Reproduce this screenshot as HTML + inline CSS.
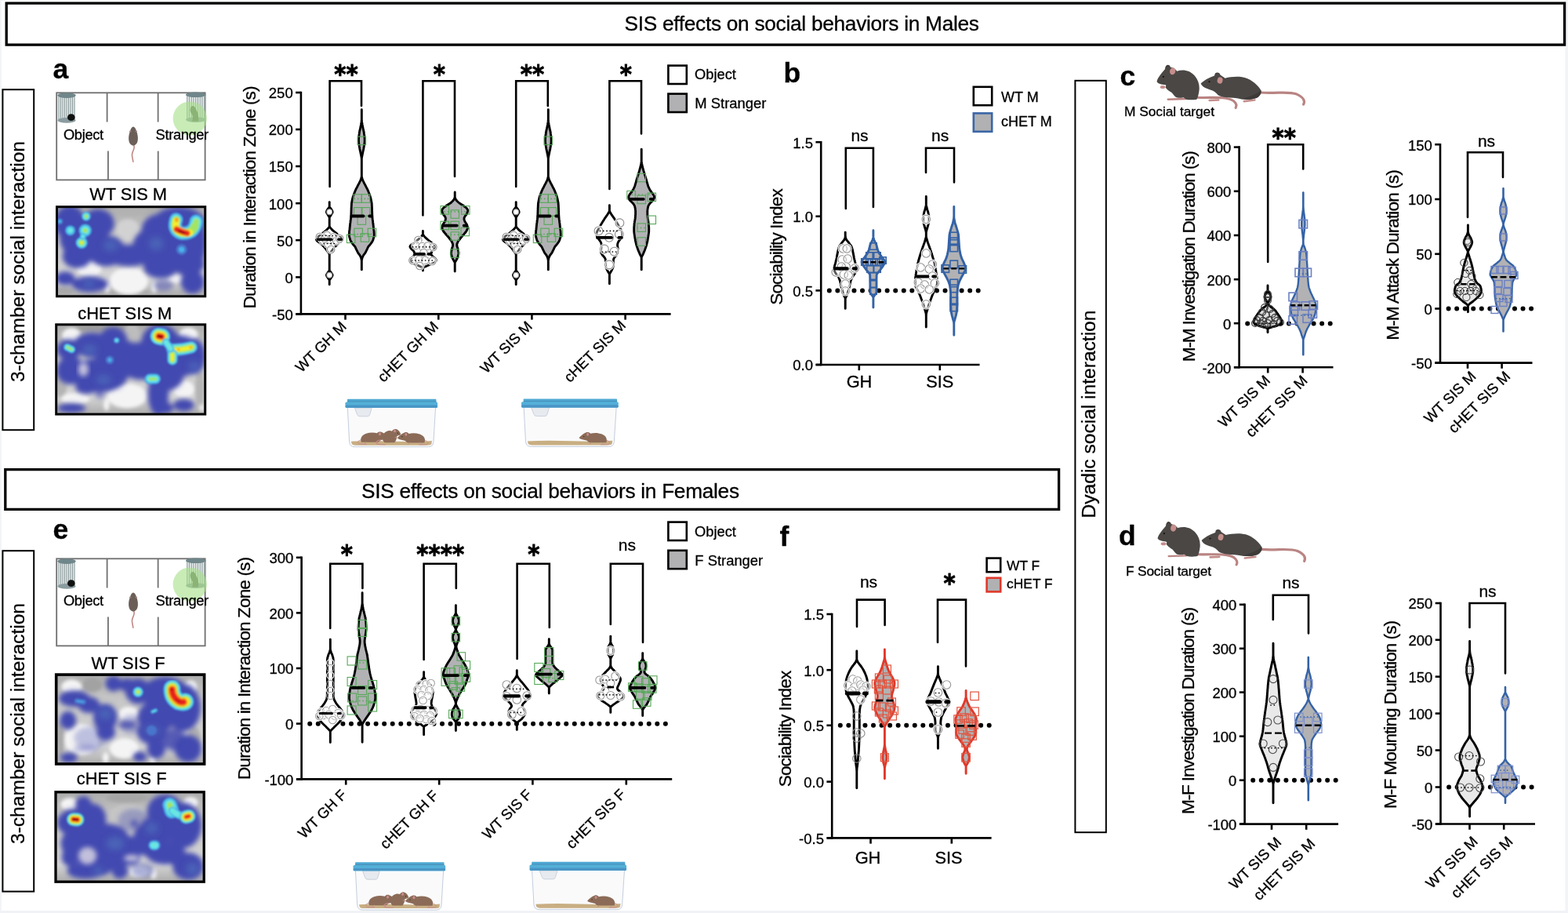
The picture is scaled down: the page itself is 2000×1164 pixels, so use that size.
<!DOCTYPE html>
<html lang="en">
<head>
<meta charset="utf-8">
<title>SIS effects on social behaviors</title>
<style>
html,body{margin:0;padding:0;background:#fff;}
body{width:2000px;height:1164px;overflow:hidden;}
svg{display:block;font-family:"Liberation Sans", sans-serif;}
</style>
</head>
<body>
<svg width="2000" height="1164" viewBox="0 0 2000 1164">
<defs>
<filter id="blur6" x="-20%" y="-20%" width="140%" height="140%"><feGaussianBlur stdDeviation="6"/></filter>
<filter id="blur4" x="-20%" y="-20%" width="140%" height="140%"><feGaussianBlur stdDeviation="4"/></filter>
<filter id="blur3" x="-20%" y="-20%" width="140%" height="140%"><feGaussianBlur stdDeviation="3"/></filter>
<filter id="blur2" x="-20%" y="-20%" width="140%" height="140%"><feGaussianBlur stdDeviation="2.2"/></filter>
<filter id="blur1" x="-20%" y="-20%" width="140%" height="140%"><feGaussianBlur stdDeviation="1"/></filter>
<filter id="soft" x="-5%" y="-5%" width="110%" height="110%"><feGaussianBlur stdDeviation="0.45"/></filter>
</defs>

<rect x="0" y="0" width="2000" height="1164" fill="#fff"/>
<rect x="0" y="0" width="2000" height="1164" fill="#fff"/>
<rect x="0" y="0" width="2" height="1164" fill="#f3f4f7"/>
<rect x="1996.4" y="0" width="3.6" height="1164" fill="#f3f4f7"/>
<rect x="0" y="1161" width="2000" height="3" fill="#f1f2f5"/>
<rect x="0" y="0" width="2000" height="1" fill="#f1f2f5"/>
<rect x="8.20" y="4.10" width="1987.40" height="53.00" fill="#fff" stroke="#000" stroke-width="3.3"/>
<text x="1022.70" y="39.20" font-size="26.24" text-anchor="middle" textLength="452.5" lengthAdjust="spacing" stroke="#000" stroke-width="0.3" stroke-linejoin="round">SIS effects on social behaviors in Males</text>
<rect x="6.80" y="598.60" width="1343.80" height="50.80" fill="#fff" stroke="#000" stroke-width="3.3"/>
<text x="702.00" y="634.60" font-size="26.24" text-anchor="middle" textLength="482.0" lengthAdjust="spacing" stroke="#000" stroke-width="0.3" stroke-linejoin="round">SIS effects on social behaviors in Females</text>
<rect x="3.40" y="114.20" width="39.80" height="434.00" fill="#fff" stroke="#000" stroke-width="2"/>
<text transform="translate(30.60 333.50) rotate(-90)" font-size="24.60" text-anchor="middle" textLength="307.0" lengthAdjust="spacing" stroke="#000" stroke-width="0.3" stroke-linejoin="round">3-chamber social interaction</text>
<rect x="3.40" y="702.20" width="39.80" height="434.40" fill="#fff" stroke="#000" stroke-width="2"/>
<text transform="translate(30.60 922.50) rotate(-90)" font-size="24.60" text-anchor="middle" textLength="307.0" lengthAdjust="spacing" stroke="#000" stroke-width="0.3" stroke-linejoin="round">3-chamber social interaction</text>
<rect x="1371.40" y="102.80" width="39.40" height="958.40" fill="#fff" stroke="#000" stroke-width="2"/>
<text transform="translate(1397.20 528.00) rotate(-90)" font-size="24.60" text-anchor="middle" textLength="265.0" lengthAdjust="spacing" stroke="#000" stroke-width="0.3" stroke-linejoin="round">Dyadic social interaction</text>
<rect x="72.2" y="118.3" width="189.4" height="111.1" fill="#fff" stroke="#6f6f6f" stroke-width="1.8"/>
<line x1="136.60" y1="118.30" x2="136.60" y2="155.50" stroke="#6f6f6f" stroke-width="1.8"/>
<line x1="137.90" y1="192.60" x2="137.90" y2="229.40" stroke="#6f6f6f" stroke-width="1.8"/>
<line x1="201.60" y1="118.30" x2="201.60" y2="155.50" stroke="#6f6f6f" stroke-width="1.8"/>
<line x1="201.70" y1="192.60" x2="201.70" y2="229.40" stroke="#6f6f6f" stroke-width="1.8"/>
<g>
<rect x="74.4" y="121.0" width="21.2" height="31" fill="#e9eeee"/>
<line x1="75.0" y1="122.0" x2="75.0" y2="153.0" stroke="#8b9a9c" stroke-width="1.1"/>
<line x1="77.5" y1="122.0" x2="77.5" y2="153.0" stroke="#8b9a9c" stroke-width="1.1"/>
<line x1="80.0" y1="122.0" x2="80.0" y2="153.0" stroke="#8b9a9c" stroke-width="1.1"/>
<line x1="82.5" y1="122.0" x2="82.5" y2="153.0" stroke="#8b9a9c" stroke-width="1.1"/>
<line x1="85.0" y1="122.0" x2="85.0" y2="153.0" stroke="#8b9a9c" stroke-width="1.1"/>
<line x1="87.5" y1="122.0" x2="87.5" y2="153.0" stroke="#8b9a9c" stroke-width="1.1"/>
<line x1="90.0" y1="122.0" x2="90.0" y2="153.0" stroke="#8b9a9c" stroke-width="1.1"/>
<line x1="92.5" y1="122.0" x2="92.5" y2="153.0" stroke="#8b9a9c" stroke-width="1.1"/>
<line x1="95.0" y1="122.0" x2="95.0" y2="153.0" stroke="#8b9a9c" stroke-width="1.1"/>
<ellipse cx="85.0" cy="153.4" rx="11.6" ry="3.4" fill="#8a9c9f"/>
<ellipse cx="85.0" cy="121.6" rx="11.799999999999999" ry="3.3" fill="#6f868a"/>
</g>
<ellipse cx="90.8" cy="149.7" rx="4.8" ry="4.4" fill="#111"/>
<g>
<rect x="238.1" y="120.2" width="23.2" height="31" fill="#e9eeee"/>
<line x1="238.7" y1="121.2" x2="238.7" y2="152.2" stroke="#8b9a9c" stroke-width="1.1"/>
<line x1="241.4" y1="121.2" x2="241.4" y2="152.2" stroke="#8b9a9c" stroke-width="1.1"/>
<line x1="244.2" y1="121.2" x2="244.2" y2="152.2" stroke="#8b9a9c" stroke-width="1.1"/>
<line x1="246.9" y1="121.2" x2="246.9" y2="152.2" stroke="#8b9a9c" stroke-width="1.1"/>
<line x1="249.7" y1="121.2" x2="249.7" y2="152.2" stroke="#8b9a9c" stroke-width="1.1"/>
<line x1="252.4" y1="121.2" x2="252.4" y2="152.2" stroke="#8b9a9c" stroke-width="1.1"/>
<line x1="255.2" y1="121.2" x2="255.2" y2="152.2" stroke="#8b9a9c" stroke-width="1.1"/>
<line x1="257.9" y1="121.2" x2="257.9" y2="152.2" stroke="#8b9a9c" stroke-width="1.1"/>
<line x1="260.7" y1="121.2" x2="260.7" y2="152.2" stroke="#8b9a9c" stroke-width="1.1"/>
<ellipse cx="249.7" cy="152.6" rx="12.6" ry="3.4" fill="#8a9c9f"/>
<ellipse cx="249.7" cy="120.8" rx="12.799999999999999" ry="3.3" fill="#6f868a"/>
</g>
<path d="M244.0 135.4q4 -2 6 4q4 6 3 15h-8q2 -6 -1 -10q-3 -4 0 -9z" fill="#5d6a52"/>
<circle cx="242.2" cy="151.0" r="21.6" fill="#a8e08a" opacity="0.62"/>
<path d="M170.6 184.8c2.4 5 -2.6 8 -2.2 13c0.3 4 1.4 6.6 1.4 8.4" fill="none" stroke="#c08784" stroke-width="1.6" stroke-linecap="round"/>
<path d="M170 161.4c1.6 0 3 2.2 3.8 5c1.8 4.4 2.6 9 1.8 13c-0.6 3.6 -3 6 -5.6 6c-2.6 0 -5 -2.4 -5.6 -6c-0.8 -4 0 -8.600 1.800 -13c0.8 -2.8 2.2 -5 3.8 -5z" fill="#6b5f58"/>
<ellipse cx="166.2" cy="167.6" rx="1.3" ry="1" fill="#a08580"/><ellipse cx="173.8" cy="167.6" rx="1.3" ry="1" fill="#a08580"/>
<text x="80.90" y="177.50" font-size="18.30" textLength="51.3" lengthAdjust="spacing" stroke="#000" stroke-width="0.3" stroke-linejoin="round">Object</text>
<text x="198.60" y="177.50" font-size="18.30" textLength="67.6" lengthAdjust="spacing" stroke="#000" stroke-width="0.3" stroke-linejoin="round">Stranger</text>
<text x="163.60" y="255.10" font-size="21.80" text-anchor="middle" textLength="98.6" lengthAdjust="spacing" stroke="#000" stroke-width="0.3" stroke-linejoin="round">WT SIS M</text>
<text x="159.20" y="406.80" font-size="21.80" text-anchor="middle" textLength="120.0" lengthAdjust="spacing" stroke="#000" stroke-width="0.3" stroke-linejoin="round">cHET SIS M</text>
<rect x="72.2" y="712.3" width="189.4" height="111.1" fill="#fff" stroke="#6f6f6f" stroke-width="1.8"/>
<line x1="136.60" y1="712.30" x2="136.60" y2="749.50" stroke="#6f6f6f" stroke-width="1.8"/>
<line x1="137.90" y1="786.60" x2="137.90" y2="823.40" stroke="#6f6f6f" stroke-width="1.8"/>
<line x1="201.60" y1="712.30" x2="201.60" y2="749.50" stroke="#6f6f6f" stroke-width="1.8"/>
<line x1="201.70" y1="786.60" x2="201.70" y2="823.40" stroke="#6f6f6f" stroke-width="1.8"/>
<g>
<rect x="74.4" y="715.0" width="21.2" height="31" fill="#e9eeee"/>
<line x1="75.0" y1="716.0" x2="75.0" y2="747.0" stroke="#8b9a9c" stroke-width="1.1"/>
<line x1="77.5" y1="716.0" x2="77.5" y2="747.0" stroke="#8b9a9c" stroke-width="1.1"/>
<line x1="80.0" y1="716.0" x2="80.0" y2="747.0" stroke="#8b9a9c" stroke-width="1.1"/>
<line x1="82.5" y1="716.0" x2="82.5" y2="747.0" stroke="#8b9a9c" stroke-width="1.1"/>
<line x1="85.0" y1="716.0" x2="85.0" y2="747.0" stroke="#8b9a9c" stroke-width="1.1"/>
<line x1="87.5" y1="716.0" x2="87.5" y2="747.0" stroke="#8b9a9c" stroke-width="1.1"/>
<line x1="90.0" y1="716.0" x2="90.0" y2="747.0" stroke="#8b9a9c" stroke-width="1.1"/>
<line x1="92.5" y1="716.0" x2="92.5" y2="747.0" stroke="#8b9a9c" stroke-width="1.1"/>
<line x1="95.0" y1="716.0" x2="95.0" y2="747.0" stroke="#8b9a9c" stroke-width="1.1"/>
<ellipse cx="85.0" cy="747.4" rx="11.6" ry="3.4" fill="#8a9c9f"/>
<ellipse cx="85.0" cy="715.6" rx="11.799999999999999" ry="3.3" fill="#6f868a"/>
</g>
<ellipse cx="90.8" cy="743.7" rx="4.8" ry="4.4" fill="#111"/>
<g>
<rect x="238.1" y="714.2" width="23.2" height="31" fill="#e9eeee"/>
<line x1="238.7" y1="715.2" x2="238.7" y2="746.2" stroke="#8b9a9c" stroke-width="1.1"/>
<line x1="241.4" y1="715.2" x2="241.4" y2="746.2" stroke="#8b9a9c" stroke-width="1.1"/>
<line x1="244.2" y1="715.2" x2="244.2" y2="746.2" stroke="#8b9a9c" stroke-width="1.1"/>
<line x1="246.9" y1="715.2" x2="246.9" y2="746.2" stroke="#8b9a9c" stroke-width="1.1"/>
<line x1="249.7" y1="715.2" x2="249.7" y2="746.2" stroke="#8b9a9c" stroke-width="1.1"/>
<line x1="252.4" y1="715.2" x2="252.4" y2="746.2" stroke="#8b9a9c" stroke-width="1.1"/>
<line x1="255.2" y1="715.2" x2="255.2" y2="746.2" stroke="#8b9a9c" stroke-width="1.1"/>
<line x1="257.9" y1="715.2" x2="257.9" y2="746.2" stroke="#8b9a9c" stroke-width="1.1"/>
<line x1="260.7" y1="715.2" x2="260.7" y2="746.2" stroke="#8b9a9c" stroke-width="1.1"/>
<ellipse cx="249.7" cy="746.6" rx="12.6" ry="3.4" fill="#8a9c9f"/>
<ellipse cx="249.7" cy="714.8" rx="12.799999999999999" ry="3.3" fill="#6f868a"/>
</g>
<path d="M244.0 729.4q4 -2 6 4q4 6 3 15h-8q2 -6 -1 -10q-3 -4 0 -9z" fill="#5d6a52"/>
<circle cx="242.2" cy="745.0" r="21.6" fill="#a8e08a" opacity="0.62"/>
<path d="M170.6 778.8c2.4 5 -2.6 8 -2.2 13c0.3 4 1.4 6.6 1.4 8.4" fill="none" stroke="#c08784" stroke-width="1.6" stroke-linecap="round"/>
<path d="M170 755.4c1.6 0 3 2.2 3.8 5c1.8 4.4 2.6 9 1.8 13c-0.6 3.6 -3 6 -5.6 6c-2.6 0 -5 -2.4 -5.6 -6c-0.8 -4 0 -8.600 1.800 -13c0.8 -2.8 2.2 -5 3.8 -5z" fill="#6b5f58"/>
<ellipse cx="166.2" cy="761.6" rx="1.3" ry="1" fill="#a08580"/><ellipse cx="173.8" cy="761.6" rx="1.3" ry="1" fill="#a08580"/>
<text x="80.90" y="771.50" font-size="18.30" textLength="51.3" lengthAdjust="spacing" stroke="#000" stroke-width="0.3" stroke-linejoin="round">Object</text>
<text x="198.60" y="771.50" font-size="18.30" textLength="67.6" lengthAdjust="spacing" stroke="#000" stroke-width="0.3" stroke-linejoin="round">Stranger</text>
<text x="163.60" y="853.20" font-size="21.80" text-anchor="middle" textLength="94.1" lengthAdjust="spacing" stroke="#000" stroke-width="0.3" stroke-linejoin="round">WT SIS F</text>
<text x="155.20" y="1000.20" font-size="21.80" text-anchor="middle" textLength="114.7" lengthAdjust="spacing" stroke="#000" stroke-width="0.3" stroke-linejoin="round">cHET SIS F</text>
<clipPath id="hc1"><rect x="72.0" y="263.2" width="190.2" height="115.1"/></clipPath>
<linearGradient id="hg1" x1="0" y1="0" x2="0" y2="1"><stop offset="0" stop-color="#a9a9a9"/><stop offset="0.25" stop-color="#c4c4c4"/><stop offset="0.8" stop-color="#d6d6d6"/><stop offset="1" stop-color="#a8a8a8"/></linearGradient>
<g clip-path="url(#hc1)">
<rect x="71.0" y="262.2" width="192.2" height="117.1" fill="url(#hg1)"/>
<g filter="url(#blur2)">
<ellipse cx="164.4" cy="268.9" rx="26.7" ry="4.6" fill="#b2b2b2"/>
<ellipse cx="163.2" cy="293.3" rx="15.1" ry="13.9" fill="#d2d2d2"/>
<ellipse cx="80.9" cy="371.0" rx="13.9" ry="4.6" fill="#a8a8a8"/>
<ellipse cx="245.6" cy="373.3" rx="17.4" ry="3.5" fill="#b0b0b0"/>
<ellipse cx="164.4" cy="372.1" rx="26.7" ry="2.9" fill="#a6a6a6"/>
<ellipse cx="113.9" cy="342.0" rx="15.7" ry="11.0" fill="#f4f4f4"/>
<ellipse cx="164.4" cy="358.2" rx="24.4" ry="17.4" fill="#f4f4f4"/>
<ellipse cx="224.7" cy="354.7" rx="10.4" ry="5.8" fill="#f4f4f4"/>
<ellipse cx="196.8" cy="366.3" rx="3.5" ry="7.0" fill="#f4f4f4"/>
<ellipse cx="136.5" cy="366.3" rx="3.5" ry="7.0" fill="#f4f4f4"/>
</g>
<g filter="url(#blur3)" fill="#4248b0">
<ellipse cx="89.0" cy="284.0" rx="19.7" ry="22.0"/>
<ellipse cx="106.4" cy="303.7" rx="30.2" ry="27.8"/>
<ellipse cx="124.9" cy="285.2" rx="20.9" ry="18.6"/>
<ellipse cx="98.3" cy="326.9" rx="18.6" ry="15.1"/>
<ellipse cx="135.4" cy="319.9" rx="24.4" ry="19.7"/>
<ellipse cx="164.4" cy="325.7" rx="30.2" ry="13.9"/>
<ellipse cx="193.4" cy="315.3" rx="24.4" ry="24.4"/>
<ellipse cx="205.0" cy="293.3" rx="24.4" ry="20.9"/>
<ellipse cx="228.2" cy="284.0" rx="33.6" ry="20.3"/>
<ellipse cx="247.9" cy="307.2" rx="15.1" ry="36.0"/>
<ellipse cx="222.4" cy="324.6" rx="36.0" ry="22.0"/>
<ellipse cx="205.0" cy="340.8" rx="22.0" ry="13.9"/>
<ellipse cx="239.8" cy="336.2" rx="20.9" ry="15.1"/>
<ellipse cx="83.2" cy="354.7" rx="12.2" ry="8.7"/>
<ellipse cx="114.5" cy="362.3" rx="23.2" ry="9.9"/>
<ellipse cx="245.6" cy="359.4" rx="15.1" ry="15.1"/>
<ellipse cx="208.4" cy="364.0" rx="12.8" ry="7.0" opacity="0.5"/>
</g>
<g filter="url(#blur3)">
</g>
<g filter="url(#blur4)">
<ellipse cx="141.2" cy="313.0" rx="9.3" ry="7.0" fill="#4c6cba" opacity="0.8"/>
<ellipse cx="199.2" cy="310.7" rx="9.3" ry="8.1" fill="#4c6cba" opacity="0.8"/>
<ellipse cx="113.3" cy="361.7" rx="8.1" ry="4.6" fill="#4c6cba" opacity="0.8"/>
</g>
<g filter="url(#blur1)" fill="none" stroke-linecap="round" stroke-linejoin="round">
<path d="M224.7 279.9Q220.0 293.3 231.6 297.3Q247.9 298.5 250.2 282.3" stroke="#48b4ea" stroke-width="17.4"/>
<path d="M224.7 279.9Q220.0 293.3 231.6 297.3Q247.9 298.5 250.2 282.3" stroke="#6ae6e2" stroke-width="12.2"/>
<path d="M224.7 280.5Q220.6 293.3 231.6 297.0Q244.4 298.5 248.4 288.6" stroke="#a4e464" stroke-width="10.2"/>
<path d="M250.2 284.0L250.2 282.3" stroke="#a4e464" stroke-width="7.0"/>
<path d="M224.7 281.7Q221.8 293.3 231.6 296.7Q237.4 298.1 242.1 296.7" stroke="#f2ee2e" stroke-width="8.3"/>
<path d="M225.3 279.7L225.3 281.1" stroke="#f7a21e" stroke-width="4.4"/>
<path d="M225.3 292.3Q231.6 295.6 238.6 297.4" stroke="#f7a21e" stroke-width="9.0"/>
<path d="M225.3 292.3Q231.6 295.6 238.6 297.4" stroke="#e8221e" stroke-width="6.0"/>
<path d="M228.2 294.8L235.1 297.0" stroke="#8e0a0a" stroke-width="2.3"/>
<path d="M109.9 275.9h0.01" stroke="#48b4ea" stroke-width="11.6"/>
<path d="M109.9 275.9h0.01" stroke="#6ae6e2" stroke-width="8.1"/>
<path d="M109.9 275.9h0.01" stroke="#a4e464" stroke-width="4.6"/>
<path d="M89.6 293.8h0.01" stroke="#48b4ea" stroke-width="12.8"/>
<path d="M89.6 293.8h0.01" stroke="#6ae6e2" stroke-width="7.0"/>
<path d="M108.7 293.8h0.01" stroke="#48b4ea" stroke-width="16.2"/>
<path d="M108.7 293.8h0.01" stroke="#6ae6e2" stroke-width="11.0"/>
<path d="M108.7 293.8h0.01" stroke="#a4e464" stroke-width="5.8"/>
<path d="M104.1 309.5h0.01" stroke="#48b4ea" stroke-width="15.1"/>
<path d="M104.1 309.5h0.01" stroke="#6ae6e2" stroke-width="11.2"/>
<path d="M104.1 309.5h0.01" stroke="#a4e464" stroke-width="7.3"/>
<path d="M104.1 309.5h0.01" stroke="#f2ee2e" stroke-width="3.5"/>
<path d="M105.8 301.4h0.01" stroke="#48b4ea" stroke-width="8.1"/>
<path d="M105.8 301.4h0.01" stroke="#6ae6e2" stroke-width="4.6"/>
<path d="M231.6 318.2h0.01" stroke="#4a74cc" stroke-width="13.9"/>
<path d="M231.6 318.2h0.01" stroke="#48b4ea" stroke-width="7.0"/>
<path d="M76.2 282.3h0.01" stroke="#4a74cc" stroke-width="8.1"/>
<path d="M76.2 282.3h0.01" stroke="#48b4ea" stroke-width="4.6"/>
</g>
</g>
<rect x="72.5" y="263.7" width="189.2" height="114.1" fill="none" stroke="#000" stroke-width="3.0"/>
<clipPath id="hc2"><rect x="71.2" y="413.3" width="191.0" height="115.3"/></clipPath>
<linearGradient id="hg2" x1="0" y1="0" x2="0" y2="1"><stop offset="0" stop-color="#a9a9a9"/><stop offset="0.25" stop-color="#c4c4c4"/><stop offset="0.8" stop-color="#d6d6d6"/><stop offset="1" stop-color="#a8a8a8"/></linearGradient>
<g clip-path="url(#hc2)">
<rect x="70.2" y="412.3" width="193.0" height="117.3" fill="url(#hg2)"/>
<g filter="url(#blur2)">
<ellipse cx="132.2" cy="418.0" rx="48.1" ry="4.8" fill="#9e9e9e"/>
<ellipse cx="168.2" cy="427.7" rx="10.8" ry="15.6" fill="#bdbdbd"/>
<ellipse cx="78.0" cy="490.2" rx="7.2" ry="18.0" fill="#b4b4b4"/>
<ellipse cx="254.8" cy="496.2" rx="6.0" ry="24.1" fill="#b4b4b4"/>
<ellipse cx="105.7" cy="470.9" rx="8.4" ry="10.2" fill="#f4f4f4"/>
<ellipse cx="162.2" cy="504.6" rx="25.3" ry="15.6" fill="#f4f4f4"/>
<ellipse cx="96.1" cy="508.2" rx="18.0" ry="7.2" fill="#f4f4f4"/>
<ellipse cx="234.4" cy="496.2" rx="13.2" ry="10.8" fill="#f4f4f4"/>
<ellipse cx="91.3" cy="427.7" rx="12.0" ry="9.6" fill="#f4f4f4"/>
<ellipse cx="240.4" cy="426.5" rx="12.0" ry="9.0" fill="#f4f4f4"/>
<ellipse cx="135.8" cy="515.4" rx="3.6" ry="8.4" fill="#f4f4f4"/>
<ellipse cx="257.2" cy="520.3" rx="2.4" ry="4.8" fill="#f4f4f4"/>
</g>
<g filter="url(#blur3)" fill="#4248b0">
<ellipse cx="87.7" cy="445.7" rx="15.6" ry="13.2"/>
<ellipse cx="90.1" cy="472.2" rx="18.0" ry="18.0"/>
<ellipse cx="117.7" cy="439.7" rx="24.1" ry="15.6"/>
<ellipse cx="144.2" cy="433.7" rx="18.0" ry="16.8"/>
<ellipse cx="127.3" cy="478.2" rx="36.1" ry="21.6"/>
<ellipse cx="151.4" cy="454.1" rx="30.1" ry="21.6"/>
<ellipse cx="180.3" cy="460.1" rx="31.3" ry="24.1"/>
<ellipse cx="204.3" cy="436.1" rx="24.1" ry="22.8"/>
<ellipse cx="228.4" cy="454.1" rx="30.1" ry="26.5"/>
<ellipse cx="246.4" cy="454.1" rx="15.6" ry="22.8"/>
<ellipse cx="201.9" cy="502.2" rx="13.2" ry="27.7"/>
<ellipse cx="210.3" cy="478.2" rx="24.1" ry="20.4"/>
<ellipse cx="110.5" cy="493.8" rx="14.4" ry="8.4"/>
<ellipse cx="127.3" cy="503.4" rx="6.0" ry="4.8" opacity="0.6"/>
<ellipse cx="91.3" cy="520.3" rx="18.0" ry="6.0"/>
<ellipse cx="234.4" cy="516.6" rx="13.2" ry="7.8"/>
<ellipse cx="210.3" cy="520.3" rx="10.8" ry="7.2"/>
</g>
<g filter="url(#blur3)">
<ellipse cx="106.3" cy="470.9" rx="6.6" ry="9.0" fill="#cfcce0" opacity="0.9"/>
</g>
<g filter="url(#blur4)">
<ellipse cx="114.1" cy="445.7" rx="9.6" ry="6.0" fill="#4c6cba" opacity="0.8"/>
<ellipse cx="132.2" cy="484.2" rx="9.6" ry="6.0" fill="#4c6cba" opacity="0.8"/>
<ellipse cx="247.6" cy="467.3" rx="7.2" ry="6.0" fill="#4c6cba" opacity="0.8"/>
</g>
<g filter="url(#blur1)" fill="none" stroke-linecap="round" stroke-linejoin="round">
<path d="M202.5 428.6L206.1 429.3" stroke="#48b4ea" stroke-width="22.2"/>
<path d="M202.5 428.6L206.1 429.3" stroke="#6ae6e2" stroke-width="19.1"/>
<path d="M202.5 428.6L206.1 429.3" stroke="#a4e464" stroke-width="16.0"/>
<path d="M202.5 428.6L206.1 429.3" stroke="#f2ee2e" stroke-width="12.8"/>
<path d="M202.5 428.6L206.1 429.3" stroke="#f7a21e" stroke-width="9.7"/>
<path d="M202.5 428.6L206.1 429.3" stroke="#e8221e" stroke-width="6.5"/>
<path d="M202.5 428.6L206.1 429.3" stroke="#8e0a0a" stroke-width="3.4"/>
<path d="M219.9 445.7Q230.8 446.3 244.0 442.7" stroke="#48b4ea" stroke-width="15.6"/>
<path d="M219.9 445.7Q230.8 446.3 244.0 442.7" stroke="#6ae6e2" stroke-width="12.0"/>
<path d="M219.9 445.7Q230.8 446.3 244.0 442.7" stroke="#a4e464" stroke-width="8.4"/>
<path d="M219.9 445.7Q230.8 446.3 244.0 442.7" stroke="#f2ee2e" stroke-width="4.8"/>
<path d="M227.1 445.5L228.4 445.5" stroke="#f7a21e" stroke-width="2.6"/>
<path d="M242.8 443.0L244.0 442.8" stroke="#f7a21e" stroke-width="2.4"/>
<path d="M219.9 451.7L219.9 458.9" stroke="#48b4ea" stroke-width="13.2"/>
<path d="M219.9 451.7L219.9 458.9" stroke="#6ae6e2" stroke-width="10.0"/>
<path d="M219.9 451.7L219.9 458.9" stroke="#a4e464" stroke-width="6.8"/>
<path d="M219.9 451.7L219.9 458.9" stroke="#f2ee2e" stroke-width="3.6"/>
<path d="M211.5 436.1L217.5 444.5" stroke="#48b4ea" stroke-width="9.6"/>
<path d="M211.5 436.1L217.5 444.5" stroke="#6ae6e2" stroke-width="6.0"/>
<path d="M191.1 483.2L198.3 483.0" stroke="#48b4ea" stroke-width="13.2"/>
<path d="M191.1 483.2L198.3 483.0" stroke="#6ae6e2" stroke-width="8.4"/>
<path d="M191.1 483.2L198.3 483.0" stroke="#a4e464" stroke-width="3.6"/>
<path d="M85.9 442.7L91.3 445.5" stroke="#48b4ea" stroke-width="9.6"/>
<path d="M85.9 442.7L91.3 445.5" stroke="#6ae6e2" stroke-width="6.3"/>
<path d="M85.9 442.7L91.3 445.5" stroke="#a4e464" stroke-width="3.0"/>
<path d="M148.7 433.9h0.01" stroke="#4a74cc" stroke-width="8.4"/>
<path d="M148.7 433.9h0.01" stroke="#48b4ea" stroke-width="6.0"/>
<path d="M148.7 433.9h0.01" stroke="#6ae6e2" stroke-width="3.6"/>
<path d="M140.0 458.9h0.01" stroke="#4a74cc" stroke-width="10.8"/>
<path d="M140.0 458.9h0.01" stroke="#48b4ea" stroke-width="4.8"/>
</g>
</g>
<rect x="71.7" y="413.8" width="190.0" height="114.3" fill="none" stroke="#000" stroke-width="3.0"/>
<clipPath id="hc3"><rect x="70.9" y="859.3" width="190.5" height="115.5"/></clipPath>
<linearGradient id="hg3" x1="0" y1="0" x2="0" y2="1"><stop offset="0" stop-color="#a9a9a9"/><stop offset="0.25" stop-color="#c4c4c4"/><stop offset="0.8" stop-color="#d6d6d6"/><stop offset="1" stop-color="#a8a8a8"/></linearGradient>
<g clip-path="url(#hc3)">
<rect x="69.9" y="858.3" width="192.5" height="117.5" fill="url(#hg3)"/>
<g filter="url(#blur2)">
<ellipse cx="118.0" cy="873.2" rx="12.8" ry="9.3" fill="#a2a2a2"/>
<ellipse cx="162.1" cy="898.7" rx="13.9" ry="9.3" fill="#c8c8c8"/>
<ellipse cx="247.9" cy="940.5" rx="8.1" ry="13.9" fill="#b0b0b0"/>
<ellipse cx="77.4" cy="942.8" rx="4.6" ry="23.2" fill="#a8a8a8"/>
<ellipse cx="104.1" cy="942.8" rx="22.0" ry="19.7" fill="#f4f4f4"/>
<ellipse cx="158.6" cy="954.4" rx="18.6" ry="12.8" fill="#f4f4f4"/>
<ellipse cx="91.3" cy="875.5" rx="12.8" ry="9.3" fill="#f4f4f4"/>
<ellipse cx="243.2" cy="875.5" rx="8.1" ry="8.1" fill="#f4f4f4"/>
<ellipse cx="134.8" cy="966.0" rx="4.1" ry="7.0" fill="#f4f4f4"/>
<ellipse cx="194.5" cy="968.3" rx="4.1" ry="4.6" fill="#f4f4f4"/>
<ellipse cx="164.4" cy="910.3" rx="12.8" ry="9.3" fill="#f4f4f4"/>
</g>
<g filter="url(#blur3)" fill="#4248b0">
<ellipse cx="94.8" cy="890.6" rx="19.7" ry="10.4"/>
<ellipse cx="113.3" cy="898.7" rx="13.9" ry="10.4"/>
<ellipse cx="86.7" cy="918.4" rx="10.4" ry="11.6"/>
<ellipse cx="134.2" cy="914.9" rx="15.1" ry="17.4"/>
<ellipse cx="135.4" cy="933.5" rx="11.6" ry="10.4"/>
<ellipse cx="144.7" cy="871.5" rx="10.4" ry="9.9"/>
<ellipse cx="176.0" cy="881.3" rx="16.2" ry="16.2"/>
<ellipse cx="162.1" cy="873.2" rx="11.6" ry="8.1"/>
<ellipse cx="210.8" cy="884.8" rx="30.2" ry="22.0"/>
<ellipse cx="234.0" cy="902.2" rx="22.0" ry="30.2"/>
<ellipse cx="199.2" cy="913.8" rx="23.2" ry="20.9"/>
<ellipse cx="193.4" cy="933.5" rx="18.6" ry="15.1"/>
<ellipse cx="199.2" cy="954.4" rx="11.6" ry="12.8"/>
<ellipse cx="239.8" cy="954.4" rx="17.4" ry="17.4"/>
<ellipse cx="222.4" cy="942.8" rx="15.1" ry="12.8" opacity="0.75"/>
<ellipse cx="87.8" cy="966.0" rx="11.0" ry="6.4"/>
<ellipse cx="178.3" cy="964.8" rx="8.7" ry="6.4"/>
<ellipse cx="162.1" cy="924.2" rx="11.6" ry="4.6" opacity="0.8"/>
<ellipse cx="108.7" cy="954.4" rx="15.1" ry="4.6" opacity="0.35"/>
<ellipse cx="116.2" cy="940.6" rx="22.0" ry="14.7" opacity="0.3"/>
<ellipse cx="167.7" cy="923.4" rx="14.7" ry="12.2" opacity="0.35"/>
<ellipse cx="219.1" cy="940.6" rx="12.2" ry="17.2" opacity="0.45"/>
</g>
<g filter="url(#blur3)">
</g>
<g filter="url(#blur4)">
<ellipse cx="134.2" cy="910.3" rx="9.3" ry="7.0" fill="#4c6cba" opacity="0.8"/>
<ellipse cx="193.4" cy="931.2" rx="10.4" ry="5.8" fill="#4c6cba" opacity="0.8"/>
</g>
<g filter="url(#blur1)" fill="none" stroke-linecap="round" stroke-linejoin="round">
<path d="M219.5 877.8Q218.9 889.4 228.2 894.6Q234.0 896.4 236.3 894.6" stroke="#48b4ea" stroke-width="22.0"/>
<path d="M219.5 877.8Q218.9 889.4 228.2 894.6Q234.0 896.4 236.3 894.6" stroke="#6ae6e2" stroke-width="18.6"/>
<path d="M219.5 877.8Q218.9 889.4 228.2 894.6Q234.0 896.4 236.3 894.6" stroke="#a4e464" stroke-width="15.1"/>
<path d="M219.5 877.8Q218.9 889.4 228.2 894.6Q234.0 896.4 236.3 894.6" stroke="#f2ee2e" stroke-width="11.6"/>
<path d="M219.5 879.0Q219.5 888.3 228.2 894.1Q231.6 895.8 234.0 895.0" stroke="#f7a21e" stroke-width="11.0"/>
<path d="M219.5 879.0Q219.5 888.3 228.2 894.1Q231.6 895.8 234.0 895.0" stroke="#e8221e" stroke-width="7.0"/>
<path d="M218.6 878.4L218.6 880.4" stroke="#8e0a0a" stroke-width="1.2"/>
<path d="M224.1 892.0L230.5 894.6" stroke="#8e0a0a" stroke-width="0.9"/>
<path d="M176.0 882.2h0.01" stroke="#48b4ea" stroke-width="13.3"/>
<path d="M176.0 882.2h0.01" stroke="#6ae6e2" stroke-width="9.7"/>
<path d="M176.0 882.2h0.01" stroke="#a4e464" stroke-width="6.0"/>
<path d="M176.0 882.2h0.01" stroke="#f2ee2e" stroke-width="2.3"/>
<path d="M98.3 893.8L106.4 895.0" stroke="#4a74cc" stroke-width="7.0"/>
<path d="M98.3 893.8L106.4 895.0" stroke="#48b4ea" stroke-width="1.4"/>
<path d="M194.5 907.4L198.6 905.7" stroke="#4a74cc" stroke-width="5.8"/>
<path d="M194.5 907.4L198.6 905.7" stroke="#48b4ea" stroke-width="3.6"/>
<path d="M194.5 907.4L198.6 905.7" stroke="#6ae6e2" stroke-width="1.4"/>
<path d="M193.4 931.2h0.01" stroke="#4a74cc" stroke-width="12.8"/>
</g>
</g>
<rect x="71.7" y="860.1" width="188.9" height="113.9" fill="none" stroke="#000" stroke-width="3.6"/>
<clipPath id="hc4"><rect x="70.3" y="1009.1" width="190.5" height="115.7"/></clipPath>
<linearGradient id="hg4" x1="0" y1="0" x2="0" y2="1"><stop offset="0" stop-color="#a9a9a9"/><stop offset="0.25" stop-color="#c4c4c4"/><stop offset="0.8" stop-color="#d6d6d6"/><stop offset="1" stop-color="#a8a8a8"/></linearGradient>
<g clip-path="url(#hc4)">
<rect x="69.3" y="1008.1" width="192.5" height="117.7" fill="url(#hg4)"/>
<g filter="url(#blur2)">
<ellipse cx="162.1" cy="1017.4" rx="26.7" ry="5.8" fill="#a6a6a6"/>
<ellipse cx="164.4" cy="1038.3" rx="23.2" ry="12.8" fill="#c6c6c6"/>
<ellipse cx="222.4" cy="1096.3" rx="3.5" ry="4.6" fill="#8f86c0"/>
<ellipse cx="89.0" cy="1025.5" rx="11.6" ry="8.1" fill="#f4f4f4"/>
<ellipse cx="243.2" cy="1023.2" rx="9.3" ry="7.0" fill="#f4f4f4"/>
<ellipse cx="195.7" cy="1113.6" rx="4.1" ry="7.0" fill="#f4f4f4"/>
<ellipse cx="177.1" cy="1111.3" rx="12.8" ry="7.0" fill="#f4f4f4"/>
</g>
<g filter="url(#blur3)" fill="#4248b0">
<ellipse cx="106.4" cy="1025.5" rx="10.4" ry="10.4"/>
<ellipse cx="94.8" cy="1048.7" rx="22.0" ry="17.4"/>
<ellipse cx="118.0" cy="1044.1" rx="17.4" ry="19.7"/>
<ellipse cx="100.6" cy="1075.4" rx="23.2" ry="19.7"/>
<ellipse cx="135.4" cy="1069.6" rx="29.0" ry="19.7"/>
<ellipse cx="164.4" cy="1078.9" rx="29.0" ry="12.8"/>
<ellipse cx="193.4" cy="1069.6" rx="23.2" ry="23.2"/>
<ellipse cx="210.8" cy="1034.8" rx="23.2" ry="22.0"/>
<ellipse cx="234.0" cy="1052.2" rx="23.2" ry="29.0"/>
<ellipse cx="193.4" cy="1052.2" rx="12.8" ry="9.3"/>
<ellipse cx="210.8" cy="1087.0" rx="25.5" ry="15.1"/>
<ellipse cx="239.8" cy="1104.4" rx="19.7" ry="17.4"/>
<ellipse cx="108.7" cy="1110.2" rx="23.2" ry="10.4"/>
<ellipse cx="129.6" cy="1107.9" rx="11.6" ry="8.1"/>
<ellipse cx="152.8" cy="1110.2" rx="10.4" ry="10.4"/>
<ellipse cx="171.3" cy="1049.9" rx="4.6" ry="4.6" opacity="0.8"/>
<ellipse cx="89.0" cy="1092.8" rx="10.4" ry="11.6"/>
<ellipse cx="170.2" cy="1045.9" rx="19.6" ry="14.7" opacity="0.35"/>
<ellipse cx="182.3" cy="1109.5" rx="14.7" ry="9.7" opacity="0.4"/>
<ellipse cx="112.2" cy="1090.5" rx="17.4" ry="15.1"/>
<ellipse cx="141.2" cy="1095.1" rx="18.6" ry="15.1"/>
<ellipse cx="124.9" cy="1081.2" rx="23.2" ry="17.4"/>
<ellipse cx="164.4" cy="1092.8" rx="13.9" ry="10.4"/>
</g>
<g filter="url(#blur3)">
<ellipse cx="111.6" cy="1091.0" rx="11.6" ry="11.0" fill="#cfcce0" opacity="0.9"/>
<ellipse cx="167.9" cy="1094.2" rx="9.9" ry="4.4" fill="#cfcce0" opacity="0.9"/>
</g>
<g filter="url(#blur4)">
<ellipse cx="147.0" cy="1075.4" rx="11.6" ry="8.1" fill="#4c6cba" opacity="0.8"/>
<ellipse cx="193.4" cy="1055.7" rx="8.1" ry="7.0" fill="#4c6cba" opacity="0.8"/>
<ellipse cx="245.6" cy="1107.9" rx="8.1" ry="8.1" fill="#4c6cba" opacity="0.8"/>
<ellipse cx="124.9" cy="1110.2" rx="7.0" ry="4.6" fill="#4c6cba" opacity="0.8"/>
</g>
<g filter="url(#blur1)" fill="none" stroke-linecap="round" stroke-linejoin="round">
<path d="M93.6 1044.6L98.8 1045.0" stroke="#48b4ea" stroke-width="17.4"/>
<path d="M93.6 1044.6L98.8 1045.0" stroke="#6ae6e2" stroke-width="14.9"/>
<path d="M93.6 1044.6L98.8 1045.0" stroke="#a4e464" stroke-width="12.4"/>
<path d="M93.6 1044.6L98.8 1045.0" stroke="#f2ee2e" stroke-width="10.0"/>
<path d="M93.6 1044.6L98.8 1045.0" stroke="#f7a21e" stroke-width="7.5"/>
<path d="M93.6 1044.6L98.8 1045.0" stroke="#e8221e" stroke-width="5.0"/>
<path d="M93.6 1044.6L98.8 1045.0" stroke="#8e0a0a" stroke-width="2.6"/>
<path d="M216.6 1026.1L219.1 1034.2" stroke="#48b4ea" stroke-width="18.6"/>
<path d="M216.6 1026.1L219.1 1034.2" stroke="#6ae6e2" stroke-width="12.8"/>
<path d="M216.6 1026.1L219.1 1034.2" stroke="#a4e464" stroke-width="7.0"/>
<path d="M220.0 1033.6Q227.0 1040.6 238.6 1041.2" stroke="#48b4ea" stroke-width="10.4"/>
<path d="M220.0 1033.6Q227.0 1040.6 238.6 1041.2" stroke="#6ae6e2" stroke-width="7.0"/>
<path d="M237.4 1041.5L240.9 1040.6" stroke="#48b4ea" stroke-width="17.4"/>
<path d="M237.4 1041.5L240.9 1040.6" stroke="#6ae6e2" stroke-width="14.7"/>
<path d="M237.4 1041.5L240.9 1040.6" stroke="#a4e464" stroke-width="12.1"/>
<path d="M237.4 1041.5L240.9 1040.6" stroke="#f2ee2e" stroke-width="9.4"/>
<path d="M237.4 1041.5L240.9 1040.6" stroke="#f7a21e" stroke-width="6.7"/>
<path d="M237.4 1041.5L240.9 1040.6" stroke="#e8221e" stroke-width="4.1"/>
<path d="M195.7 1077.7L198.0 1077.7" stroke="#4a74cc" stroke-width="13.9"/>
<path d="M195.7 1077.7L198.0 1077.7" stroke="#48b4ea" stroke-width="11.0"/>
<path d="M195.7 1077.7L198.0 1077.7" stroke="#6ae6e2" stroke-width="8.1"/>
</g>
</g>
<rect x="71.0" y="1009.8" width="189.2" height="114.4" fill="none" stroke="#000" stroke-width="3.3"/>
<text x="67.50" y="99.60" font-size="35.50" font-weight="bold" stroke="#000" stroke-width="0.3" stroke-linejoin="round">a</text>
<line x1="383.90" y1="116.70" x2="383.90" y2="401.70" stroke="#000" stroke-width="2.6"/>
<line x1="377.10" y1="118.00" x2="383.90" y2="118.00" stroke="#000" stroke-width="2.6"/>
<text x="373.70" y="125.30" font-size="18.50" text-anchor="end" textLength="30.9" lengthAdjust="spacing" stroke="#000" stroke-width="0.3" stroke-linejoin="round">250</text>
<line x1="377.10" y1="165.00" x2="383.90" y2="165.00" stroke="#000" stroke-width="2.6"/>
<text x="373.70" y="172.30" font-size="18.50" text-anchor="end" textLength="30.9" lengthAdjust="spacing" stroke="#000" stroke-width="0.3" stroke-linejoin="round">200</text>
<line x1="377.10" y1="212.00" x2="383.90" y2="212.00" stroke="#000" stroke-width="2.6"/>
<text x="373.70" y="219.30" font-size="18.50" text-anchor="end" textLength="30.9" lengthAdjust="spacing" stroke="#000" stroke-width="0.3" stroke-linejoin="round">150</text>
<line x1="377.10" y1="259.20" x2="383.90" y2="259.20" stroke="#000" stroke-width="2.6"/>
<text x="373.70" y="266.50" font-size="18.50" text-anchor="end" textLength="30.9" lengthAdjust="spacing" stroke="#000" stroke-width="0.3" stroke-linejoin="round">100</text>
<line x1="377.10" y1="306.20" x2="383.90" y2="306.20" stroke="#000" stroke-width="2.6"/>
<text x="373.70" y="313.50" font-size="18.50" text-anchor="end" textLength="20.6" lengthAdjust="spacing" stroke="#000" stroke-width="0.3" stroke-linejoin="round">50</text>
<line x1="377.10" y1="353.40" x2="383.90" y2="353.40" stroke="#000" stroke-width="2.6"/>
<text x="373.70" y="360.70" font-size="18.50" text-anchor="end" stroke="#000" stroke-width="0.3" stroke-linejoin="round">0</text>
<line x1="377.10" y1="400.40" x2="383.90" y2="400.40" stroke="#000" stroke-width="2.6"/>
<text x="373.70" y="407.70" font-size="18.50" text-anchor="end" textLength="26.7" lengthAdjust="spacing" stroke="#000" stroke-width="0.3" stroke-linejoin="round">-50</text>
<line x1="377.40" y1="400.40" x2="855.60" y2="400.40" stroke="#000" stroke-width="2.6"/>
<line x1="440.50" y1="400.40" x2="440.50" y2="407.60" stroke="#000" stroke-width="2.6"/>
<line x1="559.30" y1="400.40" x2="559.30" y2="407.60" stroke="#000" stroke-width="2.6"/>
<line x1="678.40" y1="400.40" x2="678.40" y2="407.60" stroke="#000" stroke-width="2.6"/>
<line x1="797.60" y1="400.40" x2="797.60" y2="407.60" stroke="#000" stroke-width="2.6"/>
<text transform="translate(325.60 251.50) rotate(-90)" font-size="22.66" text-anchor="middle" textLength="284.0" lengthAdjust="spacing" stroke="#000" stroke-width="0.3" stroke-linejoin="round">Duration in Interaction Zone (s)</text>
<text transform="translate(442.90 417.50) rotate(-45)" font-size="18.65" text-anchor="end" textLength="82.5" lengthAdjust="spacing" stroke="#000" stroke-width="0.3" stroke-linejoin="round">WT GH M</text>
<text transform="translate(560.20 417.50) rotate(-45)" font-size="18.65" text-anchor="end" textLength="100.2" lengthAdjust="spacing" stroke="#000" stroke-width="0.3" stroke-linejoin="round">cHET GH M</text>
<text transform="translate(680.00 417.20) rotate(-45)" font-size="18.65" text-anchor="end" textLength="84.6" lengthAdjust="spacing" stroke="#000" stroke-width="0.3" stroke-linejoin="round">WT SIS M</text>
<text transform="translate(799.30 416.10) rotate(-45)" font-size="18.65" text-anchor="end" textLength="102.3" lengthAdjust="spacing" stroke="#000" stroke-width="0.3" stroke-linejoin="round">cHET SIS M</text>
<rect x="852.40" y="83.60" width="23.40" height="23.40" fill="#fff" stroke="#000" stroke-width="2.6"/>
<rect x="852.40" y="119.60" width="23.40" height="23.40" fill="#b1b1b3" stroke="#000" stroke-width="2.6"/>
<text x="886.00" y="101.20" font-size="18.30" textLength="52.9" lengthAdjust="spacing" stroke="#000" stroke-width="0.3" stroke-linejoin="round">Object</text>
<text x="886.30" y="138.20" font-size="18.40" textLength="91.0" lengthAdjust="spacing" stroke="#000" stroke-width="0.3" stroke-linejoin="round">M Stranger</text>
<path d="M420.60 238.00V103.20H461.00V135.00" fill="none" stroke="#000" stroke-width="2.6" stroke-linecap="round" stroke-linejoin="miter"/>
<text transform="translate(441.40 88.70) scale(1 1.1)" x="0" y="14.94" font-family="DejaVu Sans, sans-serif" font-weight="bold" font-size="29" text-anchor="middle" letter-spacing="0.1" stroke="#000" stroke-width="0.8">**</text>
<path d="M539.40 274.50V103.20H580.00V225.00" fill="none" stroke="#000" stroke-width="2.6" stroke-linecap="round" stroke-linejoin="miter"/>
<text transform="translate(560.30 88.70) scale(1 1.1)" x="0" y="14.94" font-family="DejaVu Sans, sans-serif" font-weight="bold" font-size="29" text-anchor="middle" letter-spacing="0.1" stroke="#000" stroke-width="0.8">*</text>
<path d="M658.20 238.00V103.20H698.80V135.00" fill="none" stroke="#000" stroke-width="2.6" stroke-linecap="round" stroke-linejoin="miter"/>
<text transform="translate(679.10 88.70) scale(1 1.1)" x="0" y="14.94" font-family="DejaVu Sans, sans-serif" font-weight="bold" font-size="29" text-anchor="middle" letter-spacing="0.1" stroke="#000" stroke-width="0.8">**</text>
<path d="M777.40 241.00V103.20H818.00V170.50" fill="none" stroke="#000" stroke-width="2.6" stroke-linecap="round" stroke-linejoin="miter"/>
<text transform="translate(798.30 88.70) scale(1 1.1)" x="0" y="14.94" font-family="DejaVu Sans, sans-serif" font-weight="bold" font-size="29" text-anchor="middle" letter-spacing="0.1" stroke="#000" stroke-width="0.8">*</text>
<path d="M420.2 257.6L420.2 258.6L420.2 259.6L420.2 260.6L420.2 261.6L420.2 262.6L420.1 263.6L419.6 264.6L418.8 265.6L418.1 266.6L417.5 267.6L416.9 268.6L416.5 269.6L416.4 270.6L416.8 271.6L417.4 272.6L418.0 273.6L418.6 274.6L419.3 275.6L420.0 276.6L420.2 277.6L420.2 278.6L420.2 279.6L420.2 280.6L420.2 281.6L420.2 282.6L420.2 283.6L420.2 284.6L420.2 285.6L420.2 286.6L420.2 287.6L420.2 288.6L419.7 289.6L418.9 290.6L418.0 291.6L417.2 292.6L416.1 293.6L414.9 294.6L413.7 295.6L412.4 296.6L411.2 297.6L410.0 298.6L408.7 299.6L407.3 300.6L405.9 301.6L404.7 302.6L403.8 303.6L403.3 304.6L403.4 305.6L404.0 306.6L405.0 307.6L406.3 308.6L407.7 309.6L409.1 310.6L410.3 311.6L411.3 312.6L412.2 313.6L413.1 314.6L414.0 315.6L414.9 316.6L415.7 317.6L416.4 318.6L417.1 319.6L417.9 320.6L418.7 321.6L419.4 322.6L419.9 323.6L420.2 324.6L420.2 325.6L420.2 326.6L420.2 327.6L420.2 328.6L420.2 329.6L420.2 330.6L420.2 331.6L420.2 332.6L420.2 333.6L420.2 334.6L420.2 335.6L420.2 336.6L420.2 337.6L420.2 338.6L420.2 339.6L420.2 340.6L420.2 341.6L420.2 342.6L420.2 343.6L420.1 344.6L419.6 345.6L418.8 346.6L418.1 347.6L417.5 348.6L416.8 349.6L416.4 350.6L416.6 351.6L417.1 352.6L417.8 353.6L418.4 354.6L419.2 355.6L420.0 356.6L420.2 357.6L420.2 358.6L420.2 359.6L420.2 360.6L420.2 361.6L420.2 362.6L420.2 362.8L420.2 362.8L420.2 362.6L420.2 361.6L420.2 360.6L420.2 359.6L420.2 358.6L420.2 357.6L420.5 356.6L421.3 355.6L422.1 354.6L422.7 353.6L423.4 352.6L423.9 351.6L424.1 350.6L423.7 349.6L423.0 348.6L422.4 347.6L421.7 346.6L420.9 345.6L420.4 344.6L420.2 343.6L420.2 342.6L420.2 341.6L420.2 340.6L420.2 339.6L420.2 338.6L420.2 337.6L420.2 336.6L420.2 335.6L420.2 334.6L420.2 333.6L420.2 332.6L420.2 331.6L420.2 330.6L420.2 329.6L420.2 328.6L420.2 327.6L420.2 326.6L420.2 325.6L420.3 324.6L420.6 323.6L421.1 322.6L421.8 321.6L422.6 320.6L423.4 319.6L424.1 318.6L424.8 317.6L425.6 316.6L426.5 315.6L427.4 314.6L428.3 313.6L429.2 312.6L430.2 311.6L431.4 310.6L432.8 309.6L434.2 308.6L435.5 307.6L436.5 306.6L437.1 305.6L437.2 304.6L436.7 303.6L435.8 302.6L434.6 301.6L433.2 300.6L431.8 299.6L430.5 298.6L429.3 297.6L428.1 296.6L426.8 295.6L425.6 294.6L424.4 293.6L423.3 292.6L422.5 291.6L421.6 290.6L420.8 289.6L420.3 288.6L420.2 287.6L420.2 286.6L420.2 285.6L420.2 284.6L420.2 283.6L420.2 282.6L420.2 281.6L420.2 280.6L420.2 279.6L420.2 278.6L420.2 277.6L420.5 276.6L421.2 275.6L421.9 274.6L422.5 273.6L423.1 272.6L423.7 271.6L424.1 270.6L424.0 269.6L423.6 268.6L423.0 267.6L422.4 266.6L421.7 265.6L420.9 264.6L420.4 263.6L420.2 262.6L420.2 261.6L420.2 260.6L420.2 259.6L420.2 258.6L420.2 257.6Z" fill="#fff" stroke="#000" stroke-width="2.9" stroke-linejoin="round"/>
<circle cx="420.2" cy="270.2" r="3.4" fill="#fff" stroke="#9a9a9a" stroke-width="1.1"/>
<circle cx="420.2" cy="350.8" r="3.4" fill="#fff" stroke="#9a9a9a" stroke-width="1.1"/>
<circle cx="407.8" cy="302.0" r="4.7" fill="rgba(255,255,255,0.35)" stroke="#fff" stroke-width="2.8"/>
<circle cx="407.8" cy="302.0" r="4.7" fill="none" stroke="#8d8d8d" stroke-width="1.1"/>
<circle cx="412.2" cy="307.0" r="4.7" fill="rgba(255,255,255,0.35)" stroke="#fff" stroke-width="2.8"/>
<circle cx="412.2" cy="307.0" r="4.7" fill="none" stroke="#8d8d8d" stroke-width="1.1"/>
<circle cx="417.2" cy="300.0" r="4.7" fill="rgba(255,255,255,0.35)" stroke="#fff" stroke-width="2.8"/>
<circle cx="417.2" cy="300.0" r="4.7" fill="none" stroke="#8d8d8d" stroke-width="1.1"/>
<circle cx="421.2" cy="306.0" r="4.7" fill="rgba(255,255,255,0.35)" stroke="#fff" stroke-width="2.8"/>
<circle cx="421.2" cy="306.0" r="4.7" fill="none" stroke="#8d8d8d" stroke-width="1.1"/>
<circle cx="425.2" cy="302.5" r="4.7" fill="rgba(255,255,255,0.35)" stroke="#fff" stroke-width="2.8"/>
<circle cx="425.2" cy="302.5" r="4.7" fill="none" stroke="#8d8d8d" stroke-width="1.1"/>
<circle cx="429.2" cy="307.0" r="4.7" fill="rgba(255,255,255,0.35)" stroke="#fff" stroke-width="2.8"/>
<circle cx="429.2" cy="307.0" r="4.7" fill="none" stroke="#8d8d8d" stroke-width="1.1"/>
<circle cx="433.2" cy="304.0" r="4.7" fill="rgba(255,255,255,0.35)" stroke="#fff" stroke-width="2.8"/>
<circle cx="433.2" cy="304.0" r="4.7" fill="none" stroke="#8d8d8d" stroke-width="1.1"/>
<circle cx="418.2" cy="311.0" r="4.7" fill="rgba(255,255,255,0.35)" stroke="#fff" stroke-width="2.8"/>
<circle cx="418.2" cy="311.0" r="4.7" fill="none" stroke="#8d8d8d" stroke-width="1.1"/>
<circle cx="422.2" cy="318.0" r="4.7" fill="rgba(255,255,255,0.35)" stroke="#fff" stroke-width="2.8"/>
<circle cx="422.2" cy="318.0" r="4.7" fill="none" stroke="#8d8d8d" stroke-width="1.1"/>
<circle cx="414.2" cy="304.0" r="4.7" fill="rgba(255,255,255,0.35)" stroke="#fff" stroke-width="2.8"/>
<circle cx="414.2" cy="304.0" r="4.7" fill="none" stroke="#8d8d8d" stroke-width="1.1"/>
<path d="M405.2 305.2H422.8M431.8 305.2H435.2" stroke="#000" stroke-width="3.6" stroke-linecap="round" fill="none"/>
<line x1="411.2" y1="300.5" x2="429.2" y2="300.5" stroke="#000" stroke-width="1.7" stroke-dasharray="0.1 4.2" stroke-linecap="round"/>
<line x1="413.2" y1="310.5" x2="427.2" y2="310.5" stroke="#000" stroke-width="1.7" stroke-dasharray="0.1 4.2" stroke-linecap="round"/>
<path d="M461.3 139.7L461.3 140.7L461.3 141.7L461.3 142.7L461.3 143.7L461.3 144.7L461.3 145.7L461.3 146.7L461.3 147.7L461.3 148.7L461.3 149.7L461.3 150.7L461.3 151.7L461.3 152.7L461.2 153.7L461.1 154.7L461.0 155.7L460.8 156.7L460.6 157.7L460.5 158.7L460.3 159.7L460.1 160.7L459.9 161.7L459.7 162.7L459.5 163.7L459.3 164.7L459.1 165.7L458.8 166.7L458.6 167.7L458.4 168.7L458.3 169.7L458.2 170.7L458.0 171.7L457.9 172.7L457.8 173.7L457.7 174.7L457.6 175.7L457.5 176.7L457.5 177.7L457.4 178.7L457.5 179.7L457.5 180.7L457.6 181.7L457.7 182.7L457.9 183.7L458.0 184.7L458.2 185.7L458.3 186.7L458.5 187.7L458.7 188.7L458.8 189.7L459.0 190.7L459.2 191.7L459.5 192.7L459.7 193.7L459.9 194.7L460.1 195.7L460.3 196.7L460.5 197.7L460.7 198.7L460.9 199.7L461.1 200.7L461.2 201.7L461.3 202.7L461.3 203.7L461.3 204.7L461.3 205.7L461.3 206.7L461.3 207.7L461.3 208.7L461.3 209.7L461.3 210.7L461.3 211.7L461.3 212.7L461.3 213.7L461.3 214.7L461.3 215.7L461.3 216.7L461.3 217.7L461.3 218.7L461.3 219.7L461.3 220.7L461.3 221.7L461.3 222.7L461.3 223.7L461.3 224.7L461.1 225.7L460.9 226.7L460.6 227.7L460.2 228.7L459.9 229.7L459.5 230.7L459.0 231.7L458.5 232.7L458.0 233.7L457.4 234.7L456.9 235.7L456.4 236.7L455.9 237.7L455.4 238.7L454.8 239.7L454.3 240.7L453.8 241.7L453.4 242.7L452.9 243.7L452.5 244.7L452.1 245.7L451.7 246.7L451.3 247.7L451.0 248.7L450.6 249.7L450.3 250.7L450.1 251.7L449.8 252.7L449.5 253.7L449.3 254.7L449.1 255.7L448.9 256.7L448.7 257.7L448.5 258.7L448.4 259.7L448.4 260.7L448.3 261.7L448.3 262.7L448.2 263.7L448.2 264.7L448.1 265.7L448.1 266.7L448.1 267.7L448.0 268.7L448.0 269.7L448.0 270.7L447.9 271.7L447.9 272.7L447.9 273.7L447.8 274.7L447.7 275.7L447.7 276.7L447.6 277.7L447.5 278.7L447.4 279.7L447.2 280.7L447.1 281.7L447.0 282.7L446.9 283.7L446.7 284.7L446.6 285.7L446.5 286.7L446.4 287.7L446.3 288.7L446.2 289.7L446.1 290.7L446.0 291.7L445.9 292.7L445.7 293.7L445.6 294.7L445.5 295.7L445.5 296.7L445.4 297.7L445.4 298.7L445.4 299.7L445.4 300.7L445.6 301.7L445.8 302.7L446.1 303.7L446.4 304.7L446.7 305.7L447.1 306.7L447.6 307.7L448.2 308.7L448.9 309.7L449.6 310.7L450.4 311.7L451.3 312.7L452.2 313.7L452.9 314.7L453.4 315.7L453.9 316.7L454.3 317.7L454.8 318.7L455.3 319.7L455.8 320.7L456.3 321.7L456.9 322.7L457.6 323.7L458.4 324.7L459.1 325.7L459.6 326.7L460.1 327.7L460.5 328.7L460.8 329.7L461.0 330.7L461.2 331.7L461.3 332.7L461.3 333.7L461.3 334.7L461.3 335.7L461.3 336.7L461.3 337.7L461.3 338.7L461.3 339.7L461.3 340.7L461.3 341.7L461.3 342.7L461.3 343.7L461.3 343.9L461.3 343.9L461.3 343.7L461.3 342.7L461.3 341.7L461.3 340.7L461.3 339.7L461.3 338.7L461.3 337.7L461.3 336.7L461.3 335.7L461.3 334.7L461.3 333.7L461.3 332.7L461.4 331.7L461.6 330.7L461.8 329.7L462.1 328.7L462.5 327.7L463.0 326.7L463.5 325.7L464.2 324.7L465.0 323.7L465.7 322.7L466.3 321.7L466.8 320.7L467.3 319.7L467.8 318.7L468.3 317.7L468.7 316.7L469.2 315.7L469.7 314.7L470.4 313.7L471.3 312.7L472.2 311.7L473.0 310.7L473.7 309.7L474.4 308.7L475.0 307.7L475.5 306.7L475.9 305.7L476.2 304.7L476.5 303.7L476.8 302.7L477.0 301.7L477.2 300.7L477.2 299.7L477.2 298.7L477.2 297.7L477.1 296.7L477.1 295.7L477.0 294.7L476.9 293.7L476.7 292.7L476.6 291.7L476.5 290.7L476.4 289.7L476.3 288.7L476.2 287.7L476.1 286.7L476.0 285.7L475.9 284.7L475.7 283.7L475.6 282.7L475.5 281.7L475.4 280.7L475.2 279.7L475.1 278.7L475.0 277.7L474.9 276.7L474.9 275.7L474.8 274.7L474.7 273.7L474.7 272.7L474.7 271.7L474.6 270.7L474.6 269.7L474.6 268.7L474.5 267.7L474.5 266.7L474.5 265.7L474.4 264.7L474.4 263.7L474.3 262.7L474.3 261.7L474.2 260.7L474.2 259.7L474.1 258.7L473.9 257.7L473.7 256.7L473.5 255.7L473.3 254.7L473.1 253.7L472.8 252.7L472.5 251.7L472.3 250.7L472.0 249.7L471.6 248.7L471.3 247.7L470.9 246.7L470.5 245.7L470.1 244.7L469.7 243.7L469.2 242.7L468.8 241.7L468.3 240.7L467.8 239.7L467.2 238.7L466.7 237.7L466.2 236.7L465.7 235.7L465.2 234.7L464.6 233.7L464.1 232.7L463.6 231.7L463.1 230.7L462.7 229.7L462.4 228.7L462.0 227.7L461.7 226.7L461.5 225.7L461.3 224.7L461.3 223.7L461.3 222.7L461.3 221.7L461.3 220.7L461.3 219.7L461.3 218.7L461.3 217.7L461.3 216.7L461.3 215.7L461.3 214.7L461.3 213.7L461.3 212.7L461.3 211.7L461.3 210.7L461.3 209.7L461.3 208.7L461.3 207.7L461.3 206.7L461.3 205.7L461.3 204.7L461.3 203.7L461.3 202.7L461.4 201.7L461.5 200.7L461.7 199.7L461.9 198.7L462.1 197.7L462.3 196.7L462.5 195.7L462.7 194.7L462.9 193.7L463.1 192.7L463.4 191.7L463.6 190.7L463.8 189.7L463.9 188.7L464.1 187.7L464.3 186.7L464.4 185.7L464.6 184.7L464.7 183.7L464.9 182.7L465.0 181.7L465.1 180.7L465.1 179.7L465.2 178.7L465.1 177.7L465.1 176.7L465.0 175.7L464.9 174.7L464.8 173.7L464.7 172.7L464.6 171.7L464.4 170.7L464.3 169.7L464.2 168.7L464.0 167.7L463.8 166.7L463.5 165.7L463.3 164.7L463.1 163.7L462.9 162.7L462.7 161.7L462.5 160.7L462.3 159.7L462.1 158.7L462.0 157.7L461.8 156.7L461.6 155.7L461.5 154.7L461.4 153.7L461.3 152.7L461.3 151.7L461.3 150.7L461.3 149.7L461.3 148.7L461.3 147.7L461.3 146.7L461.3 145.7L461.3 144.7L461.3 143.7L461.3 142.7L461.3 141.7L461.3 140.7L461.3 139.7Z" fill="#b2b2b4" stroke="#000" stroke-width="2.9" stroke-linejoin="round"/>
<rect x="456.1" y="174.1" width="10.5" height="10.5" fill="none" stroke="#55a857" stroke-width="1.1"/>
<rect x="450.9" y="247.8" width="10.5" height="10.5" fill="none" stroke="#55a857" stroke-width="1.1"/>
<rect x="461.2" y="247.8" width="10.5" height="10.5" fill="none" stroke="#55a857" stroke-width="1.1"/>
<rect x="451.4" y="264.6" width="10.5" height="10.5" fill="none" stroke="#55a857" stroke-width="1.1"/>
<rect x="461.2" y="264.6" width="10.5" height="10.5" fill="none" stroke="#55a857" stroke-width="1.1"/>
<rect x="456.1" y="275.8" width="10.5" height="10.5" fill="none" stroke="#55a857" stroke-width="1.1"/>
<rect x="451.9" y="291.2" width="10.5" height="10.5" fill="none" stroke="#55a857" stroke-width="1.1"/>
<rect x="469.2" y="291.2" width="10.5" height="10.5" fill="none" stroke="#55a857" stroke-width="1.1"/>
<rect x="442.4" y="299.1" width="10.5" height="10.5" fill="none" stroke="#55a857" stroke-width="1.1"/>
<rect x="460.2" y="297.8" width="10.5" height="10.5" fill="none" stroke="#55a857" stroke-width="1.1"/>
<line x1="452.3" y1="253.4" x2="470.3" y2="253.4" stroke="#55a857" stroke-width="1.7" stroke-dasharray="0.1 4.2" stroke-linecap="round"/>
<line x1="447.3" y1="298.6" x2="475.3" y2="298.6" stroke="#55a857" stroke-width="1.7" stroke-dasharray="0.1 4.2" stroke-linecap="round"/>
<path d="M448.5 275.5H463.5M471.2 275.5H474.1" stroke="#000" stroke-width="3.8" stroke-linecap="round" fill="none"/>
<path d="M658.2 257.6L658.2 258.6L658.2 259.6L658.2 260.6L658.2 261.6L658.2 262.6L658.1 263.6L657.6 264.6L656.8 265.6L656.1 266.6L655.5 267.6L654.9 268.6L654.5 269.6L654.4 270.6L654.8 271.6L655.4 272.6L656.0 273.6L656.6 274.6L657.3 275.6L658.0 276.6L658.2 277.6L658.2 278.6L658.2 279.6L658.2 280.6L658.2 281.6L658.2 282.6L658.2 283.6L658.2 284.6L658.2 285.6L658.2 286.6L658.2 287.6L658.2 288.6L657.7 289.6L656.9 290.6L656.0 291.6L655.2 292.6L654.1 293.6L652.9 294.6L651.7 295.6L650.4 296.6L649.2 297.6L648.0 298.6L646.7 299.6L645.3 300.6L643.9 301.6L642.7 302.6L641.8 303.6L641.3 304.6L641.4 305.6L642.0 306.6L643.0 307.6L644.3 308.6L645.7 309.6L647.1 310.6L648.3 311.6L649.3 312.6L650.2 313.6L651.1 314.6L652.0 315.6L652.9 316.6L653.7 317.6L654.4 318.6L655.1 319.6L655.9 320.6L656.7 321.6L657.4 322.6L657.9 323.6L658.2 324.6L658.2 325.6L658.2 326.6L658.2 327.6L658.2 328.6L658.2 329.6L658.2 330.6L658.2 331.6L658.2 332.6L658.2 333.6L658.2 334.6L658.2 335.6L658.2 336.6L658.2 337.6L658.2 338.6L658.2 339.6L658.2 340.6L658.2 341.6L658.2 342.6L658.2 343.6L658.1 344.6L657.6 345.6L656.8 346.6L656.1 347.6L655.5 348.6L654.8 349.6L654.4 350.6L654.6 351.6L655.1 352.6L655.8 353.6L656.4 354.6L657.2 355.6L658.0 356.6L658.2 357.6L658.2 358.6L658.2 359.6L658.2 360.6L658.2 361.6L658.2 362.6L658.2 362.8L658.2 362.8L658.2 362.6L658.2 361.6L658.2 360.6L658.2 359.6L658.2 358.6L658.2 357.6L658.5 356.6L659.3 355.6L660.1 354.6L660.7 353.6L661.4 352.6L661.9 351.6L662.1 350.6L661.7 349.6L661.0 348.6L660.4 347.6L659.7 346.6L658.9 345.6L658.4 344.6L658.2 343.6L658.2 342.6L658.2 341.6L658.2 340.6L658.2 339.6L658.2 338.6L658.2 337.6L658.2 336.6L658.2 335.6L658.2 334.6L658.2 333.6L658.2 332.6L658.2 331.6L658.2 330.6L658.2 329.6L658.2 328.6L658.2 327.6L658.2 326.6L658.2 325.6L658.3 324.6L658.6 323.6L659.1 322.6L659.8 321.6L660.6 320.6L661.4 319.6L662.1 318.6L662.8 317.6L663.6 316.6L664.5 315.6L665.4 314.6L666.3 313.6L667.2 312.6L668.2 311.6L669.4 310.6L670.8 309.6L672.2 308.6L673.5 307.6L674.5 306.6L675.1 305.6L675.2 304.6L674.7 303.6L673.8 302.6L672.6 301.6L671.2 300.6L669.8 299.6L668.5 298.6L667.3 297.6L666.1 296.6L664.8 295.6L663.6 294.6L662.4 293.6L661.3 292.6L660.5 291.6L659.6 290.6L658.8 289.6L658.3 288.6L658.2 287.6L658.2 286.6L658.2 285.6L658.2 284.6L658.2 283.6L658.2 282.6L658.2 281.6L658.2 280.6L658.2 279.6L658.2 278.6L658.2 277.6L658.5 276.6L659.2 275.6L659.9 274.6L660.5 273.6L661.1 272.6L661.7 271.6L662.1 270.6L662.0 269.6L661.6 268.6L661.0 267.6L660.4 266.6L659.7 265.6L658.9 264.6L658.4 263.6L658.2 262.6L658.2 261.6L658.2 260.6L658.2 259.6L658.2 258.6L658.2 257.6Z" fill="#fff" stroke="#000" stroke-width="2.9" stroke-linejoin="round"/>
<circle cx="658.2" cy="270.2" r="3.4" fill="#fff" stroke="#9a9a9a" stroke-width="1.1"/>
<circle cx="658.2" cy="350.8" r="3.4" fill="#fff" stroke="#9a9a9a" stroke-width="1.1"/>
<circle cx="645.8" cy="302.0" r="4.7" fill="rgba(255,255,255,0.35)" stroke="#fff" stroke-width="2.8"/>
<circle cx="645.8" cy="302.0" r="4.7" fill="none" stroke="#8d8d8d" stroke-width="1.1"/>
<circle cx="650.2" cy="307.0" r="4.7" fill="rgba(255,255,255,0.35)" stroke="#fff" stroke-width="2.8"/>
<circle cx="650.2" cy="307.0" r="4.7" fill="none" stroke="#8d8d8d" stroke-width="1.1"/>
<circle cx="655.2" cy="300.0" r="4.7" fill="rgba(255,255,255,0.35)" stroke="#fff" stroke-width="2.8"/>
<circle cx="655.2" cy="300.0" r="4.7" fill="none" stroke="#8d8d8d" stroke-width="1.1"/>
<circle cx="659.2" cy="306.0" r="4.7" fill="rgba(255,255,255,0.35)" stroke="#fff" stroke-width="2.8"/>
<circle cx="659.2" cy="306.0" r="4.7" fill="none" stroke="#8d8d8d" stroke-width="1.1"/>
<circle cx="663.2" cy="302.5" r="4.7" fill="rgba(255,255,255,0.35)" stroke="#fff" stroke-width="2.8"/>
<circle cx="663.2" cy="302.5" r="4.7" fill="none" stroke="#8d8d8d" stroke-width="1.1"/>
<circle cx="667.2" cy="307.0" r="4.7" fill="rgba(255,255,255,0.35)" stroke="#fff" stroke-width="2.8"/>
<circle cx="667.2" cy="307.0" r="4.7" fill="none" stroke="#8d8d8d" stroke-width="1.1"/>
<circle cx="671.2" cy="304.0" r="4.7" fill="rgba(255,255,255,0.35)" stroke="#fff" stroke-width="2.8"/>
<circle cx="671.2" cy="304.0" r="4.7" fill="none" stroke="#8d8d8d" stroke-width="1.1"/>
<circle cx="656.2" cy="311.0" r="4.7" fill="rgba(255,255,255,0.35)" stroke="#fff" stroke-width="2.8"/>
<circle cx="656.2" cy="311.0" r="4.7" fill="none" stroke="#8d8d8d" stroke-width="1.1"/>
<circle cx="660.2" cy="318.0" r="4.7" fill="rgba(255,255,255,0.35)" stroke="#fff" stroke-width="2.8"/>
<circle cx="660.2" cy="318.0" r="4.7" fill="none" stroke="#8d8d8d" stroke-width="1.1"/>
<circle cx="652.2" cy="304.0" r="4.7" fill="rgba(255,255,255,0.35)" stroke="#fff" stroke-width="2.8"/>
<circle cx="652.2" cy="304.0" r="4.7" fill="none" stroke="#8d8d8d" stroke-width="1.1"/>
<path d="M643.2 305.2H660.8M669.8 305.2H673.2" stroke="#000" stroke-width="3.6" stroke-linecap="round" fill="none"/>
<line x1="649.2" y1="300.5" x2="667.2" y2="300.5" stroke="#000" stroke-width="1.7" stroke-dasharray="0.1 4.2" stroke-linecap="round"/>
<line x1="651.2" y1="310.5" x2="665.2" y2="310.5" stroke="#000" stroke-width="1.7" stroke-dasharray="0.1 4.2" stroke-linecap="round"/>
<path d="M699.3 139.7L699.3 140.7L699.3 141.7L699.3 142.7L699.3 143.7L699.3 144.7L699.3 145.7L699.3 146.7L699.3 147.7L699.3 148.7L699.3 149.7L699.3 150.7L699.3 151.7L699.3 152.7L699.2 153.7L699.1 154.7L699.0 155.7L698.8 156.7L698.6 157.7L698.5 158.7L698.3 159.7L698.1 160.7L697.9 161.7L697.7 162.7L697.5 163.7L697.3 164.7L697.1 165.7L696.8 166.7L696.6 167.7L696.4 168.7L696.3 169.7L696.2 170.7L696.0 171.7L695.9 172.7L695.8 173.7L695.7 174.7L695.6 175.7L695.5 176.7L695.5 177.7L695.4 178.7L695.5 179.7L695.5 180.7L695.6 181.7L695.7 182.7L695.9 183.7L696.0 184.7L696.2 185.7L696.3 186.7L696.5 187.7L696.7 188.7L696.8 189.7L697.0 190.7L697.2 191.7L697.5 192.7L697.7 193.7L697.9 194.7L698.1 195.7L698.3 196.7L698.5 197.7L698.7 198.7L698.9 199.7L699.1 200.7L699.2 201.7L699.3 202.7L699.3 203.7L699.3 204.7L699.3 205.7L699.3 206.7L699.3 207.7L699.3 208.7L699.3 209.7L699.3 210.7L699.3 211.7L699.3 212.7L699.3 213.7L699.3 214.7L699.3 215.7L699.3 216.7L699.3 217.7L699.3 218.7L699.3 219.7L699.3 220.7L699.3 221.7L699.3 222.7L699.3 223.7L699.3 224.7L699.1 225.7L698.9 226.7L698.6 227.7L698.2 228.7L697.9 229.7L697.5 230.7L697.0 231.7L696.5 232.7L696.0 233.7L695.4 234.7L694.9 235.7L694.4 236.7L693.9 237.7L693.4 238.7L692.8 239.7L692.3 240.7L691.8 241.7L691.4 242.7L690.9 243.7L690.5 244.7L690.1 245.7L689.7 246.7L689.3 247.7L689.0 248.7L688.6 249.7L688.3 250.7L688.1 251.7L687.8 252.7L687.5 253.7L687.3 254.7L687.1 255.7L686.9 256.7L686.7 257.7L686.5 258.7L686.4 259.7L686.4 260.7L686.3 261.7L686.3 262.7L686.2 263.7L686.2 264.7L686.1 265.7L686.1 266.7L686.1 267.7L686.0 268.7L686.0 269.7L686.0 270.7L685.9 271.7L685.9 272.7L685.9 273.7L685.8 274.7L685.7 275.7L685.7 276.7L685.6 277.7L685.5 278.7L685.4 279.7L685.2 280.7L685.1 281.7L685.0 282.7L684.9 283.7L684.7 284.7L684.6 285.7L684.5 286.7L684.4 287.7L684.3 288.7L684.2 289.7L684.1 290.7L684.0 291.7L683.9 292.7L683.7 293.7L683.6 294.7L683.5 295.7L683.5 296.7L683.4 297.7L683.4 298.7L683.3 299.7L683.4 300.7L683.6 301.7L683.8 302.7L684.1 303.7L684.4 304.7L684.7 305.7L685.1 306.7L685.6 307.7L686.2 308.7L686.9 309.7L687.6 310.7L688.4 311.7L689.3 312.7L690.2 313.7L690.9 314.7L691.4 315.7L691.9 316.7L692.3 317.7L692.8 318.7L693.3 319.7L693.8 320.7L694.3 321.7L694.9 322.7L695.6 323.7L696.4 324.7L697.1 325.7L697.6 326.7L698.1 327.7L698.5 328.7L698.8 329.7L699.0 330.7L699.2 331.7L699.3 332.7L699.3 333.7L699.3 334.7L699.3 335.7L699.3 336.7L699.3 337.7L699.3 338.7L699.3 339.7L699.3 340.7L699.3 341.7L699.3 342.7L699.3 343.7L699.3 343.9L699.3 343.9L699.3 343.7L699.3 342.7L699.3 341.7L699.3 340.7L699.3 339.7L699.3 338.7L699.3 337.7L699.3 336.7L699.3 335.7L699.3 334.7L699.3 333.7L699.3 332.7L699.4 331.7L699.6 330.7L699.8 329.7L700.1 328.7L700.5 327.7L701.0 326.7L701.5 325.7L702.2 324.7L703.0 323.7L703.7 322.7L704.3 321.7L704.8 320.7L705.3 319.7L705.8 318.7L706.3 317.7L706.7 316.7L707.2 315.7L707.7 314.7L708.4 313.7L709.3 312.7L710.2 311.7L711.0 310.7L711.7 309.7L712.4 308.7L713.0 307.7L713.5 306.7L713.9 305.7L714.2 304.7L714.5 303.7L714.8 302.7L715.0 301.7L715.2 300.7L715.2 299.7L715.2 298.7L715.2 297.7L715.1 296.7L715.1 295.7L715.0 294.7L714.9 293.7L714.7 292.7L714.6 291.7L714.5 290.7L714.4 289.7L714.3 288.7L714.2 287.7L714.1 286.7L714.0 285.7L713.9 284.7L713.7 283.7L713.6 282.7L713.5 281.7L713.4 280.7L713.2 279.7L713.1 278.7L713.0 277.7L712.9 276.7L712.9 275.7L712.8 274.7L712.7 273.7L712.7 272.7L712.7 271.7L712.6 270.7L712.6 269.7L712.6 268.7L712.5 267.7L712.5 266.7L712.5 265.7L712.4 264.7L712.4 263.7L712.3 262.7L712.3 261.7L712.2 260.7L712.1 259.7L712.1 258.7L711.9 257.7L711.7 256.7L711.5 255.7L711.3 254.7L711.1 253.7L710.8 252.7L710.5 251.7L710.3 250.7L710.0 249.7L709.6 248.7L709.3 247.7L708.9 246.7L708.5 245.7L708.1 244.7L707.7 243.7L707.2 242.7L706.8 241.7L706.3 240.7L705.8 239.7L705.2 238.7L704.7 237.7L704.2 236.7L703.7 235.7L703.2 234.7L702.6 233.7L702.1 232.7L701.6 231.7L701.1 230.7L700.7 229.7L700.4 228.7L700.0 227.7L699.7 226.7L699.5 225.7L699.3 224.7L699.3 223.7L699.3 222.7L699.3 221.7L699.3 220.7L699.3 219.7L699.3 218.7L699.3 217.7L699.3 216.7L699.3 215.7L699.3 214.7L699.3 213.7L699.3 212.7L699.3 211.7L699.3 210.7L699.3 209.7L699.3 208.7L699.3 207.7L699.3 206.7L699.3 205.7L699.3 204.7L699.3 203.7L699.3 202.7L699.4 201.7L699.5 200.7L699.7 199.7L699.9 198.7L700.1 197.7L700.3 196.7L700.5 195.7L700.7 194.7L700.9 193.7L701.1 192.7L701.4 191.7L701.6 190.7L701.8 189.7L701.9 188.7L702.1 187.7L702.3 186.7L702.4 185.7L702.6 184.7L702.7 183.7L702.9 182.7L703.0 181.7L703.1 180.7L703.1 179.7L703.1 178.7L703.1 177.7L703.1 176.7L703.0 175.7L702.9 174.7L702.8 173.7L702.7 172.7L702.6 171.7L702.4 170.7L702.3 169.7L702.2 168.7L702.0 167.7L701.8 166.7L701.5 165.7L701.3 164.7L701.1 163.7L700.9 162.7L700.7 161.7L700.5 160.7L700.3 159.7L700.1 158.7L700.0 157.7L699.8 156.7L699.6 155.7L699.5 154.7L699.4 153.7L699.3 152.7L699.3 151.7L699.3 150.7L699.3 149.7L699.3 148.7L699.3 147.7L699.3 146.7L699.3 145.7L699.3 144.7L699.3 143.7L699.3 142.7L699.3 141.7L699.3 140.7L699.3 139.7Z" fill="#b2b2b4" stroke="#000" stroke-width="2.9" stroke-linejoin="round"/>
<rect x="694.0" y="174.1" width="10.5" height="10.5" fill="none" stroke="#55a857" stroke-width="1.1"/>
<rect x="688.8" y="247.8" width="10.5" height="10.5" fill="none" stroke="#55a857" stroke-width="1.1"/>
<rect x="699.2" y="247.8" width="10.5" height="10.5" fill="none" stroke="#55a857" stroke-width="1.1"/>
<rect x="689.4" y="264.6" width="10.5" height="10.5" fill="none" stroke="#55a857" stroke-width="1.1"/>
<rect x="699.2" y="264.6" width="10.5" height="10.5" fill="none" stroke="#55a857" stroke-width="1.1"/>
<rect x="694.0" y="275.8" width="10.5" height="10.5" fill="none" stroke="#55a857" stroke-width="1.1"/>
<rect x="689.8" y="291.2" width="10.5" height="10.5" fill="none" stroke="#55a857" stroke-width="1.1"/>
<rect x="707.2" y="291.2" width="10.5" height="10.5" fill="none" stroke="#55a857" stroke-width="1.1"/>
<rect x="680.3" y="299.1" width="10.5" height="10.5" fill="none" stroke="#55a857" stroke-width="1.1"/>
<rect x="698.2" y="297.8" width="10.5" height="10.5" fill="none" stroke="#55a857" stroke-width="1.1"/>
<line x1="690.3" y1="253.4" x2="708.3" y2="253.4" stroke="#55a857" stroke-width="1.7" stroke-dasharray="0.1 4.2" stroke-linecap="round"/>
<line x1="685.3" y1="298.6" x2="713.3" y2="298.6" stroke="#55a857" stroke-width="1.7" stroke-dasharray="0.1 4.2" stroke-linecap="round"/>
<path d="M686.5 275.5H701.5M709.2 275.5H712.1" stroke="#000" stroke-width="3.8" stroke-linecap="round" fill="none"/>
<path d="M539.4 294.4L539.4 295.4L539.4 296.4L539.4 297.4L539.4 298.4L538.9 299.4L538.3 300.4L537.6 301.4L536.7 302.4L535.6 303.4L534.5 304.4L533.4 305.4L532.2 306.4L530.9 307.4L529.6 308.4L528.3 309.4L526.9 310.4L525.5 311.4L524.4 312.4L523.4 313.4L522.9 314.4L523.2 315.4L523.9 316.4L524.7 317.4L525.8 318.4L527.0 319.4L527.8 320.4L528.2 321.4L528.6 322.4L528.8 323.4L528.8 324.4L528.2 325.4L527.4 326.4L526.5 327.4L525.1 328.4L523.9 329.4L523.1 330.4L522.6 331.4L522.5 332.4L523.0 333.4L524.1 334.4L525.5 335.4L527.9 336.4L530.6 337.4L533.0 338.4L535.2 339.4L537.6 340.4L539.4 341.4L539.4 342.4L539.4 343.4L539.4 344.4L539.4 345.0L539.4 345.0L539.4 344.4L539.4 343.4L539.4 342.4L539.4 341.4L541.2 340.4L543.6 339.4L545.8 338.4L548.2 337.4L550.9 336.4L553.3 335.4L554.7 334.4L555.8 333.4L556.3 332.4L556.2 331.4L555.7 330.4L554.9 329.4L553.7 328.4L552.3 327.4L551.4 326.4L550.6 325.4L550.0 324.4L550.0 323.4L550.2 322.4L550.6 321.4L551.0 320.4L551.8 319.4L553.0 318.4L554.1 317.4L554.9 316.4L555.6 315.4L555.9 314.4L555.4 313.4L554.4 312.4L553.3 311.4L551.9 310.4L550.5 309.4L549.2 308.4L547.9 307.4L546.6 306.4L545.4 305.4L544.3 304.4L543.2 303.4L542.1 302.4L541.2 301.4L540.5 300.4L539.9 299.4L539.4 298.4L539.4 297.4L539.4 296.4L539.4 295.4L539.4 294.4Z" fill="#fff" stroke="#000" stroke-width="2.9" stroke-linejoin="round"/>
<circle cx="533.4" cy="306.0" r="4.7" fill="rgba(255,255,255,0.35)" stroke="#fff" stroke-width="2.8"/>
<circle cx="533.4" cy="306.0" r="4.7" fill="none" stroke="#8d8d8d" stroke-width="1.1"/>
<circle cx="530.4" cy="313.0" r="4.7" fill="rgba(255,255,255,0.35)" stroke="#fff" stroke-width="2.8"/>
<circle cx="530.4" cy="313.0" r="4.7" fill="none" stroke="#8d8d8d" stroke-width="1.1"/>
<circle cx="538.4" cy="314.0" r="4.7" fill="rgba(255,255,255,0.35)" stroke="#fff" stroke-width="2.8"/>
<circle cx="538.4" cy="314.0" r="4.7" fill="none" stroke="#8d8d8d" stroke-width="1.1"/>
<circle cx="545.4" cy="313.5" r="4.7" fill="rgba(255,255,255,0.35)" stroke="#fff" stroke-width="2.8"/>
<circle cx="545.4" cy="313.5" r="4.7" fill="none" stroke="#8d8d8d" stroke-width="1.1"/>
<circle cx="552.4" cy="315.0" r="4.7" fill="rgba(255,255,255,0.35)" stroke="#fff" stroke-width="2.8"/>
<circle cx="552.4" cy="315.0" r="4.7" fill="none" stroke="#8d8d8d" stroke-width="1.1"/>
<circle cx="526.4" cy="332.0" r="4.7" fill="rgba(255,255,255,0.35)" stroke="#fff" stroke-width="2.8"/>
<circle cx="526.4" cy="332.0" r="4.7" fill="none" stroke="#8d8d8d" stroke-width="1.1"/>
<circle cx="534.4" cy="331.0" r="4.7" fill="rgba(255,255,255,0.35)" stroke="#fff" stroke-width="2.8"/>
<circle cx="534.4" cy="331.0" r="4.7" fill="none" stroke="#8d8d8d" stroke-width="1.1"/>
<circle cx="542.4" cy="332.0" r="4.7" fill="rgba(255,255,255,0.35)" stroke="#fff" stroke-width="2.8"/>
<circle cx="542.4" cy="332.0" r="4.7" fill="none" stroke="#8d8d8d" stroke-width="1.1"/>
<circle cx="551.4" cy="333.0" r="4.7" fill="rgba(255,255,255,0.35)" stroke="#fff" stroke-width="2.8"/>
<circle cx="551.4" cy="333.0" r="4.7" fill="none" stroke="#8d8d8d" stroke-width="1.1"/>
<circle cx="540.4" cy="322.0" r="4.7" fill="rgba(255,255,255,0.35)" stroke="#fff" stroke-width="2.8"/>
<circle cx="540.4" cy="322.0" r="4.7" fill="none" stroke="#8d8d8d" stroke-width="1.1"/>
<circle cx="535.4" cy="339.0" r="4.7" fill="rgba(255,255,255,0.35)" stroke="#fff" stroke-width="2.8"/>
<circle cx="535.4" cy="339.0" r="4.7" fill="none" stroke="#8d8d8d" stroke-width="1.1"/>
<path d="M530.4 323.9H541.0M546.6 323.9H548.4" stroke="#000" stroke-width="3.8" stroke-linecap="round" fill="none"/>
<line x1="526.4" y1="314.8" x2="552.4" y2="314.8" stroke="#000" stroke-width="1.7" stroke-dasharray="0.1 4.2" stroke-linecap="round"/>
<line x1="525.4" y1="332.0" x2="553.4" y2="332.0" stroke="#000" stroke-width="1.7" stroke-dasharray="0.1 4.2" stroke-linecap="round"/>
<path d="M580.2 245.0L580.2 246.0L580.2 247.0L580.2 248.0L580.2 249.0L580.2 250.0L580.2 251.0L580.0 252.0L579.6 253.0L579.2 254.0L578.5 255.0L577.7 256.0L576.7 257.0L575.7 258.0L574.4 259.0L572.8 260.0L571.2 261.0L569.7 262.0L568.2 263.0L566.8 264.0L565.7 265.0L564.8 266.0L564.1 267.0L563.8 268.0L563.8 269.0L564.0 270.0L564.3 271.0L564.7 272.0L565.2 273.0L566.0 274.0L566.8 275.0L567.4 276.0L568.0 277.0L568.4 278.0L568.4 279.0L568.3 280.0L568.0 281.0L567.7 282.0L567.1 283.0L566.4 284.0L565.7 285.0L565.2 286.0L564.7 287.0L564.4 288.0L564.1 289.0L564.0 290.0L564.0 291.0L564.3 292.0L564.7 293.0L565.2 294.0L565.7 295.0L566.5 296.0L567.3 297.0L568.2 298.0L569.0 299.0L569.9 300.0L570.8 301.0L571.7 302.0L572.5 303.0L573.3 304.0L574.1 305.0L574.9 306.0L575.6 307.0L576.2 308.0L576.6 309.0L577.1 310.0L577.5 311.0L577.6 312.0L577.6 313.0L577.4 314.0L577.1 315.0L576.7 316.0L576.5 317.0L576.2 318.0L576.0 319.0L575.7 320.0L575.5 321.0L575.4 322.0L575.4 323.0L575.5 324.0L575.7 325.0L576.0 326.0L576.3 327.0L576.7 328.0L577.1 329.0L577.6 330.0L578.1 331.0L578.7 332.0L579.2 333.0L579.8 334.0L580.2 335.0L580.2 336.0L580.2 337.0L580.2 338.0L580.2 339.0L580.2 340.0L580.2 341.0L580.2 342.0L580.2 343.0L580.2 344.0L580.2 345.0L580.2 346.0L580.2 346.0L580.2 345.0L580.2 344.0L580.2 343.0L580.2 342.0L580.2 341.0L580.2 340.0L580.2 339.0L580.2 338.0L580.2 337.0L580.2 336.0L580.2 335.0L580.6 334.0L581.2 333.0L581.8 332.0L582.3 331.0L582.8 330.0L583.3 329.0L583.8 328.0L584.1 327.0L584.4 326.0L584.7 325.0L584.9 324.0L585.0 323.0L585.0 322.0L584.9 321.0L584.7 320.0L584.4 319.0L584.2 318.0L584.0 317.0L583.7 316.0L583.3 315.0L583.0 314.0L582.8 313.0L582.8 312.0L582.9 311.0L583.3 310.0L583.8 309.0L584.2 308.0L584.8 307.0L585.5 306.0L586.3 305.0L587.1 304.0L587.9 303.0L588.7 302.0L589.6 301.0L590.5 300.0L591.4 299.0L592.2 298.0L593.1 297.0L593.9 296.0L594.7 295.0L595.2 294.0L595.7 293.0L596.1 292.0L596.4 291.0L596.4 290.0L596.3 289.0L596.0 288.0L595.7 287.0L595.2 286.0L594.7 285.0L594.0 284.0L593.3 283.0L592.8 282.0L592.4 281.0L592.1 280.0L592.0 279.0L592.0 278.0L592.4 277.0L593.0 276.0L593.6 275.0L594.4 274.0L595.2 273.0L595.8 272.0L596.1 271.0L596.4 270.0L596.6 269.0L596.7 268.0L596.3 267.0L595.6 266.0L594.8 265.0L593.6 264.0L592.2 263.0L590.8 262.0L589.2 261.0L587.6 260.0L586.0 259.0L584.8 258.0L583.7 257.0L582.7 256.0L581.9 255.0L581.2 254.0L580.8 253.0L580.4 252.0L580.2 251.0L580.2 250.0L580.2 249.0L580.2 248.0L580.2 247.0L580.2 246.0L580.2 245.0Z" fill="#b2b2b4" stroke="#000" stroke-width="2.9" stroke-linejoin="round"/>
<rect x="562.0" y="262.6" width="10.5" height="10.5" fill="none" stroke="#55a857" stroke-width="1.1"/>
<rect x="588.5" y="262.6" width="10.5" height="10.5" fill="none" stroke="#55a857" stroke-width="1.1"/>
<rect x="575.0" y="267.8" width="10.5" height="10.5" fill="none" stroke="#55a857" stroke-width="1.1"/>
<rect x="562.0" y="282.2" width="10.5" height="10.5" fill="none" stroke="#55a857" stroke-width="1.1"/>
<rect x="575.0" y="282.2" width="10.5" height="10.5" fill="none" stroke="#55a857" stroke-width="1.1"/>
<rect x="588.0" y="290.2" width="10.5" height="10.5" fill="none" stroke="#55a857" stroke-width="1.1"/>
<rect x="575.0" y="295.8" width="10.5" height="10.5" fill="none" stroke="#55a857" stroke-width="1.1"/>
<rect x="575.0" y="317.8" width="10.5" height="10.5" fill="none" stroke="#55a857" stroke-width="1.1"/>
<line x1="567.2" y1="269.8" x2="593.2" y2="269.8" stroke="#55a857" stroke-width="1.7" stroke-dasharray="0.1 4.2" stroke-linecap="round"/>
<line x1="571.2" y1="299.2" x2="589.2" y2="299.2" stroke="#55a857" stroke-width="1.7" stroke-dasharray="0.1 4.2" stroke-linecap="round"/>
<path d="M565.2 287.6H582.8M591.7 287.6H595.2" stroke="#000" stroke-width="3.8" stroke-linecap="round" fill="none"/>
<path d="M777.4 261.8L777.4 262.8L777.4 263.8L777.4 264.8L777.4 265.8L777.4 266.8L777.4 267.8L777.3 268.8L776.9 269.8L776.4 270.8L775.9 271.8L775.3 272.8L774.6 273.8L773.9 274.8L773.2 275.8L772.5 276.8L771.8 277.8L771.2 278.8L770.6 279.8L769.9 280.8L769.3 281.8L768.7 282.8L768.1 283.8L767.5 284.8L766.9 285.8L766.3 286.8L765.7 287.8L765.1 288.8L764.5 289.8L764.0 290.8L763.4 291.8L762.9 292.8L762.4 293.8L761.8 294.8L761.3 295.8L761.0 296.8L761.0 297.8L761.0 298.8L761.1 299.8L761.3 300.8L761.6 301.8L762.2 302.8L763.0 303.8L763.7 304.8L764.4 305.8L765.1 306.8L765.7 307.8L766.3 308.8L766.7 309.8L767.0 310.8L767.2 311.8L767.2 312.8L767.1 313.8L767.0 314.8L766.8 315.8L766.7 316.8L766.5 317.8L766.4 318.8L766.3 319.8L766.3 320.8L766.5 321.8L767.0 322.8L767.6 323.8L768.2 324.8L768.9 325.8L769.8 326.8L770.7 327.8L771.5 328.8L772.0 329.8L772.2 330.8L772.4 331.8L772.5 332.8L772.5 333.8L772.5 334.8L772.4 335.8L772.3 336.8L772.3 337.8L772.4 338.8L772.6 339.8L772.9 340.8L773.3 341.8L773.7 342.8L774.2 343.8L774.7 344.8L775.2 345.8L775.8 346.8L776.5 347.8L777.1 348.8L777.4 349.8L777.4 350.8L777.4 351.8L777.4 352.8L777.4 353.8L777.4 354.8L777.4 355.8L777.4 356.8L777.4 357.8L777.4 358.8L777.4 359.8L777.4 360.8L777.4 361.7L777.4 361.7L777.4 360.8L777.4 359.8L777.4 358.8L777.4 357.8L777.4 356.8L777.4 355.8L777.4 354.8L777.4 353.8L777.4 352.8L777.4 351.8L777.4 350.8L777.4 349.8L777.7 348.8L778.3 347.8L779.0 346.8L779.6 345.8L780.1 344.8L780.6 343.8L781.1 342.8L781.5 341.8L781.9 340.8L782.2 339.8L782.4 338.8L782.5 337.8L782.5 336.8L782.4 335.8L782.3 334.8L782.3 333.8L782.3 332.8L782.4 331.8L782.6 330.8L782.8 329.8L783.3 328.8L784.1 327.8L785.0 326.8L785.9 325.8L786.6 324.8L787.2 323.8L787.8 322.8L788.3 321.8L788.5 320.8L788.5 319.8L788.4 318.8L788.3 317.8L788.1 316.8L788.0 315.8L787.8 314.8L787.7 313.8L787.6 312.8L787.6 311.8L787.8 310.8L788.1 309.8L788.5 308.8L789.1 307.8L789.7 306.8L790.4 305.8L791.1 304.8L791.8 303.8L792.6 302.8L793.2 301.8L793.5 300.8L793.7 299.8L793.8 298.8L793.8 297.8L793.8 296.8L793.5 295.8L793.0 294.8L792.4 293.8L791.9 292.8L791.4 291.8L790.8 290.8L790.3 289.8L789.7 288.8L789.1 287.8L788.5 286.8L787.9 285.8L787.3 284.8L786.7 283.8L786.1 282.8L785.5 281.8L784.9 280.8L784.2 279.8L783.6 278.8L783.0 277.8L782.3 276.8L781.6 275.8L780.9 274.8L780.2 273.8L779.5 272.8L778.9 271.8L778.4 270.8L777.9 269.8L777.5 268.8L777.4 267.8L777.4 266.8L777.4 265.8L777.4 264.8L777.4 263.8L777.4 262.8L777.4 261.8Z" fill="#fff" stroke="#000" stroke-width="2.9" stroke-linejoin="round"/>
<circle cx="790.4" cy="284.3" r="5.4" fill="rgba(255,255,255,0.35)" stroke="#fff" stroke-width="2.8"/>
<circle cx="790.4" cy="284.3" r="5.4" fill="none" stroke="#8d8d8d" stroke-width="1.1"/>
<circle cx="763.5" cy="294.4" r="5.4" fill="rgba(255,255,255,0.35)" stroke="#fff" stroke-width="2.8"/>
<circle cx="763.5" cy="294.4" r="5.4" fill="none" stroke="#8d8d8d" stroke-width="1.1"/>
<circle cx="789.8" cy="298.6" r="5.4" fill="rgba(255,255,255,0.35)" stroke="#fff" stroke-width="2.8"/>
<circle cx="789.8" cy="298.6" r="5.4" fill="none" stroke="#8d8d8d" stroke-width="1.1"/>
<circle cx="777.0" cy="302.8" r="5.4" fill="rgba(255,255,255,0.35)" stroke="#fff" stroke-width="2.8"/>
<circle cx="777.0" cy="302.8" r="5.4" fill="none" stroke="#8d8d8d" stroke-width="1.1"/>
<circle cx="770.8" cy="317.5" r="5.4" fill="rgba(255,255,255,0.35)" stroke="#fff" stroke-width="2.8"/>
<circle cx="770.8" cy="317.5" r="5.4" fill="none" stroke="#8d8d8d" stroke-width="1.1"/>
<circle cx="783.5" cy="320.7" r="5.4" fill="rgba(255,255,255,0.35)" stroke="#fff" stroke-width="2.8"/>
<circle cx="783.5" cy="320.7" r="5.4" fill="none" stroke="#8d8d8d" stroke-width="1.1"/>
<circle cx="777.0" cy="337.5" r="5.4" fill="rgba(255,255,255,0.35)" stroke="#fff" stroke-width="2.8"/>
<circle cx="777.0" cy="337.5" r="5.4" fill="none" stroke="#8d8d8d" stroke-width="1.1"/>
<line x1="765.4" y1="294.4" x2="789.4" y2="294.4" stroke="#000" stroke-width="1.7" stroke-dasharray="0.1 4.2" stroke-linecap="round"/>
<line x1="768.4" y1="321.0" x2="786.4" y2="321.0" stroke="#000" stroke-width="1.7" stroke-dasharray="0.1 4.2" stroke-linecap="round"/>
<path d="M761.9 302.9H780.0M789.3 302.9H792.9" stroke="#000" stroke-width="3.8" stroke-linecap="round" fill="none"/>
<path d="M818.2 190.2L818.2 191.2L818.2 192.2L818.2 193.2L818.2 194.2L818.2 195.2L818.2 196.2L818.2 197.2L818.2 198.2L818.2 199.2L818.2 200.2L818.2 201.2L818.2 202.2L818.2 203.2L818.2 204.2L818.2 205.2L818.1 206.2L817.9 207.2L817.8 208.2L817.6 209.2L817.4 210.2L817.2 211.2L817.0 212.2L816.8 213.2L816.5 214.2L816.2 215.2L816.0 216.2L815.7 217.2L815.4 218.2L815.1 219.2L814.8 220.2L814.5 221.2L814.2 222.2L813.8 223.2L813.5 224.2L813.2 225.2L812.9 226.2L812.6 227.2L812.3 228.2L812.0 229.2L811.8 230.2L811.5 231.2L811.2 232.2L810.9 233.2L810.6 234.2L810.3 235.2L810.0 236.2L809.7 237.2L809.3 238.2L808.9 239.2L808.4 240.2L807.9 241.2L807.3 242.2L806.7 243.2L806.0 244.2L805.3 245.2L804.4 246.2L803.7 247.2L803.0 248.2L802.5 249.2L802.0 250.2L801.8 251.2L801.9 252.2L802.2 253.2L802.7 254.2L803.3 255.2L804.2 256.2L805.3 257.2L806.4 258.2L807.3 259.2L808.0 260.2L808.7 261.2L809.2 262.2L809.7 263.2L809.9 264.2L810.1 265.2L810.3 266.2L810.4 267.2L810.6 268.2L810.6 269.2L810.6 270.2L810.6 271.2L810.6 272.2L810.6 273.2L810.5 274.2L810.4 275.2L810.4 276.2L810.3 277.2L810.2 278.2L810.0 279.2L809.9 280.2L809.7 281.2L809.5 282.2L809.4 283.2L809.2 284.2L809.1 285.2L809.0 286.2L809.0 287.2L808.9 288.2L808.8 289.2L808.7 290.2L808.7 291.2L808.7 292.2L808.7 293.2L808.7 294.2L808.7 295.2L808.8 296.2L808.9 297.2L809.1 298.2L809.2 299.2L809.4 300.2L809.5 301.2L809.7 302.2L809.8 303.2L810.0 304.2L810.2 305.2L810.3 306.2L810.5 307.2L810.7 308.2L811.0 309.2L811.2 310.2L811.5 311.2L811.7 312.2L812.0 313.2L812.3 314.2L812.7 315.2L813.0 316.2L813.4 317.2L813.7 318.2L814.1 319.2L814.5 320.2L814.9 321.2L815.4 322.2L815.8 323.2L816.2 324.2L816.7 325.2L817.3 326.2L817.8 327.2L818.1 328.2L818.2 329.2L818.2 330.2L818.2 331.2L818.2 332.2L818.2 333.2L818.2 334.2L818.2 335.2L818.2 336.2L818.2 337.2L818.2 338.2L818.2 339.2L818.2 340.2L818.2 341.2L818.2 342.2L818.2 343.2L818.2 343.9L818.2 343.9L818.2 343.2L818.2 342.2L818.2 341.2L818.2 340.2L818.2 339.2L818.2 338.2L818.2 337.2L818.2 336.2L818.2 335.2L818.2 334.2L818.2 333.2L818.2 332.2L818.2 331.2L818.2 330.2L818.2 329.2L818.3 328.2L818.6 327.2L819.1 326.2L819.7 325.2L820.2 324.2L820.6 323.2L821.0 322.2L821.5 321.2L821.9 320.2L822.3 319.2L822.7 318.2L823.0 317.2L823.4 316.2L823.7 315.2L824.1 314.2L824.4 313.2L824.7 312.2L824.9 311.2L825.2 310.2L825.4 309.2L825.7 308.2L825.9 307.2L826.1 306.2L826.2 305.2L826.4 304.2L826.6 303.2L826.7 302.2L826.9 301.2L827.0 300.2L827.2 299.2L827.3 298.2L827.5 297.2L827.6 296.2L827.7 295.2L827.7 294.2L827.7 293.2L827.7 292.2L827.7 291.2L827.7 290.2L827.6 289.2L827.5 288.2L827.4 287.2L827.4 286.2L827.3 285.2L827.2 284.2L827.0 283.2L826.9 282.2L826.7 281.2L826.5 280.2L826.4 279.2L826.2 278.2L826.1 277.2L826.0 276.2L826.0 275.2L825.9 274.2L825.8 273.2L825.8 272.2L825.8 271.2L825.8 270.2L825.8 269.2L825.8 268.2L826.0 267.2L826.1 266.2L826.3 265.2L826.5 264.2L826.7 263.2L827.2 262.2L827.7 261.2L828.4 260.2L829.1 259.2L830.0 258.2L831.1 257.2L832.2 256.2L833.1 255.2L833.7 254.2L834.2 253.2L834.5 252.2L834.6 251.2L834.4 250.2L833.9 249.2L833.4 248.2L832.7 247.2L832.0 246.2L831.1 245.2L830.4 244.2L829.7 243.2L829.1 242.2L828.5 241.2L828.0 240.2L827.5 239.2L827.1 238.2L826.7 237.2L826.4 236.2L826.1 235.2L825.8 234.2L825.5 233.2L825.2 232.2L824.9 231.2L824.6 230.2L824.4 229.2L824.1 228.2L823.8 227.2L823.5 226.2L823.2 225.2L822.9 224.2L822.6 223.2L822.2 222.2L821.9 221.2L821.6 220.2L821.3 219.2L821.0 218.2L820.7 217.2L820.4 216.2L820.2 215.2L819.9 214.2L819.6 213.2L819.4 212.2L819.2 211.2L819.0 210.2L818.8 209.2L818.6 208.2L818.5 207.2L818.3 206.2L818.2 205.2L818.2 204.2L818.2 203.2L818.2 202.2L818.2 201.2L818.2 200.2L818.2 199.2L818.2 198.2L818.2 197.2L818.2 196.2L818.2 195.2L818.2 194.2L818.2 193.2L818.2 192.2L818.2 191.2L818.2 190.2Z" fill="#b2b2b4" stroke="#000" stroke-width="2.9" stroke-linejoin="round"/>
<rect x="813.0" y="221.3" width="10.5" height="10.5" fill="none" stroke="#55a857" stroke-width="1.1"/>
<rect x="799.8" y="243.4" width="10.5" height="10.5" fill="none" stroke="#55a857" stroke-width="1.1"/>
<rect x="826.0" y="246.1" width="10.5" height="10.5" fill="none" stroke="#55a857" stroke-width="1.1"/>
<rect x="813.0" y="249.2" width="10.5" height="10.5" fill="none" stroke="#55a857" stroke-width="1.1"/>
<rect x="826.0" y="275.1" width="10.5" height="10.5" fill="none" stroke="#55a857" stroke-width="1.1"/>
<rect x="813.0" y="284.9" width="10.5" height="10.5" fill="none" stroke="#55a857" stroke-width="1.1"/>
<rect x="813.0" y="302.8" width="10.5" height="10.5" fill="none" stroke="#55a857" stroke-width="1.1"/>
<line x1="806.2" y1="248.0" x2="830.2" y2="248.0" stroke="#55a857" stroke-width="1.7" stroke-dasharray="0.1 4.2" stroke-linecap="round"/>
<line x1="813.2" y1="290.5" x2="823.2" y2="290.5" stroke="#55a857" stroke-width="1.7" stroke-dasharray="0.1 4.2" stroke-linecap="round"/>
<path d="M803.2 253.9H820.8M829.7 253.9H833.2" stroke="#000" stroke-width="3.8" stroke-linecap="round" fill="none"/>
<text x="999.40" y="105.00" font-size="35.50" font-weight="bold" stroke="#000" stroke-width="0.3" stroke-linejoin="round">b</text>
<line x1="1047.20" y1="179.90" x2="1047.20" y2="466.30" stroke="#000" stroke-width="2.6"/>
<line x1="1040.40" y1="181.20" x2="1047.20" y2="181.20" stroke="#000" stroke-width="2.6"/>
<text x="1037.00" y="188.50" font-size="18.50" text-anchor="end" textLength="25.7" lengthAdjust="spacing" stroke="#000" stroke-width="0.3" stroke-linejoin="round">1.5</text>
<line x1="1040.40" y1="275.80" x2="1047.20" y2="275.80" stroke="#000" stroke-width="2.6"/>
<text x="1037.00" y="283.10" font-size="18.50" text-anchor="end" textLength="25.7" lengthAdjust="spacing" stroke="#000" stroke-width="0.3" stroke-linejoin="round">1.0</text>
<line x1="1040.40" y1="370.40" x2="1047.20" y2="370.40" stroke="#000" stroke-width="2.6"/>
<text x="1037.00" y="377.70" font-size="18.50" text-anchor="end" textLength="25.7" lengthAdjust="spacing" stroke="#000" stroke-width="0.3" stroke-linejoin="round">0.5</text>
<line x1="1040.40" y1="465.00" x2="1047.20" y2="465.00" stroke="#000" stroke-width="2.6"/>
<text x="1037.00" y="472.30" font-size="18.50" text-anchor="end" textLength="25.7" lengthAdjust="spacing" stroke="#000" stroke-width="0.3" stroke-linejoin="round">0.0</text>
<line x1="1040.70" y1="465.00" x2="1249.50" y2="465.00" stroke="#000" stroke-width="2.6"/>
<line x1="1095.80" y1="465.00" x2="1095.80" y2="472.20" stroke="#000" stroke-width="2.6"/>
<line x1="1198.80" y1="465.00" x2="1198.80" y2="472.20" stroke="#000" stroke-width="2.6"/>
<text transform="translate(997.70 314.50) rotate(-90)" font-size="22.66" text-anchor="middle" textLength="148.5" lengthAdjust="spacing" stroke="#000" stroke-width="0.3" stroke-linejoin="round">Sociability Index</text>
<text x="1096.00" y="493.80" font-size="21.80" text-anchor="middle" textLength="32.7" lengthAdjust="spacing" stroke="#000" stroke-width="0.3" stroke-linejoin="round">GH</text>
<text x="1198.80" y="493.80" font-size="21.80" text-anchor="middle" textLength="35.1" lengthAdjust="spacing" stroke="#000" stroke-width="0.3" stroke-linejoin="round">SIS</text>
<line x1="1057.80" y1="370.60" x2="1249.50" y2="370.60" stroke="#000" stroke-width="6.0" stroke-linecap="round" stroke-dasharray="0 10.55"/>
<rect x="1241.80" y="110.80" width="23.40" height="23.40" fill="#fff" stroke="#000" stroke-width="2.6"/>
<rect x="1241.80" y="144.40" width="23.40" height="23.40" fill="#b1b1b3" stroke="#3a66a8" stroke-width="2.6"/>
<text x="1277.00" y="130.20" font-size="18.00" textLength="47.7" lengthAdjust="spacing" stroke="#000" stroke-width="0.3" stroke-linejoin="round">WT M</text>
<text x="1277.00" y="160.80" font-size="18.00" textLength="64.7" lengthAdjust="spacing" stroke="#000" stroke-width="0.3" stroke-linejoin="round">cHET M</text>
<path d="M1078.80 266.00V188.80H1113.90V264.00" fill="none" stroke="#000" stroke-width="2.6" stroke-linecap="round" stroke-linejoin="miter"/>
<path d="M1181.00 220.00V188.80H1217.00V232.50" fill="none" stroke="#000" stroke-width="2.6" stroke-linecap="round" stroke-linejoin="miter"/>
<text x="1096.50" y="180.20" font-size="21.00" text-anchor="middle" textLength="22.2" lengthAdjust="spacing" stroke="#000" stroke-width="0.3" stroke-linejoin="round">ns</text>
<text x="1199.20" y="180.20" font-size="21.00" text-anchor="middle" textLength="22.2" lengthAdjust="spacing" stroke="#000" stroke-width="0.3" stroke-linejoin="round">ns</text>
<path d="M1078.2 296.1L1078.2 297.1L1078.2 298.1L1078.2 299.1L1078.2 300.1L1078.2 301.1L1078.2 302.1L1078.0 303.1L1077.6 304.1L1077.2 305.1L1076.5 306.1L1075.7 307.1L1074.9 308.1L1074.1 309.1L1073.4 310.1L1072.7 311.1L1071.9 312.1L1071.2 313.1L1070.6 314.1L1070.2 315.1L1069.8 316.1L1069.5 317.1L1069.2 318.1L1069.0 319.1L1068.8 320.1L1068.6 321.1L1068.4 322.1L1068.2 323.1L1068.0 324.1L1067.8 325.1L1067.6 326.1L1067.5 327.1L1067.3 328.1L1067.1 329.1L1066.8 330.1L1066.6 331.1L1066.3 332.1L1066.1 333.1L1065.9 334.1L1065.6 335.1L1065.4 336.1L1065.1 337.1L1064.8 338.1L1064.5 339.1L1064.3 340.1L1064.0 341.1L1063.9 342.1L1063.8 343.1L1063.9 344.1L1064.2 345.1L1064.7 346.1L1065.2 347.1L1065.8 348.1L1066.3 349.1L1067.1 350.1L1067.8 351.1L1068.6 352.1L1069.3 353.1L1069.9 354.1L1070.3 355.1L1070.7 356.1L1071.1 357.1L1071.4 358.1L1071.7 359.1L1071.9 360.1L1072.2 361.1L1072.4 362.1L1072.6 363.1L1072.8 364.1L1073.0 365.1L1073.3 366.1L1073.6 367.1L1073.8 368.1L1074.1 369.1L1074.4 370.1L1074.7 371.1L1075.0 372.1L1075.3 373.1L1075.5 374.1L1075.8 375.1L1076.1 376.1L1076.5 377.1L1077.1 378.1L1077.6 379.1L1078.1 380.1L1078.2 381.1L1078.2 382.1L1078.2 383.1L1078.2 384.1L1078.2 385.1L1078.2 386.1L1078.2 387.1L1078.2 388.1L1078.2 389.1L1078.2 390.1L1078.2 391.1L1078.2 392.1L1078.2 393.1L1078.2 393.4L1078.2 393.4L1078.2 393.1L1078.2 392.1L1078.2 391.1L1078.2 390.1L1078.2 389.1L1078.2 388.1L1078.2 387.1L1078.2 386.1L1078.2 385.1L1078.2 384.1L1078.2 383.1L1078.2 382.1L1078.2 381.1L1078.4 380.1L1078.9 379.1L1079.4 378.1L1080.0 377.1L1080.4 376.1L1080.7 375.1L1081.0 374.1L1081.2 373.1L1081.5 372.1L1081.8 371.1L1082.1 370.1L1082.4 369.1L1082.7 368.1L1082.9 367.1L1083.2 366.1L1083.5 365.1L1083.7 364.1L1083.9 363.1L1084.1 362.1L1084.3 361.1L1084.6 360.1L1084.8 359.1L1085.1 358.1L1085.4 357.1L1085.8 356.1L1086.2 355.1L1086.6 354.1L1087.2 353.1L1087.9 352.1L1088.7 351.1L1089.4 350.1L1090.2 349.1L1090.7 348.1L1091.3 347.1L1091.8 346.1L1092.3 345.1L1092.6 344.1L1092.7 343.1L1092.6 342.1L1092.5 341.1L1092.2 340.1L1092.0 339.1L1091.7 338.1L1091.4 337.1L1091.1 336.1L1090.9 335.1L1090.6 334.1L1090.4 333.1L1090.2 332.1L1089.9 331.1L1089.7 330.1L1089.4 329.1L1089.2 328.1L1089.0 327.1L1088.9 326.1L1088.7 325.1L1088.5 324.1L1088.3 323.1L1088.1 322.1L1087.9 321.1L1087.7 320.1L1087.5 319.1L1087.3 318.1L1087.0 317.1L1086.7 316.1L1086.3 315.1L1085.9 314.1L1085.3 313.1L1084.6 312.1L1083.8 311.1L1083.1 310.1L1082.4 309.1L1081.6 308.1L1080.8 307.1L1080.0 306.1L1079.3 305.1L1078.9 304.1L1078.5 303.1L1078.3 302.1L1078.2 301.1L1078.2 300.1L1078.2 299.1L1078.2 298.1L1078.2 297.1L1078.2 296.1Z" fill="#fff" stroke="#000" stroke-width="2.9" stroke-linejoin="round"/>
<circle cx="1075.2" cy="317.0" r="5.2" fill="rgba(255,255,255,0.35)" stroke="#fff" stroke-width="2.8"/>
<circle cx="1075.2" cy="317.0" r="5.2" fill="none" stroke="#8d8d8d" stroke-width="1.1"/>
<circle cx="1080.2" cy="317.0" r="5.2" fill="rgba(255,255,255,0.35)" stroke="#fff" stroke-width="2.8"/>
<circle cx="1080.2" cy="317.0" r="5.2" fill="none" stroke="#8d8d8d" stroke-width="1.1"/>
<circle cx="1074.2" cy="331.0" r="5.2" fill="rgba(255,255,255,0.35)" stroke="#fff" stroke-width="2.8"/>
<circle cx="1074.2" cy="331.0" r="5.2" fill="none" stroke="#8d8d8d" stroke-width="1.1"/>
<circle cx="1081.2" cy="330.0" r="5.2" fill="rgba(255,255,255,0.35)" stroke="#fff" stroke-width="2.8"/>
<circle cx="1081.2" cy="330.0" r="5.2" fill="none" stroke="#8d8d8d" stroke-width="1.1"/>
<circle cx="1090.2" cy="342.0" r="5.2" fill="rgba(255,255,255,0.35)" stroke="#fff" stroke-width="2.8"/>
<circle cx="1090.2" cy="342.0" r="5.2" fill="none" stroke="#8d8d8d" stroke-width="1.1"/>
<circle cx="1066.2" cy="347.0" r="5.2" fill="rgba(255,255,255,0.35)" stroke="#fff" stroke-width="2.8"/>
<circle cx="1066.2" cy="347.0" r="5.2" fill="none" stroke="#8d8d8d" stroke-width="1.1"/>
<circle cx="1076.2" cy="350.0" r="5.2" fill="rgba(255,255,255,0.35)" stroke="#fff" stroke-width="2.8"/>
<circle cx="1076.2" cy="350.0" r="5.2" fill="none" stroke="#8d8d8d" stroke-width="1.1"/>
<circle cx="1082.2" cy="351.0" r="5.2" fill="rgba(255,255,255,0.35)" stroke="#fff" stroke-width="2.8"/>
<circle cx="1082.2" cy="351.0" r="5.2" fill="none" stroke="#8d8d8d" stroke-width="1.1"/>
<circle cx="1078.2" cy="362.0" r="5.2" fill="rgba(255,255,255,0.35)" stroke="#fff" stroke-width="2.8"/>
<circle cx="1078.2" cy="362.0" r="5.2" fill="none" stroke="#8d8d8d" stroke-width="1.1"/>
<circle cx="1078.2" cy="371.0" r="5.2" fill="rgba(255,255,255,0.35)" stroke="#fff" stroke-width="2.8"/>
<circle cx="1078.2" cy="371.0" r="5.2" fill="none" stroke="#8d8d8d" stroke-width="1.1"/>
<circle cx="1079.2" cy="340.0" r="5.2" fill="rgba(255,255,255,0.35)" stroke="#fff" stroke-width="2.8"/>
<circle cx="1079.2" cy="340.0" r="5.2" fill="none" stroke="#8d8d8d" stroke-width="1.1"/>
<circle cx="1073.2" cy="340.0" r="5.2" fill="rgba(255,255,255,0.35)" stroke="#fff" stroke-width="2.8"/>
<circle cx="1073.2" cy="340.0" r="5.2" fill="none" stroke="#8d8d8d" stroke-width="1.1"/>
<path d="M1064.8 342.3H1080.6M1088.7 342.3H1091.8" stroke="#000" stroke-width="4.2" stroke-linecap="round" fill="none"/>
<path d="M1113.9 293.7L1113.9 294.7L1113.9 295.7L1113.9 296.7L1113.9 297.7L1113.9 298.7L1113.9 299.7L1113.9 300.7L1113.9 301.7L1113.8 302.7L1113.6 303.7L1113.3 304.7L1113.0 305.7L1112.6 306.7L1112.1 307.7L1111.6 308.7L1111.0 309.7L1110.5 310.7L1110.1 311.7L1109.8 312.7L1109.5 313.7L1109.3 314.7L1109.1 315.7L1108.8 316.7L1108.5 317.7L1108.2 318.7L1107.8 319.7L1107.4 320.7L1106.9 321.7L1106.5 322.7L1105.9 323.7L1105.2 324.7L1104.5 325.7L1103.8 326.7L1103.1 327.7L1102.3 328.7L1101.5 329.7L1100.7 330.7L1099.9 331.7L1099.4 332.7L1099.1 333.7L1099.1 334.7L1099.5 335.7L1100.1 336.7L1100.7 337.7L1101.2 338.7L1101.9 339.7L1102.5 340.7L1103.3 341.7L1104.0 342.7L1104.7 343.7L1105.5 344.7L1106.4 345.7L1107.1 346.7L1107.9 347.7L1108.7 348.7L1109.4 349.7L1109.7 350.7L1109.7 351.7L1109.7 352.7L1109.8 353.7L1109.8 354.7L1109.8 355.7L1109.8 356.7L1109.8 357.7L1109.8 358.7L1109.8 359.7L1109.9 360.7L1109.9 361.7L1109.9 362.7L1109.9 363.7L1109.9 364.7L1109.9 365.7L1109.9 366.7L1109.9 367.7L1109.9 368.7L1109.9 369.7L1109.9 370.7L1109.9 371.7L1109.9 372.7L1110.2 373.7L1110.9 374.7L1111.7 375.7L1112.3 376.7L1113.1 377.7L1113.7 378.7L1113.9 379.7L1113.9 380.7L1113.9 381.7L1113.9 382.7L1113.9 383.7L1113.9 384.7L1113.9 385.7L1113.9 386.7L1113.9 387.7L1113.9 388.7L1113.9 389.7L1113.9 390.7L1113.9 391.7L1113.9 392.1L1113.9 392.1L1113.9 391.7L1113.9 390.7L1113.9 389.7L1113.9 388.7L1113.9 387.7L1113.9 386.7L1113.9 385.7L1113.9 384.7L1113.9 383.7L1113.9 382.7L1113.9 381.7L1113.9 380.7L1113.9 379.7L1114.1 378.7L1114.7 377.7L1115.5 376.7L1116.1 375.7L1116.9 374.7L1117.6 373.7L1118.0 372.7L1118.0 371.7L1118.0 370.7L1118.0 369.7L1118.0 368.7L1118.0 367.7L1118.0 366.7L1118.0 365.7L1118.0 364.7L1118.0 363.7L1118.0 362.7L1118.0 361.7L1118.0 360.7L1118.0 359.7L1118.0 358.7L1118.0 357.7L1118.0 356.7L1118.0 355.7L1118.0 354.7L1118.0 353.7L1118.1 352.7L1118.1 351.7L1118.1 350.7L1118.4 349.7L1119.1 348.7L1119.9 347.7L1120.7 346.7L1121.4 345.7L1122.3 344.7L1123.1 343.7L1123.8 342.7L1124.5 341.7L1125.3 340.7L1125.9 339.7L1126.6 338.7L1127.1 337.7L1127.7 336.7L1128.3 335.7L1128.7 334.7L1128.7 333.7L1128.4 332.7L1127.9 331.7L1127.1 330.7L1126.3 329.7L1125.5 328.7L1124.7 327.7L1124.0 326.7L1123.3 325.7L1122.6 324.7L1121.9 323.7L1121.3 322.7L1120.9 321.7L1120.4 320.7L1120.0 319.7L1119.6 318.7L1119.3 317.7L1119.0 316.7L1118.7 315.7L1118.5 314.7L1118.3 313.7L1118.0 312.7L1117.7 311.7L1117.3 310.7L1116.8 309.7L1116.2 308.7L1115.7 307.7L1115.2 306.7L1114.8 305.7L1114.5 304.7L1114.2 303.7L1114.0 302.7L1113.9 301.7L1113.9 300.7L1113.9 299.7L1113.9 298.7L1113.9 297.7L1113.9 296.7L1113.9 295.7L1113.9 294.7L1113.9 293.7Z" fill="#b2b2b4" stroke="#3462a6" stroke-width="2.9" stroke-linejoin="round"/>
<rect x="1109.7" y="309.8" width="8.5" height="8.5" fill="none" stroke="#3462a6" stroke-width="1.6"/>
<rect x="1104.7" y="321.8" width="8.5" height="8.5" fill="none" stroke="#3462a6" stroke-width="1.6"/>
<rect x="1114.7" y="321.8" width="8.5" height="8.5" fill="none" stroke="#3462a6" stroke-width="1.6"/>
<rect x="1098.7" y="329.8" width="8.5" height="8.5" fill="none" stroke="#3462a6" stroke-width="1.6"/>
<rect x="1104.7" y="329.8" width="8.5" height="8.5" fill="none" stroke="#3462a6" stroke-width="1.6"/>
<rect x="1110.7" y="329.8" width="8.5" height="8.5" fill="none" stroke="#3462a6" stroke-width="1.6"/>
<rect x="1116.7" y="329.8" width="8.5" height="8.5" fill="none" stroke="#3462a6" stroke-width="1.6"/>
<rect x="1121.7" y="327.8" width="8.5" height="8.5" fill="none" stroke="#3462a6" stroke-width="1.6"/>
<rect x="1105.7" y="338.8" width="8.5" height="8.5" fill="none" stroke="#3462a6" stroke-width="1.6"/>
<rect x="1114.7" y="338.8" width="8.5" height="8.5" fill="none" stroke="#3462a6" stroke-width="1.6"/>
<rect x="1109.7" y="347.8" width="8.5" height="8.5" fill="none" stroke="#3462a6" stroke-width="1.6"/>
<rect x="1109.7" y="357.8" width="8.5" height="8.5" fill="none" stroke="#3462a6" stroke-width="1.6"/>
<rect x="1109.7" y="366.8" width="8.5" height="8.5" fill="none" stroke="#3462a6" stroke-width="1.6"/>
<path d="M1100.4 334.2h6.9M1110.4 334.2h6.9M1120.5 334.2h6.9" stroke="#000" stroke-width="2.4" fill="none"/>
<path d="M1181.3 250.5L1181.3 251.5L1181.3 252.5L1181.3 253.5L1181.3 254.5L1181.3 255.5L1181.3 256.5L1181.3 257.5L1181.3 258.5L1181.3 259.5L1181.3 260.5L1181.2 261.5L1181.0 262.5L1180.8 263.5L1180.6 264.5L1180.3 265.5L1180.1 266.5L1179.8 267.5L1179.4 268.5L1179.1 269.5L1178.8 270.5L1178.6 271.5L1178.4 272.5L1178.2 273.5L1178.0 274.5L1177.8 275.5L1177.7 276.5L1177.6 277.5L1177.5 278.5L1177.5 279.5L1177.5 280.5L1177.6 281.5L1177.8 282.5L1178.0 283.5L1178.2 284.5L1178.4 285.5L1178.7 286.5L1178.9 287.5L1179.2 288.5L1179.5 289.5L1179.8 290.5L1180.1 291.5L1180.4 292.5L1180.7 293.5L1180.9 294.5L1181.1 295.5L1181.3 296.5L1181.3 297.5L1181.3 298.5L1181.3 299.5L1181.3 300.5L1181.3 301.5L1181.1 302.5L1180.9 303.5L1180.6 304.5L1180.3 305.5L1180.0 306.5L1179.7 307.5L1179.4 308.5L1179.1 309.5L1178.7 310.5L1178.3 311.5L1178.0 312.5L1177.6 313.5L1177.2 314.5L1176.9 315.5L1176.5 316.5L1176.2 317.5L1175.9 318.5L1175.5 319.5L1175.2 320.5L1174.9 321.5L1174.5 322.5L1174.2 323.5L1173.9 324.5L1173.6 325.5L1173.3 326.5L1173.0 327.5L1172.7 328.5L1172.4 329.5L1172.1 330.5L1171.8 331.5L1171.6 332.5L1171.3 333.5L1171.1 334.5L1170.8 335.5L1170.6 336.5L1170.4 337.5L1170.2 338.5L1169.9 339.5L1169.7 340.5L1169.5 341.5L1169.3 342.5L1169.2 343.5L1169.0 344.5L1168.8 345.5L1168.7 346.5L1168.5 347.5L1168.4 348.5L1168.2 349.5L1168.1 350.5L1168.0 351.5L1167.8 352.5L1167.7 353.5L1167.6 354.5L1167.5 355.5L1167.4 356.5L1167.3 357.5L1167.2 358.5L1167.2 359.5L1167.2 360.5L1167.2 361.5L1167.3 362.5L1167.6 363.5L1167.9 364.5L1168.2 365.5L1168.6 366.5L1168.9 367.5L1169.4 368.5L1170.0 369.5L1170.5 370.5L1171.1 371.5L1171.7 372.5L1172.1 373.5L1172.6 374.5L1173.0 375.5L1173.4 376.5L1173.8 377.5L1174.2 378.5L1174.6 379.5L1174.9 380.5L1175.3 381.5L1175.7 382.5L1176.1 383.5L1176.4 384.5L1176.8 385.5L1177.1 386.5L1177.5 387.5L1177.8 388.5L1178.1 389.5L1178.4 390.5L1178.7 391.5L1179.0 392.5L1179.3 393.5L1179.6 394.5L1179.9 395.5L1180.2 396.5L1180.5 397.5L1180.8 398.5L1181.0 399.5L1181.2 400.5L1181.2 401.5L1181.3 402.5L1181.3 403.5L1181.3 404.5L1181.3 405.5L1181.3 406.5L1181.3 407.5L1181.3 408.5L1181.3 409.5L1181.3 410.5L1181.3 411.5L1181.3 412.5L1181.3 413.5L1181.3 414.5L1181.3 415.5L1181.3 416.5L1181.3 417.0L1181.3 417.0L1181.3 416.5L1181.3 415.5L1181.3 414.5L1181.3 413.5L1181.3 412.5L1181.3 411.5L1181.3 410.5L1181.3 409.5L1181.3 408.5L1181.3 407.5L1181.3 406.5L1181.3 405.5L1181.3 404.5L1181.3 403.5L1181.3 402.5L1181.4 401.5L1181.4 400.5L1181.6 399.5L1181.8 398.5L1182.1 397.5L1182.4 396.5L1182.7 395.5L1183.0 394.5L1183.3 393.5L1183.6 392.5L1183.9 391.5L1184.2 390.5L1184.5 389.5L1184.8 388.5L1185.1 387.5L1185.5 386.5L1185.8 385.5L1186.2 384.5L1186.5 383.5L1186.9 382.5L1187.3 381.5L1187.7 380.5L1188.0 379.5L1188.4 378.5L1188.8 377.5L1189.2 376.5L1189.6 375.5L1190.0 374.5L1190.5 373.5L1190.9 372.5L1191.5 371.5L1192.1 370.5L1192.6 369.5L1193.2 368.5L1193.7 367.5L1194.0 366.5L1194.4 365.5L1194.7 364.5L1195.0 363.5L1195.3 362.5L1195.4 361.5L1195.4 360.5L1195.4 359.5L1195.4 358.5L1195.3 357.5L1195.2 356.5L1195.1 355.5L1195.0 354.5L1194.9 353.5L1194.8 352.5L1194.6 351.5L1194.5 350.5L1194.4 349.5L1194.2 348.5L1194.1 347.5L1193.9 346.5L1193.8 345.5L1193.6 344.5L1193.4 343.5L1193.3 342.5L1193.1 341.5L1192.9 340.5L1192.7 339.5L1192.4 338.5L1192.2 337.5L1192.0 336.5L1191.8 335.5L1191.5 334.5L1191.3 333.5L1191.0 332.5L1190.8 331.5L1190.5 330.5L1190.2 329.5L1189.9 328.5L1189.6 327.5L1189.3 326.5L1189.0 325.5L1188.7 324.5L1188.4 323.5L1188.1 322.5L1187.7 321.5L1187.4 320.5L1187.1 319.5L1186.7 318.5L1186.4 317.5L1186.1 316.5L1185.7 315.5L1185.4 314.5L1185.0 313.5L1184.6 312.5L1184.3 311.5L1183.9 310.5L1183.5 309.5L1183.2 308.5L1182.9 307.5L1182.6 306.5L1182.3 305.5L1182.0 304.5L1181.7 303.5L1181.5 302.5L1181.3 301.5L1181.3 300.5L1181.3 299.5L1181.3 298.5L1181.3 297.5L1181.3 296.5L1181.5 295.5L1181.7 294.5L1181.9 293.5L1182.2 292.5L1182.5 291.5L1182.8 290.5L1183.1 289.5L1183.4 288.5L1183.7 287.5L1183.9 286.5L1184.2 285.5L1184.4 284.5L1184.6 283.5L1184.8 282.5L1185.0 281.5L1185.1 280.5L1185.1 279.5L1185.1 278.5L1185.0 277.5L1184.9 276.5L1184.8 275.5L1184.6 274.5L1184.4 273.5L1184.2 272.5L1184.0 271.5L1183.8 270.5L1183.5 269.5L1183.2 268.5L1182.8 267.5L1182.5 266.5L1182.3 265.5L1182.0 264.5L1181.8 263.5L1181.6 262.5L1181.4 261.5L1181.3 260.5L1181.3 259.5L1181.3 258.5L1181.3 257.5L1181.3 256.5L1181.3 255.5L1181.3 254.5L1181.3 253.5L1181.3 252.5L1181.3 251.5L1181.3 250.5Z" fill="#fff" stroke="#000" stroke-width="2.9" stroke-linejoin="round"/>
<circle cx="1181.3" cy="279.5" r="5.2" fill="rgba(255,255,255,0.35)" stroke="#fff" stroke-width="2.8"/>
<circle cx="1181.3" cy="279.5" r="5.2" fill="none" stroke="#8d8d8d" stroke-width="1.1"/>
<circle cx="1181.3" cy="323.0" r="5.2" fill="rgba(255,255,255,0.35)" stroke="#fff" stroke-width="2.8"/>
<circle cx="1181.3" cy="323.0" r="5.2" fill="none" stroke="#8d8d8d" stroke-width="1.1"/>
<circle cx="1189.3" cy="337.0" r="5.2" fill="rgba(255,255,255,0.35)" stroke="#fff" stroke-width="2.8"/>
<circle cx="1189.3" cy="337.0" r="5.2" fill="none" stroke="#8d8d8d" stroke-width="1.1"/>
<circle cx="1174.3" cy="341.0" r="5.2" fill="rgba(255,255,255,0.35)" stroke="#fff" stroke-width="2.8"/>
<circle cx="1174.3" cy="341.0" r="5.2" fill="none" stroke="#8d8d8d" stroke-width="1.1"/>
<circle cx="1185.3" cy="343.0" r="5.2" fill="rgba(255,255,255,0.35)" stroke="#fff" stroke-width="2.8"/>
<circle cx="1185.3" cy="343.0" r="5.2" fill="none" stroke="#8d8d8d" stroke-width="1.1"/>
<circle cx="1189.3" cy="352.0" r="5.2" fill="rgba(255,255,255,0.35)" stroke="#fff" stroke-width="2.8"/>
<circle cx="1189.3" cy="352.0" r="5.2" fill="none" stroke="#8d8d8d" stroke-width="1.1"/>
<circle cx="1171.3" cy="360.0" r="5.2" fill="rgba(255,255,255,0.35)" stroke="#fff" stroke-width="2.8"/>
<circle cx="1171.3" cy="360.0" r="5.2" fill="none" stroke="#8d8d8d" stroke-width="1.1"/>
<circle cx="1192.3" cy="361.0" r="5.2" fill="rgba(255,255,255,0.35)" stroke="#fff" stroke-width="2.8"/>
<circle cx="1192.3" cy="361.0" r="5.2" fill="none" stroke="#8d8d8d" stroke-width="1.1"/>
<circle cx="1179.3" cy="363.0" r="5.2" fill="rgba(255,255,255,0.35)" stroke="#fff" stroke-width="2.8"/>
<circle cx="1179.3" cy="363.0" r="5.2" fill="none" stroke="#8d8d8d" stroke-width="1.1"/>
<circle cx="1174.3" cy="368.0" r="5.2" fill="rgba(255,255,255,0.35)" stroke="#fff" stroke-width="2.8"/>
<circle cx="1174.3" cy="368.0" r="5.2" fill="none" stroke="#8d8d8d" stroke-width="1.1"/>
<circle cx="1185.3" cy="369.0" r="5.2" fill="rgba(255,255,255,0.35)" stroke="#fff" stroke-width="2.8"/>
<circle cx="1185.3" cy="369.0" r="5.2" fill="none" stroke="#8d8d8d" stroke-width="1.1"/>
<circle cx="1181.3" cy="388.0" r="5.2" fill="rgba(255,255,255,0.35)" stroke="#fff" stroke-width="2.8"/>
<circle cx="1181.3" cy="388.0" r="5.2" fill="none" stroke="#8d8d8d" stroke-width="1.1"/>
<path d="M1169.8 352.5H1183.3M1190.3 352.5H1192.8" stroke="#000" stroke-width="4.2" stroke-linecap="round" fill="none"/>
<path d="M1216.8 263.4L1216.8 264.4L1216.8 265.4L1216.8 266.4L1216.8 267.4L1216.8 268.4L1216.8 269.4L1216.8 270.4L1216.8 271.4L1216.8 272.4L1216.8 273.4L1216.8 274.4L1216.8 275.4L1216.7 276.4L1216.7 277.4L1216.6 278.4L1216.4 279.4L1216.2 280.4L1216.0 281.4L1215.8 282.4L1215.6 283.4L1215.4 284.4L1215.1 285.4L1214.7 286.4L1214.4 287.4L1214.0 288.4L1213.7 289.4L1213.4 290.4L1213.1 291.4L1212.8 292.4L1212.5 293.4L1212.2 294.4L1211.9 295.4L1211.6 296.4L1211.4 297.4L1211.2 298.4L1211.0 299.4L1210.9 300.4L1210.8 301.4L1210.8 302.4L1210.7 303.4L1210.6 304.4L1210.6 305.4L1210.5 306.4L1210.4 307.4L1210.4 308.4L1210.3 309.4L1210.2 310.4L1210.2 311.4L1210.1 312.4L1210.0 313.4L1210.0 314.4L1209.9 315.4L1209.8 316.4L1209.7 317.4L1209.6 318.4L1209.4 319.4L1209.2 320.4L1209.0 321.4L1208.8 322.4L1208.6 323.4L1208.4 324.4L1208.1 325.4L1207.8 326.4L1207.5 327.4L1207.2 328.4L1206.8 329.4L1206.4 330.4L1205.9 331.4L1205.4 332.4L1204.9 333.4L1204.4 334.4L1204.0 335.4L1203.6 336.4L1203.2 337.4L1202.8 338.4L1202.4 339.4L1202.1 340.4L1201.9 341.4L1201.8 342.4L1202.0 343.4L1202.3 344.4L1202.8 345.4L1203.3 346.4L1203.9 347.4L1204.4 348.4L1204.9 349.4L1205.5 350.4L1206.0 351.4L1206.6 352.4L1207.1 353.4L1207.6 354.4L1208.1 355.4L1208.6 356.4L1209.1 357.4L1209.6 358.4L1210.0 359.4L1210.3 360.4L1210.7 361.4L1211.0 362.4L1211.3 363.4L1211.5 364.4L1211.7 365.4L1211.8 366.4L1212.0 367.4L1212.1 368.4L1212.2 369.4L1212.3 370.4L1212.4 371.4L1212.5 372.4L1212.5 373.4L1212.6 374.4L1212.6 375.4L1212.6 376.4L1212.6 377.4L1212.6 378.4L1212.6 379.4L1212.7 380.4L1212.7 381.4L1212.7 382.4L1212.7 383.4L1212.7 384.4L1212.7 385.4L1212.7 386.4L1212.7 387.4L1212.8 388.4L1212.8 389.4L1212.8 390.4L1212.8 391.4L1212.9 392.4L1212.9 393.4L1213.0 394.4L1213.0 395.4L1213.1 396.4L1213.2 397.4L1213.4 398.4L1213.6 399.4L1213.8 400.4L1214.0 401.4L1214.2 402.4L1214.5 403.4L1214.8 404.4L1215.1 405.4L1215.3 406.4L1215.6 407.4L1215.9 408.4L1216.2 409.4L1216.5 410.4L1216.7 411.4L1216.7 412.4L1216.8 413.4L1216.8 414.4L1216.8 415.4L1216.8 416.4L1216.8 417.4L1216.8 418.4L1216.8 419.4L1216.8 420.4L1216.8 421.4L1216.8 422.4L1216.8 423.4L1216.8 424.4L1216.8 425.4L1216.8 426.4L1216.8 427.2L1216.8 427.2L1216.8 426.4L1216.8 425.4L1216.8 424.4L1216.8 423.4L1216.8 422.4L1216.8 421.4L1216.8 420.4L1216.8 419.4L1216.8 418.4L1216.8 417.4L1216.8 416.4L1216.8 415.4L1216.8 414.4L1216.8 413.4L1216.8 412.4L1216.8 411.4L1217.0 410.4L1217.3 409.4L1217.6 408.4L1217.9 407.4L1218.2 406.4L1218.4 405.4L1218.7 404.4L1219.0 403.4L1219.3 402.4L1219.5 401.4L1219.7 400.4L1219.9 399.4L1220.1 398.4L1220.3 397.4L1220.4 396.4L1220.5 395.4L1220.5 394.4L1220.6 393.4L1220.6 392.4L1220.7 391.4L1220.7 390.4L1220.7 389.4L1220.7 388.4L1220.8 387.4L1220.8 386.4L1220.8 385.4L1220.8 384.4L1220.8 383.4L1220.8 382.4L1220.8 381.4L1220.8 380.4L1220.9 379.4L1220.9 378.4L1220.9 377.4L1220.9 376.4L1220.9 375.4L1220.9 374.4L1221.0 373.4L1221.0 372.4L1221.1 371.4L1221.2 370.4L1221.3 369.4L1221.4 368.4L1221.5 367.4L1221.7 366.4L1221.8 365.4L1222.0 364.4L1222.2 363.4L1222.5 362.4L1222.8 361.4L1223.2 360.4L1223.5 359.4L1223.9 358.4L1224.4 357.4L1224.9 356.4L1225.4 355.4L1225.9 354.4L1226.4 353.4L1226.9 352.4L1227.5 351.4L1228.0 350.4L1228.6 349.4L1229.1 348.4L1229.6 347.4L1230.2 346.4L1230.7 345.4L1231.2 344.4L1231.5 343.4L1231.7 342.4L1231.6 341.4L1231.4 340.4L1231.1 339.4L1230.7 338.4L1230.3 337.4L1229.9 336.4L1229.5 335.4L1229.1 334.4L1228.6 333.4L1228.1 332.4L1227.6 331.4L1227.1 330.4L1226.7 329.4L1226.3 328.4L1226.0 327.4L1225.7 326.4L1225.4 325.4L1225.1 324.4L1224.9 323.4L1224.7 322.4L1224.5 321.4L1224.3 320.4L1224.1 319.4L1223.9 318.4L1223.8 317.4L1223.7 316.4L1223.6 315.4L1223.5 314.4L1223.5 313.4L1223.4 312.4L1223.3 311.4L1223.3 310.4L1223.2 309.4L1223.1 308.4L1223.1 307.4L1223.0 306.4L1222.9 305.4L1222.9 304.4L1222.8 303.4L1222.7 302.4L1222.7 301.4L1222.6 300.4L1222.5 299.4L1222.3 298.4L1222.1 297.4L1221.9 296.4L1221.6 295.4L1221.3 294.4L1221.0 293.4L1220.7 292.4L1220.4 291.4L1220.1 290.4L1219.8 289.4L1219.5 288.4L1219.1 287.4L1218.8 286.4L1218.4 285.4L1218.1 284.4L1217.9 283.4L1217.7 282.4L1217.5 281.4L1217.3 280.4L1217.1 279.4L1216.9 278.4L1216.8 277.4L1216.8 276.4L1216.8 275.4L1216.8 274.4L1216.8 273.4L1216.8 272.4L1216.8 271.4L1216.8 270.4L1216.8 269.4L1216.8 268.4L1216.8 267.4L1216.8 266.4L1216.8 265.4L1216.8 264.4L1216.8 263.4Z" fill="#b2b2b4" stroke="#3462a6" stroke-width="2.9" stroke-linejoin="round"/>
<rect x="1212.0" y="296.2" width="9.5" height="9.5" fill="none" stroke="#3462a6" stroke-width="1.6"/>
<rect x="1212.0" y="303.2" width="9.5" height="9.5" fill="none" stroke="#3462a6" stroke-width="1.6"/>
<rect x="1212.0" y="311.2" width="9.5" height="9.5" fill="none" stroke="#3462a6" stroke-width="1.6"/>
<rect x="1212.0" y="332.2" width="9.5" height="9.5" fill="none" stroke="#3462a6" stroke-width="1.6"/>
<rect x="1201.0" y="337.8" width="9.5" height="9.5" fill="none" stroke="#3462a6" stroke-width="1.6"/>
<rect x="1223.0" y="338.8" width="9.5" height="9.5" fill="none" stroke="#3462a6" stroke-width="1.6"/>
<rect x="1212.0" y="356.2" width="9.5" height="9.5" fill="none" stroke="#3462a6" stroke-width="1.6"/>
<rect x="1212.0" y="363.2" width="9.5" height="9.5" fill="none" stroke="#3462a6" stroke-width="1.6"/>
<rect x="1212.0" y="379.2" width="9.5" height="9.5" fill="none" stroke="#3462a6" stroke-width="1.6"/>
<rect x="1212.0" y="387.2" width="9.5" height="9.5" fill="none" stroke="#3462a6" stroke-width="1.6"/>
<path d="M1203.2 342.4h6.9M1213.3 342.4h6.9M1223.3 342.4h6.9" stroke="#000" stroke-width="2.4" fill="none"/>
<text x="1428.50" y="109.00" font-size="35.50" font-weight="bold" stroke="#000" stroke-width="0.3" stroke-linejoin="round">c</text>
<text x="1434.00" y="148.00" font-size="17.40" textLength="115.0" lengthAdjust="spacing" stroke="#000" stroke-width="0.3" stroke-linejoin="round">M Social target</text>
<line x1="1580.60" y1="186.30" x2="1580.60" y2="469.60" stroke="#000" stroke-width="2.6"/>
<line x1="1573.80" y1="187.60" x2="1580.60" y2="187.60" stroke="#000" stroke-width="2.6"/>
<text x="1570.40" y="194.90" font-size="18.50" text-anchor="end" textLength="30.9" lengthAdjust="spacing" stroke="#000" stroke-width="0.3" stroke-linejoin="round">800</text>
<line x1="1573.80" y1="243.80" x2="1580.60" y2="243.80" stroke="#000" stroke-width="2.6"/>
<text x="1570.40" y="251.10" font-size="18.50" text-anchor="end" textLength="30.9" lengthAdjust="spacing" stroke="#000" stroke-width="0.3" stroke-linejoin="round">600</text>
<line x1="1573.80" y1="300.00" x2="1580.60" y2="300.00" stroke="#000" stroke-width="2.6"/>
<text x="1570.40" y="307.30" font-size="18.50" text-anchor="end" textLength="30.9" lengthAdjust="spacing" stroke="#000" stroke-width="0.3" stroke-linejoin="round">400</text>
<line x1="1573.80" y1="356.20" x2="1580.60" y2="356.20" stroke="#000" stroke-width="2.6"/>
<text x="1570.40" y="363.50" font-size="18.50" text-anchor="end" textLength="30.9" lengthAdjust="spacing" stroke="#000" stroke-width="0.3" stroke-linejoin="round">200</text>
<line x1="1573.80" y1="412.20" x2="1580.60" y2="412.20" stroke="#000" stroke-width="2.6"/>
<text x="1570.40" y="419.50" font-size="18.50" text-anchor="end" stroke="#000" stroke-width="0.3" stroke-linejoin="round">0</text>
<line x1="1573.80" y1="468.30" x2="1580.60" y2="468.30" stroke="#000" stroke-width="2.6"/>
<text x="1570.40" y="475.60" font-size="18.50" text-anchor="end" textLength="37.0" lengthAdjust="spacing" stroke="#000" stroke-width="0.3" stroke-linejoin="round">-200</text>
<line x1="1574.10" y1="468.30" x2="1700.50" y2="468.30" stroke="#000" stroke-width="2.6"/>
<line x1="1617.20" y1="468.30" x2="1617.20" y2="475.50" stroke="#000" stroke-width="2.6"/>
<line x1="1661.60" y1="468.30" x2="1661.60" y2="475.50" stroke="#000" stroke-width="2.6"/>
<text transform="translate(1523.70 326.80) rotate(-90)" font-size="22.66" text-anchor="middle" textLength="269.0" lengthAdjust="spacing" stroke="#000" stroke-width="0.3" stroke-linejoin="round">M-M Investigation Duration (s)</text>
<line x1="1591.20" y1="412.40" x2="1700.00" y2="412.40" stroke="#000" stroke-width="6.0" stroke-linecap="round" stroke-dasharray="0 10.55"/>
<text transform="translate(1621.20 486.20) rotate(-45)" font-size="18.65" text-anchor="end" textLength="84.6" lengthAdjust="spacing" stroke="#000" stroke-width="0.3" stroke-linejoin="round">WT SIS M</text>
<text transform="translate(1668.80 486.20) rotate(-45)" font-size="18.65" text-anchor="end" textLength="102.3" lengthAdjust="spacing" stroke="#000" stroke-width="0.3" stroke-linejoin="round">cHET SIS M</text>
<path d="M1617.20 334.00V184.20H1662.20V215.50" fill="none" stroke="#000" stroke-width="2.6" stroke-linecap="round" stroke-linejoin="miter"/>
<text transform="translate(1637.80 169.60) scale(1 1.1)" x="0" y="14.94" font-family="DejaVu Sans, sans-serif" font-weight="bold" font-size="29" text-anchor="middle" letter-spacing="0.1" stroke="#000" stroke-width="0.8">**</text>
<line x1="1837.00" y1="182.90" x2="1837.00" y2="463.90" stroke="#000" stroke-width="2.6"/>
<line x1="1830.20" y1="184.20" x2="1837.00" y2="184.20" stroke="#000" stroke-width="2.6"/>
<text x="1826.80" y="191.50" font-size="18.50" text-anchor="end" textLength="30.9" lengthAdjust="spacing" stroke="#000" stroke-width="0.3" stroke-linejoin="round">150</text>
<line x1="1830.20" y1="254.00" x2="1837.00" y2="254.00" stroke="#000" stroke-width="2.6"/>
<text x="1826.80" y="261.30" font-size="18.50" text-anchor="end" textLength="30.9" lengthAdjust="spacing" stroke="#000" stroke-width="0.3" stroke-linejoin="round">100</text>
<line x1="1830.20" y1="323.80" x2="1837.00" y2="323.80" stroke="#000" stroke-width="2.6"/>
<text x="1826.80" y="331.10" font-size="18.50" text-anchor="end" textLength="20.6" lengthAdjust="spacing" stroke="#000" stroke-width="0.3" stroke-linejoin="round">50</text>
<line x1="1830.20" y1="393.50" x2="1837.00" y2="393.50" stroke="#000" stroke-width="2.6"/>
<text x="1826.80" y="400.80" font-size="18.50" text-anchor="end" stroke="#000" stroke-width="0.3" stroke-linejoin="round">0</text>
<line x1="1830.20" y1="462.60" x2="1837.00" y2="462.60" stroke="#000" stroke-width="2.6"/>
<text x="1826.80" y="469.90" font-size="18.50" text-anchor="end" textLength="26.7" lengthAdjust="spacing" stroke="#000" stroke-width="0.3" stroke-linejoin="round">-50</text>
<line x1="1830.50" y1="462.60" x2="1954.50" y2="462.60" stroke="#000" stroke-width="2.6"/>
<line x1="1872.00" y1="462.60" x2="1872.00" y2="469.80" stroke="#000" stroke-width="2.6"/>
<line x1="1915.60" y1="462.60" x2="1915.60" y2="469.80" stroke="#000" stroke-width="2.6"/>
<text transform="translate(1783.80 325.00) rotate(-90)" font-size="22.66" text-anchor="middle" textLength="217.5" lengthAdjust="spacing" stroke="#000" stroke-width="0.3" stroke-linejoin="round">M-M Attack Duration (s)</text>
<line x1="1847.60" y1="393.60" x2="1954.00" y2="393.60" stroke="#000" stroke-width="6.0" stroke-linecap="round" stroke-dasharray="0 10.55"/>
<text transform="translate(1883.80 481.00) rotate(-45)" font-size="18.65" text-anchor="end" textLength="84.6" lengthAdjust="spacing" stroke="#000" stroke-width="0.3" stroke-linejoin="round">WT SIS M</text>
<text transform="translate(1927.40 481.00) rotate(-45)" font-size="18.65" text-anchor="end" textLength="102.3" lengthAdjust="spacing" stroke="#000" stroke-width="0.3" stroke-linejoin="round">cHET SIS M</text>
<path d="M1872.00 277.00V194.20H1917.00V226.00" fill="none" stroke="#000" stroke-width="2.6" stroke-linecap="round" stroke-linejoin="miter"/>
<text x="1896.00" y="187.00" font-size="21.00" text-anchor="middle" textLength="22.2" lengthAdjust="spacing" stroke="#000" stroke-width="0.3" stroke-linejoin="round">ns</text>
<path d="M1617.0 364.0L1617.0 365.0L1617.0 366.0L1617.0 367.0L1617.0 368.0L1617.0 369.0L1617.0 370.0L1616.7 371.0L1616.1 372.0L1615.5 373.0L1614.9 374.0L1614.3 375.0L1613.7 376.0L1613.3 377.0L1613.0 378.0L1613.0 379.0L1613.3 380.0L1613.8 381.0L1614.4 382.0L1615.0 383.0L1615.5 384.0L1616.2 385.0L1616.7 386.0L1616.8 387.0L1616.3 388.0L1615.4 389.0L1614.5 390.0L1613.4 391.0L1612.0 392.0L1610.6 393.0L1609.3 394.0L1608.2 395.0L1607.3 396.0L1606.5 397.0L1605.8 398.0L1605.1 399.0L1604.5 400.0L1603.7 401.0L1603.0 402.0L1602.3 403.0L1601.7 404.0L1601.1 405.0L1600.6 406.0L1600.1 407.0L1599.6 408.0L1599.3 409.0L1599.1 410.0L1599.2 411.0L1599.8 412.0L1600.9 413.0L1602.3 414.0L1604.7 415.0L1607.8 416.0L1611.8 417.0L1615.0 418.0L1617.0 419.0L1617.0 420.0L1617.0 421.0L1617.0 422.0L1617.0 423.0L1617.0 423.8L1617.0 423.8L1617.0 423.0L1617.0 422.0L1617.0 421.0L1617.0 420.0L1617.0 419.0L1619.0 418.0L1622.2 417.0L1626.2 416.0L1629.3 415.0L1631.7 414.0L1633.1 413.0L1634.2 412.0L1634.8 411.0L1634.9 410.0L1634.7 409.0L1634.4 408.0L1633.9 407.0L1633.4 406.0L1632.9 405.0L1632.3 404.0L1631.7 403.0L1631.0 402.0L1630.3 401.0L1629.5 400.0L1628.9 399.0L1628.2 398.0L1627.5 397.0L1626.7 396.0L1625.8 395.0L1624.7 394.0L1623.4 393.0L1622.0 392.0L1620.6 391.0L1619.5 390.0L1618.6 389.0L1617.7 388.0L1617.2 387.0L1617.3 386.0L1617.8 385.0L1618.5 384.0L1619.0 383.0L1619.6 382.0L1620.2 381.0L1620.7 380.0L1621.0 379.0L1621.0 378.0L1620.7 377.0L1620.3 376.0L1619.7 375.0L1619.1 374.0L1618.5 373.0L1617.9 372.0L1617.3 371.0L1617.0 370.0L1617.0 369.0L1617.0 368.0L1617.0 367.0L1617.0 366.0L1617.0 365.0L1617.0 364.0Z" fill="#ddd" stroke="#000" stroke-width="2.9" stroke-linejoin="round"/>
<circle cx="1617.0" cy="375.0" r="4.3" fill="none" stroke="#3a3a3a" stroke-width="1.3"/>
<circle cx="1617.0" cy="379.0" r="4.3" fill="none" stroke="#3a3a3a" stroke-width="1.3"/>
<circle cx="1617.0" cy="383.0" r="4.3" fill="none" stroke="#3a3a3a" stroke-width="1.3"/>
<circle cx="1613.0" cy="392.0" r="4.3" fill="none" stroke="#3a3a3a" stroke-width="1.3"/>
<circle cx="1620.0" cy="394.0" r="4.3" fill="none" stroke="#3a3a3a" stroke-width="1.3"/>
<circle cx="1610.0" cy="398.0" r="4.3" fill="none" stroke="#3a3a3a" stroke-width="1.3"/>
<circle cx="1623.0" cy="400.0" r="4.3" fill="none" stroke="#3a3a3a" stroke-width="1.3"/>
<circle cx="1615.0" cy="402.0" r="4.3" fill="none" stroke="#3a3a3a" stroke-width="1.3"/>
<circle cx="1607.0" cy="405.0" r="4.3" fill="none" stroke="#3a3a3a" stroke-width="1.3"/>
<circle cx="1626.0" cy="405.0" r="4.3" fill="none" stroke="#3a3a3a" stroke-width="1.3"/>
<circle cx="1603.0" cy="408.0" r="4.3" fill="none" stroke="#3a3a3a" stroke-width="1.3"/>
<circle cx="1611.0" cy="409.0" r="4.3" fill="none" stroke="#3a3a3a" stroke-width="1.3"/>
<circle cx="1619.0" cy="408.0" r="4.3" fill="none" stroke="#3a3a3a" stroke-width="1.3"/>
<circle cx="1629.0" cy="409.0" r="4.3" fill="none" stroke="#3a3a3a" stroke-width="1.3"/>
<circle cx="1633.0" cy="411.0" r="4.3" fill="none" stroke="#3a3a3a" stroke-width="1.3"/>
<circle cx="1601.0" cy="412.0" r="4.3" fill="none" stroke="#3a3a3a" stroke-width="1.3"/>
<circle cx="1608.0" cy="412.0" r="4.3" fill="none" stroke="#3a3a3a" stroke-width="1.3"/>
<circle cx="1617.0" cy="412.0" r="4.3" fill="none" stroke="#3a3a3a" stroke-width="1.3"/>
<circle cx="1624.0" cy="413.0" r="4.3" fill="none" stroke="#3a3a3a" stroke-width="1.3"/>
<circle cx="1613.0" cy="414.0" r="4.3" fill="none" stroke="#3a3a3a" stroke-width="1.3"/>
<line x1="1602.0" y1="412.5" x2="1632.0" y2="412.5" stroke="#000" stroke-width="1.7" stroke-dasharray="0.1 4.2" stroke-linecap="round"/>
<path d="M1662.2 245.5L1662.2 246.5L1662.2 247.5L1662.2 248.5L1662.2 249.5L1662.2 250.5L1662.2 251.5L1662.2 252.5L1662.2 253.5L1662.2 254.5L1662.2 255.5L1662.2 256.5L1662.2 257.5L1662.2 258.5L1662.2 259.5L1662.2 260.5L1662.2 261.5L1662.2 262.5L1662.2 263.5L1662.1 264.5L1662.0 265.5L1662.0 266.5L1661.9 267.5L1661.8 268.5L1661.7 269.5L1661.5 270.5L1661.4 271.5L1661.3 272.5L1661.2 273.5L1661.0 274.5L1660.9 275.5L1660.8 276.5L1660.6 277.5L1660.5 278.5L1660.5 279.5L1660.4 280.5L1660.3 281.5L1660.3 282.5L1660.2 283.5L1660.2 284.5L1660.2 285.5L1660.2 286.5L1660.2 287.5L1660.3 288.5L1660.4 289.5L1660.5 290.5L1660.6 291.5L1660.7 292.5L1660.7 293.5L1660.9 294.5L1661.0 295.5L1661.1 296.5L1661.3 297.5L1661.4 298.5L1661.5 299.5L1661.7 300.5L1661.7 301.5L1661.8 302.5L1661.9 303.5L1662.0 304.5L1662.1 305.5L1662.2 306.5L1662.2 307.5L1662.2 308.5L1662.1 309.5L1662.1 310.5L1661.9 311.5L1661.6 312.5L1661.3 313.5L1660.9 314.5L1660.5 315.5L1660.1 316.5L1659.8 317.5L1659.5 318.5L1659.2 319.5L1659.0 320.5L1658.7 321.5L1658.5 322.5L1658.4 323.5L1658.3 324.5L1658.2 325.5L1658.1 326.5L1658.0 327.5L1657.9 328.5L1657.9 329.5L1657.8 330.5L1657.7 331.5L1657.7 332.5L1657.6 333.5L1657.5 334.5L1657.5 335.5L1657.4 336.5L1657.3 337.5L1657.3 338.5L1657.2 339.5L1657.2 340.5L1657.1 341.5L1657.1 342.5L1657.0 343.5L1657.0 344.5L1656.9 345.5L1656.9 346.5L1656.8 347.5L1656.7 348.5L1656.7 349.5L1656.6 350.5L1656.6 351.5L1656.5 352.5L1656.4 353.5L1656.4 354.5L1656.3 355.5L1656.2 356.5L1656.2 357.5L1656.1 358.5L1656.0 359.5L1655.9 360.5L1655.8 361.5L1655.7 362.5L1655.6 363.5L1655.4 364.5L1655.2 365.5L1655.0 366.5L1654.7 367.5L1654.4 368.5L1654.0 369.5L1653.7 370.5L1653.3 371.5L1652.9 372.5L1652.5 373.5L1652.0 374.5L1651.5 375.5L1651.0 376.5L1650.6 377.5L1650.1 378.5L1649.6 379.5L1649.1 380.5L1648.7 381.5L1648.2 382.5L1647.7 383.5L1647.4 384.5L1647.0 385.5L1646.7 386.5L1646.4 387.5L1646.1 388.5L1645.9 389.5L1645.8 390.5L1645.8 391.5L1645.9 392.5L1646.0 393.5L1646.1 394.5L1646.3 395.5L1646.4 396.5L1646.6 397.5L1646.8 398.5L1647.0 399.5L1647.3 400.5L1647.6 401.5L1648.0 402.5L1648.3 403.5L1648.8 404.5L1649.2 405.5L1649.7 406.5L1650.4 407.5L1651.0 408.5L1651.7 409.5L1652.3 410.5L1652.9 411.5L1653.5 412.5L1654.1 413.5L1654.7 414.5L1655.2 415.5L1655.8 416.5L1656.3 417.5L1656.9 418.5L1657.4 419.5L1657.8 420.5L1658.3 421.5L1658.7 422.5L1659.1 423.5L1659.4 424.5L1659.7 425.5L1660.0 426.5L1660.3 427.5L1660.7 428.5L1661.0 429.5L1661.4 430.5L1661.7 431.5L1662.0 432.5L1662.2 433.5L1662.2 434.5L1662.2 435.5L1662.2 436.5L1662.2 437.5L1662.2 438.5L1662.2 439.5L1662.2 440.5L1662.2 441.5L1662.2 442.5L1662.2 443.5L1662.2 444.5L1662.2 445.5L1662.2 446.5L1662.2 447.5L1662.2 448.5L1662.2 449.5L1662.2 450.5L1662.2 451.5L1662.2 452.3L1662.4 452.3L1662.4 451.5L1662.4 450.5L1662.4 449.5L1662.4 448.5L1662.4 447.5L1662.4 446.5L1662.4 445.5L1662.4 444.5L1662.4 443.5L1662.4 442.5L1662.4 441.5L1662.4 440.5L1662.4 439.5L1662.4 438.5L1662.4 437.5L1662.4 436.5L1662.4 435.5L1662.4 434.5L1662.4 433.5L1662.6 432.5L1662.9 431.5L1663.2 430.5L1663.6 429.5L1663.9 428.5L1664.3 427.5L1664.6 426.5L1664.9 425.5L1665.2 424.5L1665.5 423.5L1665.9 422.5L1666.3 421.5L1666.8 420.5L1667.2 419.5L1667.7 418.5L1668.3 417.5L1668.8 416.5L1669.4 415.5L1669.9 414.5L1670.5 413.5L1671.1 412.5L1671.7 411.5L1672.3 410.5L1672.9 409.5L1673.6 408.5L1674.2 407.5L1674.9 406.5L1675.4 405.5L1675.8 404.5L1676.3 403.5L1676.6 402.5L1677.0 401.5L1677.3 400.5L1677.6 399.5L1677.8 398.5L1678.0 397.5L1678.2 396.5L1678.3 395.5L1678.5 394.5L1678.6 393.5L1678.7 392.5L1678.8 391.5L1678.8 390.5L1678.7 389.5L1678.5 388.5L1678.2 387.5L1677.9 386.5L1677.6 385.5L1677.2 384.5L1676.9 383.5L1676.4 382.5L1675.9 381.5L1675.5 380.5L1675.0 379.5L1674.5 378.5L1674.0 377.5L1673.6 376.5L1673.1 375.5L1672.6 374.5L1672.1 373.5L1671.7 372.5L1671.3 371.5L1670.9 370.5L1670.6 369.5L1670.2 368.5L1669.9 367.5L1669.6 366.5L1669.4 365.5L1669.2 364.5L1669.0 363.5L1668.9 362.5L1668.8 361.5L1668.7 360.5L1668.6 359.5L1668.5 358.5L1668.4 357.5L1668.4 356.5L1668.3 355.5L1668.2 354.5L1668.2 353.5L1668.1 352.5L1668.0 351.5L1668.0 350.5L1667.9 349.5L1667.9 348.5L1667.8 347.5L1667.7 346.5L1667.7 345.5L1667.6 344.5L1667.6 343.5L1667.5 342.5L1667.5 341.5L1667.4 340.5L1667.4 339.5L1667.3 338.5L1667.3 337.5L1667.2 336.5L1667.1 335.5L1667.1 334.5L1667.0 333.5L1666.9 332.5L1666.9 331.5L1666.8 330.5L1666.7 329.5L1666.7 328.5L1666.6 327.5L1666.5 326.5L1666.4 325.5L1666.3 324.5L1666.2 323.5L1666.1 322.5L1665.9 321.5L1665.6 320.5L1665.4 319.5L1665.1 318.5L1664.8 317.5L1664.5 316.5L1664.1 315.5L1663.7 314.5L1663.3 313.5L1663.0 312.5L1662.7 311.5L1662.5 310.5L1662.5 309.5L1662.4 308.5L1662.4 307.5L1662.4 306.5L1662.5 305.5L1662.6 304.5L1662.7 303.5L1662.8 302.5L1662.9 301.5L1662.9 300.5L1663.1 299.5L1663.2 298.5L1663.3 297.5L1663.5 296.5L1663.6 295.5L1663.7 294.5L1663.9 293.5L1663.9 292.5L1664.0 291.5L1664.1 290.5L1664.2 289.5L1664.3 288.5L1664.4 287.5L1664.4 286.5L1664.4 285.5L1664.4 284.5L1664.4 283.5L1664.3 282.5L1664.3 281.5L1664.2 280.5L1664.1 279.5L1664.1 278.5L1664.0 277.5L1663.8 276.5L1663.7 275.5L1663.6 274.5L1663.4 273.5L1663.3 272.5L1663.2 271.5L1663.1 270.5L1662.9 269.5L1662.8 268.5L1662.7 267.5L1662.6 266.5L1662.6 265.5L1662.5 264.5L1662.4 263.5L1662.4 262.5L1662.4 261.5L1662.4 260.5L1662.4 259.5L1662.4 258.5L1662.4 257.5L1662.4 256.5L1662.4 255.5L1662.4 254.5L1662.4 253.5L1662.4 252.5L1662.4 251.5L1662.4 250.5L1662.4 249.5L1662.4 248.5L1662.4 247.5L1662.4 246.5L1662.4 245.5Z" fill="#b2b2b4" stroke="#3462a6" stroke-width="2.4" stroke-linejoin="round"/>
<rect x="1657.0" y="280.4" width="10.5" height="10.5" fill="none" stroke="#6b80c4" stroke-width="1.6"/>
<rect x="1657.0" y="320.8" width="10.5" height="10.5" fill="none" stroke="#6b80c4" stroke-width="1.6"/>
<rect x="1652.0" y="342.2" width="10.5" height="10.5" fill="none" stroke="#6b80c4" stroke-width="1.6"/>
<rect x="1662.0" y="342.2" width="10.5" height="10.5" fill="none" stroke="#6b80c4" stroke-width="1.6"/>
<rect x="1644.0" y="373.2" width="10.5" height="10.5" fill="none" stroke="#6b80c4" stroke-width="1.6"/>
<rect x="1647.0" y="384.8" width="10.5" height="10.5" fill="none" stroke="#6b80c4" stroke-width="1.6"/>
<rect x="1660.0" y="384.8" width="10.5" height="10.5" fill="none" stroke="#6b80c4" stroke-width="1.6"/>
<rect x="1670.0" y="383.8" width="10.5" height="10.5" fill="none" stroke="#6b80c4" stroke-width="1.6"/>
<rect x="1645.0" y="390.8" width="10.5" height="10.5" fill="none" stroke="#6b80c4" stroke-width="1.6"/>
<rect x="1669.0" y="394.8" width="10.5" height="10.5" fill="none" stroke="#6b80c4" stroke-width="1.6"/>
<rect x="1644.0" y="402.8" width="10.5" height="10.5" fill="none" stroke="#6b80c4" stroke-width="1.6"/>
<rect x="1662.0" y="400.8" width="10.5" height="10.5" fill="none" stroke="#6b80c4" stroke-width="1.6"/>
<line x1="1657.3" y1="349.0" x2="1667.3" y2="349.0" stroke="#3462a6" stroke-width="1.7" stroke-dasharray="0.1 4.2" stroke-linecap="round"/>
<line x1="1651.3" y1="402.0" x2="1673.3" y2="402.0" stroke="#3462a6" stroke-width="1.7" stroke-dasharray="0.1 4.2" stroke-linecap="round"/>
<path d="M1646.3 389.3h6.0M1655.0 389.3h6.0M1663.6 389.3h6.0M1672.3 389.3h6.0" stroke="#000" stroke-width="2.4" fill="none"/>
<path d="M1872.4 287.0L1872.4 288.0L1872.4 289.0L1872.4 290.0L1872.4 291.0L1872.4 292.0L1872.4 293.0L1872.4 294.0L1872.4 295.0L1872.3 296.0L1872.0 297.0L1871.7 298.0L1871.4 299.0L1870.9 300.0L1870.3 301.0L1869.7 302.0L1869.1 303.0L1868.7 304.0L1868.2 305.0L1867.8 306.0L1867.5 307.0L1867.2 308.0L1867.2 309.0L1867.3 310.0L1867.5 311.0L1867.9 312.0L1868.4 313.0L1868.9 314.0L1869.3 315.0L1869.9 316.0L1870.5 317.0L1871.1 318.0L1871.6 319.0L1872.1 320.0L1872.4 321.0L1872.2 322.0L1872.0 323.0L1871.7 324.0L1871.4 325.0L1871.1 326.0L1870.8 327.0L1870.5 328.0L1870.2 329.0L1869.8 330.0L1869.5 331.0L1869.2 332.0L1868.9 333.0L1868.6 334.0L1868.3 335.0L1868.0 336.0L1867.8 337.0L1867.5 338.0L1867.3 339.0L1867.0 340.0L1866.8 341.0L1866.5 342.0L1866.3 343.0L1866.1 344.0L1865.9 345.0L1865.7 346.0L1865.5 347.0L1865.3 348.0L1865.1 349.0L1865.0 350.0L1864.8 351.0L1864.6 352.0L1864.4 353.0L1864.1 354.0L1863.9 355.0L1863.6 356.0L1863.2 357.0L1862.7 358.0L1862.2 359.0L1861.6 360.0L1860.9 361.0L1859.7 362.0L1858.2 363.0L1857.0 364.0L1856.6 365.0L1856.3 366.0L1856.0 367.0L1855.7 368.0L1855.5 369.0L1855.4 370.0L1855.4 371.0L1855.4 372.0L1855.7 373.0L1856.1 374.0L1856.7 375.0L1857.4 376.0L1858.1 377.0L1859.0 378.0L1860.0 379.0L1861.1 380.0L1862.2 381.0L1863.3 382.0L1864.5 383.0L1865.7 384.0L1867.0 385.0L1868.4 386.0L1869.8 387.0L1870.9 388.0L1871.9 389.0L1872.4 390.0L1872.4 391.0L1872.4 392.0L1872.4 393.0L1872.4 394.0L1872.4 395.0L1872.4 396.0L1872.4 397.0L1872.4 397.7L1872.4 397.7L1872.4 397.0L1872.4 396.0L1872.4 395.0L1872.4 394.0L1872.4 393.0L1872.4 392.0L1872.4 391.0L1872.4 390.0L1872.9 389.0L1873.9 388.0L1875.0 387.0L1876.4 386.0L1877.8 385.0L1879.1 384.0L1880.3 383.0L1881.5 382.0L1882.6 381.0L1883.7 380.0L1884.8 379.0L1885.8 378.0L1886.7 377.0L1887.5 376.0L1888.1 375.0L1888.7 374.0L1889.1 373.0L1889.4 372.0L1889.4 371.0L1889.4 370.0L1889.3 369.0L1889.1 368.0L1888.8 367.0L1888.5 366.0L1888.2 365.0L1887.8 364.0L1886.6 363.0L1885.1 362.0L1884.0 361.0L1883.2 360.0L1882.6 359.0L1882.1 358.0L1881.6 357.0L1881.2 356.0L1880.9 355.0L1880.7 354.0L1880.4 353.0L1880.2 352.0L1880.0 351.0L1879.8 350.0L1879.7 349.0L1879.5 348.0L1879.3 347.0L1879.1 346.0L1878.9 345.0L1878.7 344.0L1878.5 343.0L1878.3 342.0L1878.0 341.0L1877.8 340.0L1877.5 339.0L1877.3 338.0L1877.0 337.0L1876.8 336.0L1876.5 335.0L1876.2 334.0L1875.9 333.0L1875.6 332.0L1875.3 331.0L1875.0 330.0L1874.6 329.0L1874.3 328.0L1874.0 327.0L1873.7 326.0L1873.5 325.0L1873.1 324.0L1872.8 323.0L1872.6 322.0L1872.5 321.0L1872.7 320.0L1873.2 319.0L1873.8 318.0L1874.3 317.0L1874.9 316.0L1875.5 315.0L1876.0 314.0L1876.4 313.0L1876.9 312.0L1877.3 311.0L1877.5 310.0L1877.7 309.0L1877.6 308.0L1877.3 307.0L1877.0 306.0L1876.6 305.0L1876.2 304.0L1875.7 303.0L1875.1 302.0L1874.5 301.0L1873.9 300.0L1873.5 299.0L1873.1 298.0L1872.8 297.0L1872.5 296.0L1872.4 295.0L1872.4 294.0L1872.4 293.0L1872.4 292.0L1872.4 291.0L1872.4 290.0L1872.4 289.0L1872.4 288.0L1872.4 287.0Z" fill="#e9e9e9" stroke="#000" stroke-width="2.9" stroke-linejoin="round"/>
<circle cx="1872.4" cy="309.0" r="4.6" fill="none" stroke="#3a3a3a" stroke-width="1.0"/>
<circle cx="1871.4" cy="307.0" r="4.6" fill="none" stroke="#3a3a3a" stroke-width="1.0"/>
<circle cx="1867.4" cy="335.0" r="4.6" fill="none" stroke="#3a3a3a" stroke-width="1.0"/>
<circle cx="1874.4" cy="345.0" r="4.6" fill="none" stroke="#3a3a3a" stroke-width="1.0"/>
<circle cx="1869.4" cy="349.0" r="4.6" fill="none" stroke="#3a3a3a" stroke-width="1.0"/>
<circle cx="1877.4" cy="352.0" r="4.6" fill="none" stroke="#3a3a3a" stroke-width="1.0"/>
<circle cx="1859.4" cy="360.0" r="4.6" fill="none" stroke="#3a3a3a" stroke-width="1.0"/>
<circle cx="1876.4" cy="362.0" r="4.6" fill="none" stroke="#3a3a3a" stroke-width="1.0"/>
<circle cx="1862.4" cy="371.0" r="4.6" fill="none" stroke="#3a3a3a" stroke-width="1.0"/>
<circle cx="1868.4" cy="371.0" r="4.6" fill="none" stroke="#3a3a3a" stroke-width="1.0"/>
<circle cx="1875.4" cy="371.0" r="4.6" fill="none" stroke="#3a3a3a" stroke-width="1.0"/>
<circle cx="1882.4" cy="371.0" r="4.6" fill="none" stroke="#3a3a3a" stroke-width="1.0"/>
<circle cx="1858.4" cy="375.0" r="4.6" fill="none" stroke="#3a3a3a" stroke-width="1.0"/>
<circle cx="1887.4" cy="376.0" r="4.6" fill="none" stroke="#3a3a3a" stroke-width="1.0"/>
<circle cx="1870.4" cy="379.0" r="4.6" fill="none" stroke="#3a3a3a" stroke-width="1.0"/>
<circle cx="1878.4" cy="366.0" r="4.6" fill="none" stroke="#3a3a3a" stroke-width="1.0"/>
<line x1="1867.4" y1="344.7" x2="1877.4" y2="344.7" stroke="#000" stroke-width="1.7" stroke-dasharray="0.1 4.2" stroke-linecap="round"/>
<line x1="1858.4" y1="370.5" x2="1886.4" y2="370.5" stroke="#000" stroke-width="1.7" stroke-dasharray="0.1 4.2" stroke-linecap="round"/>
<path d="M1863.4 362.3h7.3M1874.1 362.3h7.3" stroke="#000" stroke-width="2.4" fill="none"/>
<path d="M1917.4 240.2L1917.4 241.2L1917.4 242.2L1917.4 243.2L1917.4 244.2L1917.4 245.2L1917.4 246.2L1917.4 247.2L1917.4 248.2L1917.4 249.2L1917.4 250.2L1917.3 251.2L1917.1 252.2L1916.9 253.2L1916.7 254.2L1916.4 255.2L1916.1 256.2L1915.7 257.2L1915.3 258.2L1915.0 259.2L1914.7 260.2L1914.5 261.2L1914.2 262.2L1914.0 263.2L1913.8 264.2L1913.6 265.2L1913.5 266.2L1913.4 267.2L1913.3 268.2L1913.3 269.2L1913.4 270.2L1913.5 271.2L1913.7 272.2L1913.9 273.2L1914.1 274.2L1914.3 275.2L1914.5 276.2L1914.8 277.2L1915.1 278.2L1915.5 279.2L1915.8 280.2L1916.2 281.2L1916.5 282.2L1916.8 283.2L1917.1 284.2L1917.3 285.2L1917.4 286.2L1917.3 287.2L1917.0 288.2L1916.7 289.2L1916.3 290.2L1916.0 291.2L1915.6 292.2L1915.2 293.2L1914.8 294.2L1914.5 295.2L1914.3 296.2L1914.0 297.2L1913.8 298.2L1913.6 299.2L1913.5 300.2L1913.4 301.2L1913.3 302.2L1913.3 303.2L1913.4 304.2L1913.5 305.2L1913.7 306.2L1913.9 307.2L1914.1 308.2L1914.3 309.2L1914.6 310.2L1914.8 311.2L1915.1 312.2L1915.4 313.2L1915.7 314.2L1916.0 315.2L1916.2 316.2L1916.5 317.2L1916.8 318.2L1917.0 319.2L1917.2 320.2L1917.2 321.2L1917.1 322.2L1916.8 323.2L1916.5 324.2L1916.2 325.2L1915.8 326.2L1915.5 327.2L1915.2 328.2L1914.8 329.2L1914.3 330.2L1913.8 331.2L1913.0 332.2L1911.9 333.2L1910.6 334.2L1909.5 335.2L1908.2 336.2L1906.9 337.2L1905.6 338.2L1904.6 339.2L1903.9 340.2L1903.3 341.2L1902.8 342.2L1902.3 343.2L1901.9 344.2L1901.6 345.2L1901.4 346.2L1901.1 347.2L1900.9 348.2L1900.7 349.2L1900.7 350.2L1901.0 351.2L1901.5 352.2L1902.1 353.2L1902.7 354.2L1903.3 355.2L1903.9 356.2L1904.5 357.2L1905.1 358.2L1905.5 359.2L1905.8 360.2L1905.9 361.2L1906.0 362.2L1906.1 363.2L1906.2 364.2L1906.3 365.2L1906.3 366.2L1906.4 367.2L1906.4 368.2L1906.5 369.2L1906.5 370.2L1906.5 371.2L1906.5 372.2L1906.6 373.2L1906.6 374.2L1906.6 375.2L1906.7 376.2L1906.7 377.2L1906.8 378.2L1906.9 379.2L1907.1 380.2L1907.2 381.2L1907.4 382.2L1907.5 383.2L1907.7 384.2L1907.9 385.2L1908.1 386.2L1908.3 387.2L1908.5 388.2L1908.8 389.2L1909.1 390.2L1909.5 391.2L1909.9 392.2L1910.4 393.2L1910.9 394.2L1911.4 395.2L1911.9 396.2L1912.5 397.2L1913.0 398.2L1913.6 399.2L1914.1 400.2L1914.6 401.2L1915.1 402.2L1915.6 403.2L1916.0 404.2L1916.4 405.2L1916.9 406.2L1917.2 407.2L1917.4 408.2L1917.4 409.2L1917.4 410.2L1917.4 411.2L1917.4 412.2L1917.4 413.2L1917.4 414.2L1917.4 415.2L1917.4 416.2L1917.4 417.2L1917.4 418.2L1917.4 419.2L1917.4 420.2L1917.4 421.2L1917.4 422.2L1917.4 422.5L1917.6 422.5L1917.6 422.2L1917.6 421.2L1917.6 420.2L1917.6 419.2L1917.6 418.2L1917.6 417.2L1917.6 416.2L1917.6 415.2L1917.6 414.2L1917.6 413.2L1917.6 412.2L1917.6 411.2L1917.6 410.2L1917.6 409.2L1917.6 408.2L1917.8 407.2L1918.1 406.2L1918.6 405.2L1919.0 404.2L1919.4 403.2L1919.9 402.2L1920.4 401.2L1920.9 400.2L1921.4 399.2L1922.0 398.2L1922.5 397.2L1923.1 396.2L1923.6 395.2L1924.1 394.2L1924.6 393.2L1925.1 392.2L1925.5 391.2L1925.9 390.2L1926.2 389.2L1926.5 388.2L1926.7 387.2L1926.9 386.2L1927.1 385.2L1927.3 384.2L1927.5 383.2L1927.6 382.2L1927.8 381.2L1927.9 380.2L1928.1 379.2L1928.2 378.2L1928.3 377.2L1928.3 376.2L1928.4 375.2L1928.4 374.2L1928.4 373.2L1928.5 372.2L1928.5 371.2L1928.5 370.2L1928.5 369.2L1928.6 368.2L1928.6 367.2L1928.7 366.2L1928.7 365.2L1928.8 364.2L1928.9 363.2L1929.0 362.2L1929.1 361.2L1929.2 360.2L1929.5 359.2L1929.9 358.2L1930.5 357.2L1931.1 356.2L1931.7 355.2L1932.3 354.2L1932.9 353.2L1933.5 352.2L1934.0 351.2L1934.3 350.2L1934.3 349.2L1934.1 348.2L1933.9 347.2L1933.6 346.2L1933.4 345.2L1933.1 344.2L1932.7 343.2L1932.2 342.2L1931.7 341.2L1931.1 340.2L1930.4 339.2L1929.4 338.2L1928.1 337.2L1926.8 336.2L1925.5 335.2L1924.4 334.2L1923.1 333.2L1922.0 332.2L1921.2 331.2L1920.7 330.2L1920.2 329.2L1919.8 328.2L1919.5 327.2L1919.2 326.2L1918.8 325.2L1918.5 324.2L1918.2 323.2L1917.9 322.2L1917.8 321.2L1917.8 320.2L1918.0 319.2L1918.2 318.2L1918.5 317.2L1918.8 316.2L1919.0 315.2L1919.3 314.2L1919.6 313.2L1919.9 312.2L1920.2 311.2L1920.4 310.2L1920.7 309.2L1920.9 308.2L1921.1 307.2L1921.3 306.2L1921.5 305.2L1921.6 304.2L1921.7 303.2L1921.7 302.2L1921.6 301.2L1921.5 300.2L1921.4 299.2L1921.2 298.2L1921.0 297.2L1920.7 296.2L1920.5 295.2L1920.2 294.2L1919.8 293.2L1919.4 292.2L1919.0 291.2L1918.7 290.2L1918.3 289.2L1918.0 288.2L1917.7 287.2L1917.6 286.2L1917.7 285.2L1917.9 284.2L1918.2 283.2L1918.5 282.2L1918.8 281.2L1919.2 280.2L1919.5 279.2L1919.9 278.2L1920.2 277.2L1920.5 276.2L1920.7 275.2L1920.9 274.2L1921.1 273.2L1921.3 272.2L1921.5 271.2L1921.6 270.2L1921.7 269.2L1921.7 268.2L1921.6 267.2L1921.5 266.2L1921.4 265.2L1921.2 264.2L1921.0 263.2L1920.8 262.2L1920.5 261.2L1920.3 260.2L1920.0 259.2L1919.7 258.2L1919.3 257.2L1918.9 256.2L1918.6 255.2L1918.3 254.2L1918.1 253.2L1917.9 252.2L1917.7 251.2L1917.6 250.2L1917.6 249.2L1917.6 248.2L1917.6 247.2L1917.6 246.2L1917.6 245.2L1917.6 244.2L1917.6 243.2L1917.6 242.2L1917.6 241.2L1917.6 240.2Z" fill="#b2b2b4" stroke="#3462a6" stroke-width="2.4" stroke-linejoin="round"/>
<rect x="1913.0" y="264.0" width="9" height="9" fill="none" stroke="#6b80c4" stroke-width="1.4"/>
<rect x="1913.0" y="298.0" width="9" height="9" fill="none" stroke="#6b80c4" stroke-width="1.4"/>
<rect x="1902.0" y="339.5" width="9" height="9" fill="none" stroke="#6b80c4" stroke-width="1.4"/>
<rect x="1909.0" y="339.5" width="9" height="9" fill="none" stroke="#6b80c4" stroke-width="1.4"/>
<rect x="1917.0" y="339.5" width="9" height="9" fill="none" stroke="#6b80c4" stroke-width="1.4"/>
<rect x="1924.0" y="340.5" width="9" height="9" fill="none" stroke="#6b80c4" stroke-width="1.4"/>
<rect x="1927.0" y="346.5" width="9" height="9" fill="none" stroke="#6b80c4" stroke-width="1.4"/>
<rect x="1907.0" y="357.5" width="9" height="9" fill="none" stroke="#6b80c4" stroke-width="1.4"/>
<rect x="1919.0" y="357.5" width="9" height="9" fill="none" stroke="#6b80c4" stroke-width="1.4"/>
<rect x="1906.0" y="365.5" width="9" height="9" fill="none" stroke="#6b80c4" stroke-width="1.4"/>
<rect x="1918.0" y="367.5" width="9" height="9" fill="none" stroke="#6b80c4" stroke-width="1.4"/>
<rect x="1908.0" y="375.5" width="9" height="9" fill="none" stroke="#6b80c4" stroke-width="1.4"/>
<rect x="1920.0" y="376.5" width="9" height="9" fill="none" stroke="#6b80c4" stroke-width="1.4"/>
<rect x="1913.0" y="381.5" width="9" height="9" fill="none" stroke="#6b80c4" stroke-width="1.4"/>
<rect x="1902.0" y="390.5" width="9" height="9" fill="none" stroke="#6b80c4" stroke-width="1.4"/>
<line x1="1908.5" y1="380.5" x2="1926.5" y2="380.5" stroke="#3462a6" stroke-width="1.7" stroke-dasharray="0.1 4.2" stroke-linecap="round"/>
<path d="M1902.0 353.2h7.9M1913.5 353.2h7.9M1925.1 353.2h7.9" stroke="#000" stroke-width="2.4" fill="none"/>
<text x="1427.00" y="695.00" font-size="35.50" font-weight="bold" stroke="#000" stroke-width="0.3" stroke-linejoin="round">d</text>
<text x="1436.00" y="734.20" font-size="17.40" textLength="109.0" lengthAdjust="spacing" stroke="#000" stroke-width="0.3" stroke-linejoin="round">F Social target</text>
<line x1="1587.60" y1="769.50" x2="1587.60" y2="1051.90" stroke="#000" stroke-width="2.6"/>
<line x1="1580.80" y1="770.80" x2="1587.60" y2="770.80" stroke="#000" stroke-width="2.6"/>
<text x="1577.40" y="778.10" font-size="18.50" text-anchor="end" textLength="30.9" lengthAdjust="spacing" stroke="#000" stroke-width="0.3" stroke-linejoin="round">400</text>
<line x1="1580.80" y1="826.80" x2="1587.60" y2="826.80" stroke="#000" stroke-width="2.6"/>
<text x="1577.40" y="834.10" font-size="18.50" text-anchor="end" textLength="30.9" lengthAdjust="spacing" stroke="#000" stroke-width="0.3" stroke-linejoin="round">300</text>
<line x1="1580.80" y1="882.60" x2="1587.60" y2="882.60" stroke="#000" stroke-width="2.6"/>
<text x="1577.40" y="889.90" font-size="18.50" text-anchor="end" textLength="30.9" lengthAdjust="spacing" stroke="#000" stroke-width="0.3" stroke-linejoin="round">200</text>
<line x1="1580.80" y1="938.70" x2="1587.60" y2="938.70" stroke="#000" stroke-width="2.6"/>
<text x="1577.40" y="946.00" font-size="18.50" text-anchor="end" textLength="30.9" lengthAdjust="spacing" stroke="#000" stroke-width="0.3" stroke-linejoin="round">100</text>
<line x1="1580.80" y1="994.70" x2="1587.60" y2="994.70" stroke="#000" stroke-width="2.6"/>
<text x="1577.40" y="1002.00" font-size="18.50" text-anchor="end" stroke="#000" stroke-width="0.3" stroke-linejoin="round">0</text>
<line x1="1580.80" y1="1050.60" x2="1587.60" y2="1050.60" stroke="#000" stroke-width="2.6"/>
<text x="1577.40" y="1057.90" font-size="18.50" text-anchor="end" textLength="37.0" lengthAdjust="spacing" stroke="#000" stroke-width="0.3" stroke-linejoin="round">-100</text>
<line x1="1581.10" y1="1050.60" x2="1707.00" y2="1050.60" stroke="#000" stroke-width="2.6"/>
<line x1="1622.00" y1="1050.60" x2="1622.00" y2="1057.80" stroke="#000" stroke-width="2.6"/>
<line x1="1666.20" y1="1050.60" x2="1666.20" y2="1057.80" stroke="#000" stroke-width="2.6"/>
<text transform="translate(1522.80 906.00) rotate(-90)" font-size="22.66" text-anchor="middle" textLength="264.0" lengthAdjust="spacing" stroke="#000" stroke-width="0.3" stroke-linejoin="round">M-F Investigation Duration (s)</text>
<line x1="1598.20" y1="994.80" x2="1707.00" y2="994.80" stroke="#000" stroke-width="6.0" stroke-linecap="round" stroke-dasharray="0 10.55"/>
<text transform="translate(1635.40 1075.00) rotate(-45)" font-size="18.65" text-anchor="end" textLength="84.6" lengthAdjust="spacing" stroke="#000" stroke-width="0.3" stroke-linejoin="round">WT SIS M</text>
<text transform="translate(1678.50 1076.70) rotate(-45)" font-size="18.65" text-anchor="end" textLength="102.3" lengthAdjust="spacing" stroke="#000" stroke-width="0.3" stroke-linejoin="round">cHET SIS M</text>
<path d="M1623.80 790.00V758.80H1669.00V807.50" fill="none" stroke="#000" stroke-width="2.6" stroke-linecap="round" stroke-linejoin="miter"/>
<text x="1646.50" y="749.50" font-size="21.00" text-anchor="middle" textLength="22.2" lengthAdjust="spacing" stroke="#000" stroke-width="0.3" stroke-linejoin="round">ns</text>
<line x1="1837.50" y1="767.70" x2="1837.50" y2="1051.80" stroke="#000" stroke-width="2.6"/>
<line x1="1830.70" y1="769.00" x2="1837.50" y2="769.00" stroke="#000" stroke-width="2.6"/>
<text x="1827.30" y="776.30" font-size="18.50" text-anchor="end" textLength="30.9" lengthAdjust="spacing" stroke="#000" stroke-width="0.3" stroke-linejoin="round">250</text>
<line x1="1830.70" y1="815.80" x2="1837.50" y2="815.80" stroke="#000" stroke-width="2.6"/>
<text x="1827.30" y="823.10" font-size="18.50" text-anchor="end" textLength="30.9" lengthAdjust="spacing" stroke="#000" stroke-width="0.3" stroke-linejoin="round">200</text>
<line x1="1830.70" y1="862.70" x2="1837.50" y2="862.70" stroke="#000" stroke-width="2.6"/>
<text x="1827.30" y="870.00" font-size="18.50" text-anchor="end" textLength="30.9" lengthAdjust="spacing" stroke="#000" stroke-width="0.3" stroke-linejoin="round">150</text>
<line x1="1830.70" y1="909.60" x2="1837.50" y2="909.60" stroke="#000" stroke-width="2.6"/>
<text x="1827.30" y="916.90" font-size="18.50" text-anchor="end" textLength="30.9" lengthAdjust="spacing" stroke="#000" stroke-width="0.3" stroke-linejoin="round">100</text>
<line x1="1830.70" y1="956.50" x2="1837.50" y2="956.50" stroke="#000" stroke-width="2.6"/>
<text x="1827.30" y="963.80" font-size="18.50" text-anchor="end" textLength="20.6" lengthAdjust="spacing" stroke="#000" stroke-width="0.3" stroke-linejoin="round">50</text>
<line x1="1830.70" y1="1003.50" x2="1837.50" y2="1003.50" stroke="#000" stroke-width="2.6"/>
<text x="1827.30" y="1010.80" font-size="18.50" text-anchor="end" stroke="#000" stroke-width="0.3" stroke-linejoin="round">0</text>
<line x1="1830.70" y1="1050.50" x2="1837.50" y2="1050.50" stroke="#000" stroke-width="2.6"/>
<text x="1827.30" y="1057.80" font-size="18.50" text-anchor="end" textLength="26.7" lengthAdjust="spacing" stroke="#000" stroke-width="0.3" stroke-linejoin="round">-50</text>
<line x1="1831.00" y1="1050.50" x2="1958.00" y2="1050.50" stroke="#000" stroke-width="2.6"/>
<line x1="1874.50" y1="1050.50" x2="1874.50" y2="1057.70" stroke="#000" stroke-width="2.6"/>
<line x1="1918.20" y1="1050.50" x2="1918.20" y2="1057.70" stroke="#000" stroke-width="2.6"/>
<text transform="translate(1780.80 911.00) rotate(-90)" font-size="22.66" text-anchor="middle" textLength="240.0" lengthAdjust="spacing" stroke="#000" stroke-width="0.3" stroke-linejoin="round">M-F Mounting Duration (s)</text>
<line x1="1848.10" y1="1003.60" x2="1958.00" y2="1003.60" stroke="#000" stroke-width="6.0" stroke-linecap="round" stroke-dasharray="0 10.55"/>
<text transform="translate(1886.00 1074.00) rotate(-45)" font-size="18.65" text-anchor="end" textLength="84.6" lengthAdjust="spacing" stroke="#000" stroke-width="0.3" stroke-linejoin="round">WT SIS M</text>
<text transform="translate(1930.70 1074.00) rotate(-45)" font-size="18.65" text-anchor="end" textLength="102.3" lengthAdjust="spacing" stroke="#000" stroke-width="0.3" stroke-linejoin="round">cHET SIS M</text>
<path d="M1874.50 800.00V769.00H1920.00V858.50" fill="none" stroke="#000" stroke-width="2.6" stroke-linecap="round" stroke-linejoin="miter"/>
<text x="1897.50" y="760.50" font-size="21.00" text-anchor="middle" textLength="22.2" lengthAdjust="spacing" stroke="#000" stroke-width="0.3" stroke-linejoin="round">ns</text>
<path d="M1624.0 820.2L1624.0 821.2L1624.0 822.2L1624.0 823.2L1624.0 824.2L1624.0 825.2L1624.0 826.2L1624.0 827.2L1624.0 828.2L1624.0 829.2L1624.0 830.2L1624.0 831.2L1624.0 832.2L1624.0 833.2L1624.0 834.2L1624.0 835.2L1623.9 836.2L1623.8 837.2L1623.7 838.2L1623.6 839.2L1623.4 840.2L1623.3 841.2L1623.1 842.2L1622.9 843.2L1622.7 844.2L1622.4 845.2L1622.2 846.2L1622.0 847.2L1621.7 848.2L1621.5 849.2L1621.3 850.2L1621.1 851.2L1620.9 852.2L1620.7 853.2L1620.4 854.2L1620.2 855.2L1620.0 856.2L1619.8 857.2L1619.6 858.2L1619.4 859.2L1619.2 860.2L1619.0 861.2L1618.7 862.2L1618.5 863.2L1618.3 864.2L1618.2 865.2L1618.0 866.2L1617.9 867.2L1617.8 868.2L1617.7 869.2L1617.6 870.2L1617.5 871.2L1617.4 872.2L1617.3 873.2L1617.2 874.2L1617.1 875.2L1617.1 876.2L1617.0 877.2L1616.9 878.2L1616.8 879.2L1616.7 880.2L1616.7 881.2L1616.6 882.2L1616.5 883.2L1616.4 884.2L1616.4 885.2L1616.3 886.2L1616.2 887.2L1616.1 888.2L1616.1 889.2L1616.0 890.2L1615.9 891.2L1615.8 892.2L1615.7 893.2L1615.6 894.2L1615.5 895.2L1615.3 896.2L1615.2 897.2L1615.1 898.2L1614.9 899.2L1614.8 900.2L1614.6 901.2L1614.5 902.2L1614.3 903.2L1614.2 904.2L1614.0 905.2L1613.9 906.2L1613.7 907.2L1613.6 908.2L1613.5 909.2L1613.3 910.2L1613.2 911.2L1613.0 912.2L1612.9 913.2L1612.8 914.2L1612.6 915.2L1612.5 916.2L1612.4 917.2L1612.2 918.2L1612.1 919.2L1612.0 920.2L1611.9 921.2L1611.8 922.2L1611.7 923.2L1611.6 924.2L1611.5 925.2L1611.4 926.2L1611.3 927.2L1611.2 928.2L1611.1 929.2L1611.0 930.2L1610.8 931.2L1610.7 932.2L1610.6 933.2L1610.4 934.2L1610.2 935.2L1610.0 936.2L1609.7 937.2L1609.5 938.2L1609.2 939.2L1608.9 940.2L1608.6 941.2L1608.4 942.2L1608.1 943.2L1607.8 944.2L1607.5 945.2L1607.3 946.2L1607.1 947.2L1607.0 948.2L1607.0 949.2L1607.2 950.2L1607.5 951.2L1607.8 952.2L1608.3 953.2L1608.7 954.2L1609.1 955.2L1609.5 956.2L1609.9 957.2L1610.3 958.2L1610.7 959.2L1611.1 960.2L1611.5 961.2L1611.9 962.2L1612.4 963.2L1612.7 964.2L1613.1 965.2L1613.5 966.2L1613.9 967.2L1614.2 968.2L1614.6 969.2L1614.9 970.2L1615.3 971.2L1615.6 972.2L1615.9 973.2L1616.2 974.2L1616.5 975.2L1616.8 976.2L1617.1 977.2L1617.3 978.2L1617.6 979.2L1617.9 980.2L1618.2 981.2L1618.5 982.2L1618.8 983.2L1619.2 984.2L1619.5 985.2L1619.9 986.2L1620.2 987.2L1620.6 988.2L1620.9 989.2L1621.2 990.2L1621.6 991.2L1621.9 992.2L1622.2 993.2L1622.5 994.2L1622.8 995.2L1623.0 996.2L1623.4 997.2L1623.7 998.2L1623.9 999.2L1624.0 1000.2L1624.0 1001.2L1624.0 1002.2L1624.0 1003.2L1624.0 1004.2L1624.0 1005.2L1624.0 1006.2L1624.0 1007.2L1624.0 1008.2L1624.0 1009.2L1624.0 1010.2L1624.0 1011.2L1624.0 1012.2L1624.0 1013.2L1624.0 1014.2L1624.0 1015.2L1624.0 1016.2L1624.0 1017.2L1624.0 1018.2L1624.0 1019.2L1624.0 1020.2L1624.0 1021.2L1624.0 1022.2L1624.0 1023.2L1624.0 1023.7L1624.0 1023.7L1624.0 1023.2L1624.0 1022.2L1624.0 1021.2L1624.0 1020.2L1624.0 1019.2L1624.0 1018.2L1624.0 1017.2L1624.0 1016.2L1624.0 1015.2L1624.0 1014.2L1624.0 1013.2L1624.0 1012.2L1624.0 1011.2L1624.0 1010.2L1624.0 1009.2L1624.0 1008.2L1624.0 1007.2L1624.0 1006.2L1624.0 1005.2L1624.0 1004.2L1624.0 1003.2L1624.0 1002.2L1624.0 1001.2L1624.0 1000.2L1624.1 999.2L1624.3 998.2L1624.6 997.2L1625.0 996.2L1625.2 995.2L1625.5 994.2L1625.8 993.2L1626.1 992.2L1626.4 991.2L1626.8 990.2L1627.1 989.2L1627.4 988.2L1627.8 987.2L1628.1 986.2L1628.5 985.2L1628.8 984.2L1629.2 983.2L1629.5 982.2L1629.8 981.2L1630.1 980.2L1630.4 979.2L1630.7 978.2L1630.9 977.2L1631.2 976.2L1631.5 975.2L1631.8 974.2L1632.1 973.2L1632.4 972.2L1632.7 971.2L1633.1 970.2L1633.4 969.2L1633.8 968.2L1634.1 967.2L1634.5 966.2L1634.9 965.2L1635.3 964.2L1635.6 963.2L1636.1 962.2L1636.5 961.2L1636.9 960.2L1637.3 959.2L1637.7 958.2L1638.1 957.2L1638.5 956.2L1638.9 955.2L1639.3 954.2L1639.7 953.2L1640.2 952.2L1640.5 951.2L1640.8 950.2L1641.0 949.2L1641.0 948.2L1640.9 947.2L1640.7 946.2L1640.5 945.2L1640.2 944.2L1639.9 943.2L1639.6 942.2L1639.4 941.2L1639.1 940.2L1638.8 939.2L1638.5 938.2L1638.3 937.2L1638.0 936.2L1637.8 935.2L1637.6 934.2L1637.4 933.2L1637.3 932.2L1637.2 931.2L1637.0 930.2L1636.9 929.2L1636.8 928.2L1636.7 927.2L1636.6 926.2L1636.5 925.2L1636.4 924.2L1636.3 923.2L1636.2 922.2L1636.1 921.2L1636.0 920.2L1635.9 919.2L1635.8 918.2L1635.6 917.2L1635.5 916.2L1635.4 915.2L1635.2 914.2L1635.1 913.2L1635.0 912.2L1634.8 911.2L1634.7 910.2L1634.5 909.2L1634.4 908.2L1634.3 907.2L1634.1 906.2L1634.0 905.2L1633.8 904.2L1633.7 903.2L1633.5 902.2L1633.4 901.2L1633.2 900.2L1633.1 899.2L1632.9 898.2L1632.8 897.2L1632.7 896.2L1632.5 895.2L1632.4 894.2L1632.3 893.2L1632.2 892.2L1632.1 891.2L1632.0 890.2L1631.9 889.2L1631.9 888.2L1631.8 887.2L1631.7 886.2L1631.6 885.2L1631.6 884.2L1631.5 883.2L1631.4 882.2L1631.3 881.2L1631.3 880.2L1631.2 879.2L1631.1 878.2L1631.0 877.2L1630.9 876.2L1630.9 875.2L1630.8 874.2L1630.7 873.2L1630.6 872.2L1630.5 871.2L1630.4 870.2L1630.3 869.2L1630.2 868.2L1630.1 867.2L1630.0 866.2L1629.8 865.2L1629.7 864.2L1629.5 863.2L1629.3 862.2L1629.0 861.2L1628.8 860.2L1628.6 859.2L1628.4 858.2L1628.2 857.2L1628.0 856.2L1627.8 855.2L1627.6 854.2L1627.3 853.2L1627.1 852.2L1626.9 851.2L1626.7 850.2L1626.5 849.2L1626.3 848.2L1626.0 847.2L1625.8 846.2L1625.6 845.2L1625.3 844.2L1625.1 843.2L1624.9 842.2L1624.7 841.2L1624.6 840.2L1624.4 839.2L1624.3 838.2L1624.2 837.2L1624.1 836.2L1624.0 835.2L1624.0 834.2L1624.0 833.2L1624.0 832.2L1624.0 831.2L1624.0 830.2L1624.0 829.2L1624.0 828.2L1624.0 827.2L1624.0 826.2L1624.0 825.2L1624.0 824.2L1624.0 823.2L1624.0 822.2L1624.0 821.2L1624.0 820.2Z" fill="#e9e9e9" stroke="#000" stroke-width="2.9" stroke-linejoin="round"/>
<circle cx="1624.0" cy="865.6" r="5" fill="none" stroke="#4a4a4a" stroke-width="1.1"/>
<circle cx="1624.0" cy="892.4" r="5" fill="none" stroke="#4a4a4a" stroke-width="1.1"/>
<circle cx="1616.8" cy="920.6" r="5" fill="none" stroke="#4a4a4a" stroke-width="1.1"/>
<circle cx="1629.8" cy="918.0" r="5" fill="none" stroke="#4a4a4a" stroke-width="1.1"/>
<circle cx="1611.2" cy="948.0" r="5" fill="none" stroke="#4a4a4a" stroke-width="1.1"/>
<circle cx="1636.4" cy="948.0" r="5" fill="none" stroke="#4a4a4a" stroke-width="1.1"/>
<circle cx="1623.4" cy="955.7" r="5" fill="none" stroke="#4a4a4a" stroke-width="1.1"/>
<circle cx="1624.0" cy="978.4" r="5" fill="none" stroke="#4a4a4a" stroke-width="1.1"/>
<line x1="1621.0" y1="899.0" x2="1627.0" y2="899.0" stroke="#000" stroke-width="1.7" stroke-dasharray="0.1 4.2" stroke-linecap="round"/>
<line x1="1609.0" y1="953.6" x2="1639.0" y2="953.6" stroke="#000" stroke-width="1.7" stroke-dasharray="0.1 4.2" stroke-linecap="round"/>
<path d="M1613.0 934.6h9.0M1626.0 934.6h9.0" stroke="#000" stroke-width="2.4" fill="none"/>
<path d="M1668.7 838.0L1668.7 839.0L1668.7 840.0L1668.7 841.0L1668.7 842.0L1668.7 843.0L1668.7 844.0L1668.7 845.0L1668.7 846.0L1668.7 847.0L1668.7 848.0L1668.7 849.0L1668.7 850.0L1668.7 851.0L1668.5 852.0L1668.4 853.0L1668.2 854.0L1668.0 855.0L1667.8 856.0L1667.6 857.0L1667.3 858.0L1667.0 859.0L1666.7 860.0L1666.4 861.0L1666.2 862.0L1666.0 863.0L1665.8 864.0L1665.6 865.0L1665.5 866.0L1665.3 867.0L1665.1 868.0L1665.0 869.0L1664.9 870.0L1664.8 871.0L1664.8 872.0L1664.8 873.0L1664.9 874.0L1665.0 875.0L1665.2 876.0L1665.4 877.0L1665.6 878.0L1665.8 879.0L1666.0 880.0L1666.2 881.0L1666.5 882.0L1666.8 883.0L1667.1 884.0L1667.4 885.0L1667.6 886.0L1667.8 887.0L1668.1 888.0L1668.3 889.0L1668.5 890.0L1668.5 891.0L1668.3 892.0L1668.0 893.0L1667.6 894.0L1667.2 895.0L1666.7 896.0L1666.2 897.0L1665.6 898.0L1665.0 899.0L1664.4 900.0L1663.7 901.0L1663.0 902.0L1662.3 903.0L1661.6 904.0L1660.8 905.0L1660.0 906.0L1659.2 907.0L1658.5 908.0L1657.8 909.0L1657.1 910.0L1656.4 911.0L1655.7 912.0L1655.2 913.0L1654.7 914.0L1654.3 915.0L1653.9 916.0L1653.6 917.0L1653.3 918.0L1653.1 919.0L1652.9 920.0L1652.7 921.0L1652.6 922.0L1652.5 923.0L1652.5 924.0L1652.7 925.0L1653.0 926.0L1653.5 927.0L1654.0 928.0L1654.5 929.0L1655.1 930.0L1655.8 931.0L1656.6 932.0L1657.4 933.0L1658.1 934.0L1658.8 935.0L1659.6 936.0L1660.3 937.0L1661.0 938.0L1661.6 939.0L1662.2 940.0L1662.8 941.0L1663.4 942.0L1663.9 943.0L1664.2 944.0L1664.4 945.0L1664.5 946.0L1664.7 947.0L1664.8 948.0L1664.9 949.0L1664.9 950.0L1665.0 951.0L1665.0 952.0L1665.0 953.0L1665.0 954.0L1665.0 955.0L1665.0 956.0L1665.0 957.0L1665.0 958.0L1665.0 959.0L1665.0 960.0L1665.0 961.0L1665.0 962.0L1665.0 963.0L1665.0 964.0L1665.0 965.0L1665.0 966.0L1665.0 967.0L1665.0 968.0L1665.0 969.0L1665.0 970.0L1665.0 971.0L1665.0 972.0L1665.0 973.0L1665.0 974.0L1665.0 975.0L1665.0 976.0L1665.0 977.0L1665.0 978.0L1665.0 979.0L1665.0 980.0L1665.0 981.0L1665.0 982.0L1665.0 983.0L1665.0 984.0L1665.0 985.0L1665.0 986.0L1665.1 987.0L1665.3 988.0L1665.6 989.0L1665.8 990.0L1666.1 991.0L1666.4 992.0L1666.7 993.0L1666.9 994.0L1667.2 995.0L1667.5 996.0L1667.8 997.0L1668.0 998.0L1668.3 999.0L1668.5 1000.0L1668.7 1001.0L1668.7 1002.0L1668.7 1003.0L1668.7 1004.0L1668.7 1005.0L1668.7 1006.0L1668.7 1007.0L1668.7 1008.0L1668.7 1009.0L1668.7 1010.0L1668.7 1011.0L1668.7 1012.0L1668.7 1013.0L1668.7 1014.0L1668.7 1015.0L1668.7 1016.0L1668.7 1017.0L1668.7 1018.0L1668.7 1019.0L1668.7 1020.0L1668.7 1020.2L1668.9 1020.2L1668.9 1020.0L1668.9 1019.0L1668.9 1018.0L1668.9 1017.0L1668.9 1016.0L1668.9 1015.0L1668.9 1014.0L1668.9 1013.0L1668.9 1012.0L1668.9 1011.0L1668.9 1010.0L1668.9 1009.0L1668.9 1008.0L1668.9 1007.0L1668.9 1006.0L1668.9 1005.0L1668.9 1004.0L1668.9 1003.0L1668.9 1002.0L1668.9 1001.0L1669.1 1000.0L1669.3 999.0L1669.6 998.0L1669.8 997.0L1670.1 996.0L1670.4 995.0L1670.7 994.0L1670.9 993.0L1671.2 992.0L1671.5 991.0L1671.8 990.0L1672.0 989.0L1672.3 988.0L1672.5 987.0L1672.6 986.0L1672.6 985.0L1672.6 984.0L1672.6 983.0L1672.6 982.0L1672.6 981.0L1672.6 980.0L1672.6 979.0L1672.6 978.0L1672.6 977.0L1672.6 976.0L1672.6 975.0L1672.6 974.0L1672.6 973.0L1672.6 972.0L1672.6 971.0L1672.6 970.0L1672.6 969.0L1672.6 968.0L1672.6 967.0L1672.6 966.0L1672.6 965.0L1672.6 964.0L1672.6 963.0L1672.6 962.0L1672.6 961.0L1672.6 960.0L1672.6 959.0L1672.6 958.0L1672.6 957.0L1672.6 956.0L1672.6 955.0L1672.6 954.0L1672.6 953.0L1672.6 952.0L1672.6 951.0L1672.7 950.0L1672.7 949.0L1672.8 948.0L1672.9 947.0L1673.1 946.0L1673.2 945.0L1673.4 944.0L1673.7 943.0L1674.2 942.0L1674.8 941.0L1675.4 940.0L1676.0 939.0L1676.6 938.0L1677.3 937.0L1678.0 936.0L1678.8 935.0L1679.5 934.0L1680.2 933.0L1681.0 932.0L1681.8 931.0L1682.5 930.0L1683.1 929.0L1683.6 928.0L1684.1 927.0L1684.6 926.0L1684.9 925.0L1685.1 924.0L1685.1 923.0L1685.0 922.0L1684.9 921.0L1684.7 920.0L1684.5 919.0L1684.3 918.0L1684.0 917.0L1683.7 916.0L1683.3 915.0L1682.9 914.0L1682.4 913.0L1681.9 912.0L1681.2 911.0L1680.5 910.0L1679.8 909.0L1679.1 908.0L1678.4 907.0L1677.6 906.0L1676.8 905.0L1676.0 904.0L1675.3 903.0L1674.6 902.0L1673.9 901.0L1673.2 900.0L1672.6 899.0L1672.0 898.0L1671.4 897.0L1670.9 896.0L1670.4 895.0L1670.0 894.0L1669.6 893.0L1669.3 892.0L1669.1 891.0L1669.1 890.0L1669.3 889.0L1669.5 888.0L1669.8 887.0L1670.0 886.0L1670.2 885.0L1670.5 884.0L1670.8 883.0L1671.1 882.0L1671.4 881.0L1671.6 880.0L1671.8 879.0L1672.0 878.0L1672.2 877.0L1672.4 876.0L1672.6 875.0L1672.7 874.0L1672.8 873.0L1672.8 872.0L1672.8 871.0L1672.7 870.0L1672.6 869.0L1672.5 868.0L1672.3 867.0L1672.1 866.0L1672.0 865.0L1671.8 864.0L1671.6 863.0L1671.4 862.0L1671.2 861.0L1670.9 860.0L1670.6 859.0L1670.3 858.0L1670.0 857.0L1669.8 856.0L1669.6 855.0L1669.4 854.0L1669.2 853.0L1669.1 852.0L1668.9 851.0L1668.9 850.0L1668.9 849.0L1668.9 848.0L1668.9 847.0L1668.9 846.0L1668.9 845.0L1668.9 844.0L1668.9 843.0L1668.9 842.0L1668.9 841.0L1668.9 840.0L1668.9 839.0L1668.9 838.0Z" fill="#b2b2b4" stroke="#3462a6" stroke-width="2.4" stroke-linejoin="round"/>
<rect x="1663.5" y="866.8" width="10.5" height="10.5" fill="none" stroke="#7d90cf" stroke-width="1.2"/>
<rect x="1651.5" y="909.2" width="10.5" height="10.5" fill="none" stroke="#7d90cf" stroke-width="1.2"/>
<rect x="1675.5" y="909.2" width="10.5" height="10.5" fill="none" stroke="#7d90cf" stroke-width="1.2"/>
<rect x="1663.5" y="914.8" width="10.5" height="10.5" fill="none" stroke="#7d90cf" stroke-width="1.2"/>
<rect x="1651.5" y="923.8" width="10.5" height="10.5" fill="none" stroke="#7d90cf" stroke-width="1.2"/>
<rect x="1675.5" y="923.8" width="10.5" height="10.5" fill="none" stroke="#7d90cf" stroke-width="1.2"/>
<rect x="1663.5" y="955.8" width="10.5" height="10.5" fill="none" stroke="#7d90cf" stroke-width="1.2"/>
<rect x="1663.5" y="965.8" width="10.5" height="10.5" fill="none" stroke="#7d90cf" stroke-width="1.2"/>
<rect x="1663.5" y="979.8" width="10.5" height="10.5" fill="none" stroke="#7d90cf" stroke-width="1.2"/>
<line x1="1654.8" y1="914.0" x2="1682.8" y2="914.0" stroke="#3462a6" stroke-width="1.7" stroke-dasharray="0.1 4.2" stroke-linecap="round"/>
<line x1="1665.8" y1="953.0" x2="1671.8" y2="953.0" stroke="#3462a6" stroke-width="1.7" stroke-dasharray="0.1 4.2" stroke-linecap="round"/>
<path d="M1652.8 924.8h8.2M1664.7 924.8h8.2M1676.6 924.8h8.2" stroke="#000" stroke-width="2.6" fill="none"/>
<path d="M1874.6 817.5L1874.6 818.5L1874.6 819.5L1874.6 820.5L1874.6 821.5L1874.6 822.5L1874.6 823.5L1874.6 824.5L1874.6 825.5L1874.6 826.5L1874.6 827.5L1874.6 828.5L1874.5 829.5L1874.4 830.5L1874.3 831.5L1874.1 832.5L1874.0 833.5L1873.8 834.5L1873.6 835.5L1873.4 836.5L1873.1 837.5L1872.9 838.5L1872.6 839.5L1872.4 840.5L1872.1 841.5L1871.9 842.5L1871.8 843.5L1871.6 844.5L1871.4 845.5L1871.2 846.5L1871.0 847.5L1870.9 848.5L1870.7 849.5L1870.6 850.5L1870.5 851.5L1870.4 852.5L1870.4 853.5L1870.4 854.5L1870.4 855.5L1870.5 856.5L1870.6 857.5L1870.8 858.5L1871.0 859.5L1871.1 860.5L1871.3 861.5L1871.6 862.5L1871.8 863.5L1871.9 864.5L1872.2 865.5L1872.4 866.5L1872.7 867.5L1873.0 868.5L1873.2 869.5L1873.5 870.5L1873.7 871.5L1874.0 872.5L1874.2 873.5L1874.4 874.5L1874.6 875.5L1874.6 876.5L1874.6 877.5L1874.6 878.5L1874.6 879.5L1874.6 880.5L1874.6 881.5L1874.6 882.5L1874.6 883.5L1874.6 884.5L1874.6 885.5L1874.6 886.5L1874.6 887.5L1874.6 888.5L1874.6 889.5L1874.6 890.5L1874.6 891.5L1874.6 892.5L1874.6 893.5L1874.6 894.5L1874.6 895.5L1874.6 896.5L1874.6 897.5L1874.6 898.5L1874.6 899.5L1874.6 900.5L1874.6 901.5L1874.6 902.5L1874.6 903.5L1874.6 904.5L1874.6 905.5L1874.6 906.5L1874.6 907.5L1874.6 908.5L1874.6 909.5L1874.6 910.5L1874.6 911.5L1874.6 912.5L1874.6 913.5L1874.6 914.5L1874.6 915.5L1874.6 916.5L1874.6 917.5L1874.6 918.5L1874.6 919.5L1874.6 920.5L1874.6 921.5L1874.6 922.5L1874.6 923.5L1874.6 924.5L1874.6 925.5L1874.6 926.5L1874.6 927.5L1874.6 928.5L1874.6 929.5L1874.6 930.5L1874.6 931.5L1874.6 932.5L1874.6 933.5L1874.6 934.5L1874.6 935.5L1874.6 936.5L1874.4 937.5L1874.1 938.5L1873.7 939.5L1873.4 940.5L1872.9 941.5L1872.3 942.5L1871.7 943.5L1871.0 944.5L1870.3 945.5L1869.6 946.5L1868.9 947.5L1868.3 948.5L1867.8 949.5L1867.2 950.5L1866.7 951.5L1866.2 952.5L1865.6 953.5L1865.2 954.5L1864.7 955.5L1864.4 956.5L1864.0 957.5L1863.5 958.5L1863.1 959.5L1862.8 960.5L1862.4 961.5L1862.2 962.5L1862.0 963.5L1861.9 964.5L1861.9 965.5L1862.0 966.5L1862.1 967.5L1862.4 968.5L1862.6 969.5L1862.9 970.5L1863.2 971.5L1863.5 972.5L1863.8 973.5L1864.1 974.5L1864.5 975.5L1864.9 976.5L1865.3 977.5L1865.7 978.5L1866.0 979.5L1866.2 980.5L1866.2 981.5L1866.2 982.5L1866.0 983.5L1865.7 984.5L1865.4 985.5L1865.1 986.5L1864.7 987.5L1864.4 988.5L1863.9 989.5L1863.3 990.5L1862.7 991.5L1862.1 992.5L1861.5 993.5L1860.9 994.5L1860.5 995.5L1860.1 996.5L1859.7 997.5L1859.3 998.5L1858.9 999.5L1858.6 1000.5L1858.4 1001.5L1858.3 1002.5L1858.3 1003.5L1858.4 1004.5L1858.6 1005.5L1858.9 1006.5L1859.3 1007.5L1859.7 1008.5L1860.1 1009.5L1860.5 1010.5L1860.9 1011.5L1861.5 1012.5L1862.1 1013.5L1862.8 1014.5L1863.5 1015.5L1864.1 1016.5L1864.9 1017.5L1865.7 1018.5L1866.6 1019.5L1867.4 1020.5L1868.3 1021.5L1869.2 1022.5L1870.0 1023.5L1870.9 1024.5L1871.7 1025.5L1872.6 1026.5L1873.4 1027.5L1873.9 1028.5L1874.3 1029.5L1874.6 1030.5L1874.6 1031.5L1874.6 1032.5L1874.6 1033.5L1874.6 1034.5L1874.6 1035.5L1874.6 1036.5L1874.6 1037.5L1874.6 1038.5L1874.6 1039.5L1874.6 1040.5L1874.6 1041.0L1874.6 1041.0L1874.6 1040.5L1874.6 1039.5L1874.6 1038.5L1874.6 1037.5L1874.6 1036.5L1874.6 1035.5L1874.6 1034.5L1874.6 1033.5L1874.6 1032.5L1874.6 1031.5L1874.6 1030.5L1874.9 1029.5L1875.3 1028.5L1875.8 1027.5L1876.6 1026.5L1877.5 1025.5L1878.3 1024.5L1879.2 1023.5L1880.0 1022.5L1880.9 1021.5L1881.8 1020.5L1882.6 1019.5L1883.5 1018.5L1884.3 1017.5L1885.0 1016.5L1885.7 1015.5L1886.4 1014.5L1887.1 1013.5L1887.7 1012.5L1888.3 1011.5L1888.7 1010.5L1889.1 1009.5L1889.5 1008.5L1889.9 1007.5L1890.3 1006.5L1890.6 1005.5L1890.8 1004.5L1890.9 1003.5L1890.9 1002.5L1890.8 1001.5L1890.6 1000.5L1890.3 999.5L1889.9 998.5L1889.5 997.5L1889.1 996.5L1888.7 995.5L1888.3 994.5L1887.7 993.5L1887.1 992.5L1886.5 991.5L1885.9 990.5L1885.3 989.5L1884.8 988.5L1884.5 987.5L1884.1 986.5L1883.8 985.5L1883.5 984.5L1883.2 983.5L1883.0 982.5L1883.0 981.5L1883.0 980.5L1883.2 979.5L1883.5 978.5L1883.9 977.5L1884.3 976.5L1884.7 975.5L1885.1 974.5L1885.4 973.5L1885.7 972.5L1886.0 971.5L1886.3 970.5L1886.6 969.5L1886.8 968.5L1887.1 967.5L1887.2 966.5L1887.3 965.5L1887.3 964.5L1887.2 963.5L1887.0 962.5L1886.8 961.5L1886.4 960.5L1886.1 959.5L1885.7 958.5L1885.2 957.5L1884.8 956.5L1884.5 955.5L1884.0 954.5L1883.6 953.5L1883.0 952.5L1882.5 951.5L1882.0 950.5L1881.4 949.5L1880.8 948.5L1880.3 947.5L1879.6 946.5L1878.9 945.5L1878.2 944.5L1877.5 943.5L1876.9 942.5L1876.3 941.5L1875.8 940.5L1875.5 939.5L1875.1 938.5L1874.8 937.5L1874.6 936.5L1874.6 935.5L1874.6 934.5L1874.6 933.5L1874.6 932.5L1874.6 931.5L1874.6 930.5L1874.6 929.5L1874.6 928.5L1874.6 927.5L1874.6 926.5L1874.6 925.5L1874.6 924.5L1874.6 923.5L1874.6 922.5L1874.6 921.5L1874.6 920.5L1874.6 919.5L1874.6 918.5L1874.6 917.5L1874.6 916.5L1874.6 915.5L1874.6 914.5L1874.6 913.5L1874.6 912.5L1874.6 911.5L1874.6 910.5L1874.6 909.5L1874.6 908.5L1874.6 907.5L1874.6 906.5L1874.6 905.5L1874.6 904.5L1874.6 903.5L1874.6 902.5L1874.6 901.5L1874.6 900.5L1874.6 899.5L1874.6 898.5L1874.6 897.5L1874.6 896.5L1874.6 895.5L1874.6 894.5L1874.6 893.5L1874.6 892.5L1874.6 891.5L1874.6 890.5L1874.6 889.5L1874.6 888.5L1874.6 887.5L1874.6 886.5L1874.6 885.5L1874.6 884.5L1874.6 883.5L1874.6 882.5L1874.6 881.5L1874.6 880.5L1874.6 879.5L1874.6 878.5L1874.6 877.5L1874.6 876.5L1874.6 875.5L1874.8 874.5L1875.0 873.5L1875.2 872.5L1875.5 871.5L1875.7 870.5L1876.0 869.5L1876.2 868.5L1876.5 867.5L1876.8 866.5L1877.0 865.5L1877.3 864.5L1877.4 863.5L1877.6 862.5L1877.9 861.5L1878.1 860.5L1878.2 859.5L1878.4 858.5L1878.6 857.5L1878.7 856.5L1878.8 855.5L1878.8 854.5L1878.8 853.5L1878.8 852.5L1878.7 851.5L1878.6 850.5L1878.5 849.5L1878.3 848.5L1878.2 847.5L1878.0 846.5L1877.8 845.5L1877.6 844.5L1877.4 843.5L1877.3 842.5L1877.1 841.5L1876.8 840.5L1876.6 839.5L1876.3 838.5L1876.1 837.5L1875.8 836.5L1875.6 835.5L1875.4 834.5L1875.2 833.5L1875.1 832.5L1874.9 831.5L1874.8 830.5L1874.7 829.5L1874.6 828.5L1874.6 827.5L1874.6 826.5L1874.6 825.5L1874.6 824.5L1874.6 823.5L1874.6 822.5L1874.6 821.5L1874.6 820.5L1874.6 819.5L1874.6 818.5L1874.6 817.5Z" fill="#e9e9e9" stroke="#000" stroke-width="2.9" stroke-linejoin="round"/>
<circle cx="1874.6" cy="854.0" r="5" fill="none" stroke="#4a4a4a" stroke-width="1.1"/>
<circle cx="1860.6" cy="965.0" r="5" fill="none" stroke="#4a4a4a" stroke-width="1.1"/>
<circle cx="1874.0" cy="963.5" r="5" fill="none" stroke="#4a4a4a" stroke-width="1.1"/>
<circle cx="1888.5" cy="971.0" r="5" fill="none" stroke="#4a4a4a" stroke-width="1.1"/>
<circle cx="1887.8" cy="992.8" r="5" fill="none" stroke="#4a4a4a" stroke-width="1.1"/>
<circle cx="1862.7" cy="1004.0" r="5" fill="none" stroke="#4a4a4a" stroke-width="1.1"/>
<circle cx="1874.0" cy="1004.0" r="5" fill="none" stroke="#4a4a4a" stroke-width="1.1"/>
<circle cx="1887.8" cy="1004.7" r="5" fill="none" stroke="#4a4a4a" stroke-width="1.1"/>
<line x1="1865.6" y1="963.5" x2="1883.6" y2="963.5" stroke="#000" stroke-width="1.7" stroke-dasharray="0.1 4.2" stroke-linecap="round"/>
<line x1="1859.6" y1="1004.0" x2="1889.6" y2="1004.0" stroke="#000" stroke-width="1.7" stroke-dasharray="0.1 4.2" stroke-linecap="round"/>
<path d="M1865.1 982.5h7.8M1876.3 982.5h7.8" stroke="#000" stroke-width="2.4" fill="none"/>
<path d="M1919.9 875.9L1919.9 876.9L1919.9 877.9L1919.9 878.9L1919.9 879.9L1919.9 880.9L1919.9 881.9L1919.8 882.9L1919.4 883.9L1918.9 884.9L1918.4 885.9L1917.9 886.9L1917.3 887.9L1916.8 888.9L1916.4 889.9L1916.2 890.9L1915.9 891.9L1915.7 892.9L1915.6 893.9L1915.5 894.9L1915.5 895.9L1915.6 896.9L1915.8 897.9L1916.1 898.9L1916.4 899.9L1916.7 900.9L1917.2 901.9L1917.8 902.9L1918.3 903.9L1918.8 904.9L1919.4 905.9L1919.8 906.9L1919.9 907.9L1919.9 908.9L1919.9 909.9L1919.9 910.9L1919.9 911.9L1919.9 912.9L1919.9 913.9L1919.9 914.9L1919.9 915.9L1919.9 916.9L1919.9 917.9L1919.9 918.9L1919.9 919.9L1919.9 920.9L1919.9 921.9L1919.9 922.9L1919.9 923.9L1919.9 924.9L1919.9 925.9L1919.9 926.9L1919.9 927.9L1919.9 928.9L1919.9 929.9L1919.9 930.9L1919.9 931.9L1919.9 932.9L1919.9 933.9L1919.9 934.9L1919.9 935.9L1919.9 936.9L1919.9 937.9L1919.9 938.9L1919.9 939.9L1919.9 940.9L1919.9 941.9L1919.9 942.9L1919.9 943.9L1919.9 944.9L1919.9 945.9L1919.9 946.9L1919.9 947.9L1919.9 948.9L1919.9 949.9L1919.9 950.9L1919.9 951.9L1919.9 952.9L1919.9 953.9L1919.9 954.9L1919.9 955.9L1919.9 956.9L1919.9 957.9L1919.9 958.9L1919.9 959.9L1919.9 960.9L1919.9 961.9L1919.9 962.9L1919.9 963.9L1919.9 964.9L1919.9 965.9L1919.9 966.9L1919.8 967.9L1919.4 968.9L1918.8 969.9L1918.3 970.9L1917.6 971.9L1916.6 972.9L1915.6 973.9L1914.5 974.9L1913.5 975.9L1912.6 976.9L1912.1 977.9L1911.6 978.9L1911.3 979.9L1910.9 980.9L1910.6 981.9L1910.3 982.9L1909.9 983.9L1909.6 984.9L1909.2 985.9L1908.7 986.9L1908.2 987.9L1907.7 988.9L1907.2 989.9L1906.7 990.9L1906.3 991.9L1905.9 992.9L1905.4 993.9L1905.1 994.9L1904.8 995.9L1904.7 996.9L1904.8 997.9L1904.9 998.9L1905.2 999.9L1905.5 1000.9L1905.9 1001.9L1906.3 1002.9L1906.8 1003.9L1907.4 1004.9L1908.1 1005.9L1908.9 1006.9L1909.9 1007.9L1911.0 1008.9L1912.2 1009.9L1913.4 1010.9L1914.6 1011.9L1915.8 1012.9L1917.0 1013.9L1918.1 1014.9L1919.2 1015.9L1919.9 1016.9L1919.9 1017.9L1919.9 1018.9L1919.9 1019.9L1919.9 1020.9L1919.9 1021.9L1919.9 1022.9L1919.9 1023.7L1920.1 1023.7L1920.1 1022.9L1920.1 1021.9L1920.1 1020.9L1920.1 1019.9L1920.1 1018.9L1920.1 1017.9L1920.1 1016.9L1920.8 1015.9L1921.9 1014.9L1923.0 1013.9L1924.2 1012.9L1925.4 1011.9L1926.6 1010.9L1927.8 1009.9L1929.0 1008.9L1930.1 1007.9L1931.1 1006.9L1931.9 1005.9L1932.6 1004.9L1933.2 1003.9L1933.7 1002.9L1934.1 1001.9L1934.5 1000.9L1934.8 999.9L1935.1 998.9L1935.2 997.9L1935.3 996.9L1935.2 995.9L1934.9 994.9L1934.6 993.9L1934.1 992.9L1933.7 991.9L1933.3 990.9L1932.8 989.9L1932.3 988.9L1931.8 987.9L1931.3 986.9L1930.8 985.9L1930.4 984.9L1930.1 983.9L1929.7 982.9L1929.4 981.9L1929.1 980.9L1928.7 979.9L1928.4 978.9L1927.9 977.9L1927.4 976.9L1926.5 975.9L1925.5 974.9L1924.4 973.9L1923.4 972.9L1922.4 971.9L1921.7 970.9L1921.2 969.9L1920.6 968.9L1920.2 967.9L1920.1 966.9L1920.1 965.9L1920.1 964.9L1920.1 963.9L1920.1 962.9L1920.1 961.9L1920.1 960.9L1920.1 959.9L1920.1 958.9L1920.1 957.9L1920.1 956.9L1920.1 955.9L1920.1 954.9L1920.1 953.9L1920.1 952.9L1920.1 951.9L1920.1 950.9L1920.1 949.9L1920.1 948.9L1920.1 947.9L1920.1 946.9L1920.1 945.9L1920.1 944.9L1920.1 943.9L1920.1 942.9L1920.1 941.9L1920.1 940.9L1920.1 939.9L1920.1 938.9L1920.1 937.9L1920.1 936.9L1920.1 935.9L1920.1 934.9L1920.1 933.9L1920.1 932.9L1920.1 931.9L1920.1 930.9L1920.1 929.9L1920.1 928.9L1920.1 927.9L1920.1 926.9L1920.1 925.9L1920.1 924.9L1920.1 923.9L1920.1 922.9L1920.1 921.9L1920.1 920.9L1920.1 919.9L1920.1 918.9L1920.1 917.9L1920.1 916.9L1920.1 915.9L1920.1 914.9L1920.1 913.9L1920.1 912.9L1920.1 911.9L1920.1 910.9L1920.1 909.9L1920.1 908.9L1920.1 907.9L1920.2 906.9L1920.6 905.9L1921.2 904.9L1921.7 903.9L1922.2 902.9L1922.8 901.9L1923.3 900.9L1923.6 899.9L1923.9 898.9L1924.2 897.9L1924.4 896.9L1924.5 895.9L1924.5 894.9L1924.4 893.9L1924.3 892.9L1924.1 891.9L1923.8 890.9L1923.6 889.9L1923.2 888.9L1922.7 887.9L1922.1 886.9L1921.6 885.9L1921.1 884.9L1920.6 883.9L1920.2 882.9L1920.1 881.9L1920.1 880.9L1920.1 879.9L1920.1 878.9L1920.1 877.9L1920.1 876.9L1920.1 875.9Z" fill="#b2b2b4" stroke="#3462a6" stroke-width="2.4" stroke-linejoin="round"/>
<rect x="1915.2" y="890.5" width="9.5" height="9.5" fill="none" stroke="#7d90cf" stroke-width="1.2"/>
<rect x="1910.2" y="976.2" width="9.5" height="9.5" fill="none" stroke="#7d90cf" stroke-width="1.2"/>
<rect x="1920.2" y="976.2" width="9.5" height="9.5" fill="none" stroke="#7d90cf" stroke-width="1.2"/>
<rect x="1902.2" y="988.2" width="9.5" height="9.5" fill="none" stroke="#7d90cf" stroke-width="1.2"/>
<rect x="1928.2" y="989.2" width="9.5" height="9.5" fill="none" stroke="#7d90cf" stroke-width="1.2"/>
<rect x="1915.2" y="985.2" width="9.5" height="9.5" fill="none" stroke="#7d90cf" stroke-width="1.2"/>
<rect x="1907.2" y="995.2" width="9.5" height="9.5" fill="none" stroke="#7d90cf" stroke-width="1.2"/>
<rect x="1921.2" y="996.2" width="9.5" height="9.5" fill="none" stroke="#7d90cf" stroke-width="1.2"/>
<rect x="1902.2" y="1001.2" width="9.5" height="9.5" fill="none" stroke="#7d90cf" stroke-width="1.2"/>
<rect x="1917.2" y="1003.2" width="9.5" height="9.5" fill="none" stroke="#7d90cf" stroke-width="1.2"/>
<line x1="1914.0" y1="982.0" x2="1926.0" y2="982.0" stroke="#3462a6" stroke-width="1.7" stroke-dasharray="0.1 4.2" stroke-linecap="round"/>
<line x1="1909.0" y1="1004.0" x2="1931.0" y2="1004.0" stroke="#3462a6" stroke-width="1.7" stroke-dasharray="0.1 4.2" stroke-linecap="round"/>
<path d="M1904.5 994.0h7.9M1916.0 994.0h7.9M1927.6 994.0h7.9" stroke="#000" stroke-width="2.6" fill="none"/>
<text x="67.50" y="687.00" font-size="35.50" font-weight="bold" stroke="#000" stroke-width="0.3" stroke-linejoin="round">e</text>
<line x1="384.60" y1="709.50" x2="384.60" y2="994.70" stroke="#000" stroke-width="2.6"/>
<line x1="377.80" y1="710.80" x2="384.60" y2="710.80" stroke="#000" stroke-width="2.6"/>
<text x="374.40" y="718.10" font-size="18.50" text-anchor="end" textLength="30.9" lengthAdjust="spacing" stroke="#000" stroke-width="0.3" stroke-linejoin="round">300</text>
<line x1="377.80" y1="781.40" x2="384.60" y2="781.40" stroke="#000" stroke-width="2.6"/>
<text x="374.40" y="788.70" font-size="18.50" text-anchor="end" textLength="30.9" lengthAdjust="spacing" stroke="#000" stroke-width="0.3" stroke-linejoin="round">200</text>
<line x1="377.80" y1="852.00" x2="384.60" y2="852.00" stroke="#000" stroke-width="2.6"/>
<text x="374.40" y="859.30" font-size="18.50" text-anchor="end" textLength="30.9" lengthAdjust="spacing" stroke="#000" stroke-width="0.3" stroke-linejoin="round">100</text>
<line x1="377.80" y1="922.60" x2="384.60" y2="922.60" stroke="#000" stroke-width="2.6"/>
<text x="374.40" y="929.90" font-size="18.50" text-anchor="end" stroke="#000" stroke-width="0.3" stroke-linejoin="round">0</text>
<line x1="377.80" y1="993.40" x2="384.60" y2="993.40" stroke="#000" stroke-width="2.6"/>
<text x="374.40" y="1000.70" font-size="18.50" text-anchor="end" textLength="37.0" lengthAdjust="spacing" stroke="#000" stroke-width="0.3" stroke-linejoin="round">-100</text>
<line x1="378.10" y1="993.40" x2="857.20" y2="993.40" stroke="#000" stroke-width="2.6"/>
<line x1="441.20" y1="993.40" x2="441.20" y2="1000.60" stroke="#000" stroke-width="2.6"/>
<line x1="560.20" y1="993.40" x2="560.20" y2="1000.60" stroke="#000" stroke-width="2.6"/>
<line x1="679.40" y1="993.40" x2="679.40" y2="1000.60" stroke="#000" stroke-width="2.6"/>
<line x1="798.80" y1="993.40" x2="798.80" y2="1000.60" stroke="#000" stroke-width="2.6"/>
<text transform="translate(319.20 852.00) rotate(-90)" font-size="22.66" text-anchor="middle" textLength="284.0" lengthAdjust="spacing" stroke="#000" stroke-width="0.3" stroke-linejoin="round">Duration in Interaction Zone (s)</text>
<line x1="395.20" y1="922.80" x2="855.00" y2="922.80" stroke="#000" stroke-width="6.0" stroke-linecap="round" stroke-dasharray="0 10.55"/>
<text transform="translate(443.20 1014.50) rotate(-45)" font-size="18.65" text-anchor="end" textLength="78.4" lengthAdjust="spacing" stroke="#000" stroke-width="0.3" stroke-linejoin="round">WT GH F</text>
<text transform="translate(560.20 1015.50) rotate(-45)" font-size="18.65" text-anchor="end" textLength="96.0" lengthAdjust="spacing" stroke="#000" stroke-width="0.3" stroke-linejoin="round">cHET GH F</text>
<text transform="translate(679.60 1014.10) rotate(-45)" font-size="18.65" text-anchor="end" textLength="80.5" lengthAdjust="spacing" stroke="#000" stroke-width="0.3" stroke-linejoin="round">WT SIS F</text>
<text transform="translate(799.00 1013.80) rotate(-45)" font-size="18.65" text-anchor="end" textLength="98.1" lengthAdjust="spacing" stroke="#000" stroke-width="0.3" stroke-linejoin="round">cHET SIS F</text>
<rect x="852.40" y="665.60" width="23.40" height="23.40" fill="#fff" stroke="#000" stroke-width="2.6"/>
<rect x="852.40" y="701.80" width="23.40" height="23.40" fill="#b1b1b3" stroke="#000" stroke-width="2.6"/>
<text x="886.00" y="684.00" font-size="18.30" textLength="52.9" lengthAdjust="spacing" stroke="#000" stroke-width="0.3" stroke-linejoin="round">Object</text>
<text x="886.30" y="720.80" font-size="18.40" textLength="86.9" lengthAdjust="spacing" stroke="#000" stroke-width="0.3" stroke-linejoin="round">F Stranger</text>
<path d="M421.20 801.00V718.80H462.40V750.00" fill="none" stroke="#000" stroke-width="2.6" stroke-linecap="round" stroke-linejoin="miter"/>
<text transform="translate(442.40 700.80) scale(1 1.1)" x="0" y="14.94" font-family="DejaVu Sans, sans-serif" font-weight="bold" font-size="29" text-anchor="middle" letter-spacing="0.1" stroke="#000" stroke-width="0.8">*</text>
<path d="M540.60 841.00V718.80H581.80V750.00" fill="none" stroke="#000" stroke-width="2.6" stroke-linecap="round" stroke-linejoin="miter"/>
<text transform="translate(561.80 700.80) scale(1 1.1)" x="0" y="14.94" font-family="DejaVu Sans, sans-serif" font-weight="bold" font-size="29" text-anchor="middle" letter-spacing="0.1" stroke="#000" stroke-width="0.8">****</text>
<path d="M659.60 840.00V718.80H700.80V800.00" fill="none" stroke="#000" stroke-width="2.6" stroke-linecap="round" stroke-linejoin="miter"/>
<text transform="translate(680.80 700.80) scale(1 1.1)" x="0" y="14.94" font-family="DejaVu Sans, sans-serif" font-weight="bold" font-size="29" text-anchor="middle" letter-spacing="0.1" stroke="#000" stroke-width="0.8">*</text>
<path d="M778.80 796.00V718.80H820.00V819.00" fill="none" stroke="#000" stroke-width="2.6" stroke-linecap="round" stroke-linejoin="miter"/>
<text x="799.90" y="702.00" font-size="21.00" text-anchor="middle" textLength="22.2" lengthAdjust="spacing" stroke="#000" stroke-width="0.3" stroke-linejoin="round">ns</text>
<path d="M421.3 815.3L421.3 816.3L421.3 817.3L421.3 818.3L421.3 819.3L421.3 820.3L421.3 821.3L421.3 822.3L421.3 823.3L421.3 824.3L421.3 825.3L421.3 826.3L421.3 827.3L421.2 828.3L420.9 829.3L420.6 830.3L420.4 831.3L420.0 832.3L419.5 833.3L419.1 834.3L418.7 835.3L418.4 836.3L418.1 837.3L417.8 838.3L417.6 839.3L417.5 840.3L417.4 841.3L417.4 842.3L417.4 843.3L417.4 844.3L417.4 845.3L417.4 846.3L417.4 847.3L417.4 848.3L417.4 849.3L417.4 850.3L417.4 851.3L417.4 852.3L417.4 853.3L417.4 854.3L417.4 855.3L417.4 856.3L417.4 857.3L417.4 858.3L417.4 859.3L417.4 860.3L417.4 861.3L417.4 862.3L417.4 863.3L417.4 864.3L417.4 865.3L417.4 866.3L417.4 867.3L417.4 868.3L417.4 869.3L417.4 870.3L417.4 871.3L417.4 872.3L417.4 873.3L417.4 874.3L417.4 875.3L417.4 876.3L417.4 877.3L417.4 878.3L417.4 879.3L417.4 880.3L417.4 881.3L417.3 882.3L417.3 883.3L417.3 884.3L417.3 885.3L417.3 886.3L417.2 887.3L417.2 888.3L417.0 889.3L416.8 890.3L416.5 891.3L416.2 892.3L415.7 893.3L415.2 894.3L414.6 895.3L414.0 896.3L413.3 897.3L412.5 898.3L411.8 899.3L411.0 900.3L410.2 901.3L409.3 902.3L408.5 903.3L407.7 904.3L407.1 905.3L406.4 906.3L405.7 907.3L405.1 908.3L404.7 909.3L404.5 910.3L404.5 911.3L404.8 912.3L405.2 913.3L405.7 914.3L406.2 915.3L406.7 916.3L407.3 917.3L408.0 918.3L408.7 919.3L409.6 920.3L410.4 921.3L411.4 922.3L412.4 923.3L413.5 924.3L414.5 925.3L415.6 926.3L416.5 927.3L417.5 928.3L418.5 929.3L419.5 930.3L420.5 931.3L421.1 932.3L421.3 933.3L421.3 934.3L421.3 935.3L421.3 936.3L421.3 937.3L421.3 938.3L421.3 939.3L421.3 940.3L421.3 941.3L421.3 942.3L421.3 943.3L421.3 944.3L421.3 945.3L421.3 946.3L421.3 946.6L421.3 946.6L421.3 946.3L421.3 945.3L421.3 944.3L421.3 943.3L421.3 942.3L421.3 941.3L421.3 940.3L421.3 939.3L421.3 938.3L421.3 937.3L421.3 936.3L421.3 935.3L421.3 934.3L421.3 933.3L421.5 932.3L422.1 931.3L423.1 930.3L424.1 929.3L425.1 928.3L426.1 927.3L427.0 926.3L428.1 925.3L429.1 924.3L430.2 923.3L431.2 922.3L432.2 921.3L433.0 920.3L433.9 919.3L434.6 918.3L435.3 917.3L435.9 916.3L436.4 915.3L436.9 914.3L437.4 913.3L437.8 912.3L438.1 911.3L438.1 910.3L437.9 909.3L437.5 908.3L436.9 907.3L436.2 906.3L435.5 905.3L434.9 904.3L434.1 903.3L433.3 902.3L432.4 901.3L431.6 900.3L430.8 899.3L430.1 898.3L429.3 897.3L428.6 896.3L428.0 895.3L427.4 894.3L426.9 893.3L426.4 892.3L426.1 891.3L425.8 890.3L425.6 889.3L425.4 888.3L425.4 887.3L425.3 886.3L425.3 885.3L425.3 884.3L425.3 883.3L425.3 882.3L425.2 881.3L425.2 880.3L425.2 879.3L425.2 878.3L425.2 877.3L425.2 876.3L425.2 875.3L425.2 874.3L425.2 873.3L425.2 872.3L425.2 871.3L425.2 870.3L425.2 869.3L425.2 868.3L425.2 867.3L425.2 866.3L425.2 865.3L425.2 864.3L425.2 863.3L425.2 862.3L425.2 861.3L425.2 860.3L425.2 859.3L425.2 858.3L425.2 857.3L425.2 856.3L425.2 855.3L425.2 854.3L425.2 853.3L425.2 852.3L425.2 851.3L425.2 850.3L425.2 849.3L425.2 848.3L425.2 847.3L425.2 846.3L425.2 845.3L425.2 844.3L425.2 843.3L425.2 842.3L425.2 841.3L425.1 840.3L425.0 839.3L424.8 838.3L424.5 837.3L424.2 836.3L423.9 835.3L423.5 834.3L423.1 833.3L422.6 832.3L422.2 831.3L422.0 830.3L421.7 829.3L421.4 828.3L421.3 827.3L421.3 826.3L421.3 825.3L421.3 824.3L421.3 823.3L421.3 822.3L421.3 821.3L421.3 820.3L421.3 819.3L421.3 818.3L421.3 817.3L421.3 816.3L421.3 815.3Z" fill="#fff" stroke="#000" stroke-width="2.9" stroke-linejoin="round"/>
<circle cx="421.3" cy="845.0" r="4.6" fill="none" stroke="#a0a0a0" stroke-width="1.1"/>
<circle cx="421.3" cy="852.0" r="4.6" fill="none" stroke="#a0a0a0" stroke-width="1.1"/>
<circle cx="421.3" cy="861.0" r="4.6" fill="none" stroke="#a0a0a0" stroke-width="1.1"/>
<circle cx="421.3" cy="872.0" r="4.6" fill="none" stroke="#a0a0a0" stroke-width="1.1"/>
<circle cx="421.3" cy="880.0" r="4.6" fill="none" stroke="#a0a0a0" stroke-width="1.1"/>
<circle cx="421.3" cy="887.0" r="4.6" fill="none" stroke="#a0a0a0" stroke-width="1.1"/>
<circle cx="421.3" cy="845.0" r="4.6" fill="none" stroke="#fff" stroke-width="1.0"/>
<circle cx="421.3" cy="861.0" r="4.6" fill="none" stroke="#fff" stroke-width="1.0"/>
<circle cx="421.3" cy="880.0" r="4.6" fill="none" stroke="#fff" stroke-width="1.0"/>
<circle cx="409.3" cy="908.0" r="4.8" fill="rgba(255,255,255,0.35)" stroke="#fff" stroke-width="2.8"/>
<circle cx="409.3" cy="908.0" r="4.8" fill="none" stroke="#a0a0a0" stroke-width="1.1"/>
<circle cx="416.3" cy="906.0" r="4.8" fill="rgba(255,255,255,0.35)" stroke="#fff" stroke-width="2.8"/>
<circle cx="416.3" cy="906.0" r="4.8" fill="none" stroke="#a0a0a0" stroke-width="1.1"/>
<circle cx="424.3" cy="904.0" r="4.8" fill="rgba(255,255,255,0.35)" stroke="#fff" stroke-width="2.8"/>
<circle cx="424.3" cy="904.0" r="4.8" fill="none" stroke="#a0a0a0" stroke-width="1.1"/>
<circle cx="431.3" cy="909.0" r="4.8" fill="rgba(255,255,255,0.35)" stroke="#fff" stroke-width="2.8"/>
<circle cx="431.3" cy="909.0" r="4.8" fill="none" stroke="#a0a0a0" stroke-width="1.1"/>
<circle cx="412.3" cy="912.0" r="4.8" fill="rgba(255,255,255,0.35)" stroke="#fff" stroke-width="2.8"/>
<circle cx="412.3" cy="912.0" r="4.8" fill="none" stroke="#a0a0a0" stroke-width="1.1"/>
<circle cx="419.3" cy="911.0" r="4.8" fill="rgba(255,255,255,0.35)" stroke="#fff" stroke-width="2.8"/>
<circle cx="419.3" cy="911.0" r="4.8" fill="none" stroke="#a0a0a0" stroke-width="1.1"/>
<circle cx="427.3" cy="913.0" r="4.8" fill="rgba(255,255,255,0.35)" stroke="#fff" stroke-width="2.8"/>
<circle cx="427.3" cy="913.0" r="4.8" fill="none" stroke="#a0a0a0" stroke-width="1.1"/>
<circle cx="435.3" cy="912.0" r="4.8" fill="rgba(255,255,255,0.35)" stroke="#fff" stroke-width="2.8"/>
<circle cx="435.3" cy="912.0" r="4.8" fill="none" stroke="#a0a0a0" stroke-width="1.1"/>
<circle cx="424.3" cy="918.0" r="4.8" fill="rgba(255,255,255,0.35)" stroke="#fff" stroke-width="2.8"/>
<circle cx="424.3" cy="918.0" r="4.8" fill="none" stroke="#a0a0a0" stroke-width="1.1"/>
<circle cx="407.3" cy="913.0" r="4.8" fill="rgba(255,255,255,0.35)" stroke="#fff" stroke-width="2.8"/>
<circle cx="407.3" cy="913.0" r="4.8" fill="none" stroke="#a0a0a0" stroke-width="1.1"/>
<path d="M408.3 909.5H423.5M431.4 909.5H434.3" stroke="#000" stroke-width="3.2" stroke-linecap="round" fill="none"/>
<path d="M462.1 755.8L462.1 756.8L462.1 757.8L462.1 758.8L462.1 759.8L462.1 760.8L462.1 761.8L462.1 762.8L462.1 763.8L462.1 764.8L462.1 765.8L462.1 766.8L462.1 767.8L462.1 768.8L462.0 769.8L461.9 770.8L461.7 771.8L461.6 772.8L461.4 773.8L461.2 774.8L461.0 775.8L460.8 776.8L460.5 777.8L460.3 778.8L460.0 779.8L459.8 780.8L459.6 781.8L459.3 782.8L459.1 783.8L458.8 784.8L458.6 785.8L458.3 786.8L458.1 787.8L458.0 788.8L457.9 789.8L457.7 790.8L457.6 791.8L457.5 792.8L457.4 793.8L457.4 794.8L457.3 795.8L457.2 796.8L457.2 797.8L457.1 798.8L457.1 799.8L457.1 800.8L457.1 801.8L457.1 802.8L457.2 803.8L457.4 804.8L457.5 805.8L457.6 806.8L457.8 807.8L457.9 808.8L458.1 809.8L458.2 810.8L458.4 811.8L458.6 812.8L458.7 813.8L458.9 814.8L459.0 815.8L459.1 816.8L459.1 817.8L459.1 818.8L459.0 819.8L458.9 820.8L458.8 821.8L458.6 822.8L458.4 823.8L458.2 824.8L458.0 825.8L457.8 826.8L457.6 827.8L457.3 828.8L457.1 829.8L456.8 830.8L456.6 831.8L456.3 832.8L456.1 833.8L455.9 834.8L455.8 835.8L455.6 836.8L455.4 837.8L455.3 838.8L455.2 839.8L455.0 840.8L454.9 841.8L454.8 842.8L454.6 843.8L454.5 844.8L454.3 845.8L454.2 846.8L454.1 847.8L453.9 848.8L453.8 849.8L453.6 850.8L453.5 851.8L453.3 852.8L453.2 853.8L453.0 854.8L452.8 855.8L452.6 856.8L452.4 857.8L452.2 858.8L451.9 859.8L451.7 860.8L451.4 861.8L451.2 862.8L450.9 863.8L450.6 864.8L450.3 865.8L450.0 866.8L449.7 867.8L449.4 868.8L449.0 869.8L448.7 870.8L448.4 871.8L448.1 872.8L447.8 873.8L447.5 874.8L447.3 875.8L447.0 876.8L446.8 877.8L446.6 878.8L446.4 879.8L446.2 880.8L446.1 881.8L446.0 882.8L445.8 883.8L445.7 884.8L445.6 885.8L445.6 886.8L445.5 887.8L445.5 888.8L445.5 889.8L445.5 890.8L445.7 891.8L445.9 892.8L446.1 893.8L446.4 894.8L446.6 895.8L446.9 896.8L447.2 897.8L447.5 898.8L447.8 899.8L448.2 900.8L448.6 901.8L449.1 902.8L449.6 903.8L450.1 904.8L450.6 905.8L451.3 906.8L451.9 907.8L452.6 908.8L453.3 909.8L453.9 910.8L454.6 911.8L455.3 912.8L456.0 913.8L456.7 914.8L457.4 915.8L458.1 916.8L458.7 917.8L459.3 918.8L459.9 919.8L460.5 920.8L461.2 921.8L461.8 922.8L462.1 923.8L462.1 924.8L462.1 925.8L462.1 926.8L462.1 927.8L462.1 928.8L462.1 929.8L462.1 930.8L462.1 931.8L462.1 932.8L462.1 933.8L462.1 934.8L462.1 935.8L462.1 936.8L462.1 937.8L462.1 938.8L462.1 939.8L462.1 940.8L462.1 941.8L462.1 942.8L462.1 943.8L462.1 944.8L462.1 945.8L462.1 946.2L462.1 946.2L462.1 945.8L462.1 944.8L462.1 943.8L462.1 942.8L462.1 941.8L462.1 940.8L462.1 939.8L462.1 938.8L462.1 937.8L462.1 936.8L462.1 935.8L462.1 934.8L462.1 933.8L462.1 932.8L462.1 931.8L462.1 930.8L462.1 929.8L462.1 928.8L462.1 927.8L462.1 926.8L462.1 925.8L462.1 924.8L462.1 923.8L462.4 922.8L463.0 921.8L463.7 920.8L464.3 919.8L464.9 918.8L465.5 917.8L466.2 916.8L466.8 915.8L467.5 914.8L468.2 913.8L468.9 912.8L469.6 911.8L470.3 910.8L470.9 909.8L471.6 908.8L472.3 907.8L472.9 906.8L473.6 905.8L474.1 904.8L474.6 903.8L475.1 902.8L475.6 901.8L476.0 900.8L476.4 899.8L476.7 898.8L477.0 897.8L477.3 896.8L477.6 895.8L477.8 894.8L478.1 893.8L478.3 892.8L478.5 891.8L478.7 890.8L478.7 889.8L478.7 888.8L478.7 887.8L478.6 886.8L478.6 885.8L478.5 884.8L478.4 883.8L478.2 882.8L478.1 881.8L478.0 880.8L477.8 879.8L477.6 878.8L477.4 877.8L477.2 876.8L476.9 875.8L476.7 874.8L476.4 873.8L476.1 872.8L475.8 871.8L475.5 870.8L475.2 869.8L474.8 868.8L474.5 867.8L474.2 866.8L473.9 865.8L473.6 864.8L473.3 863.8L473.0 862.8L472.8 861.8L472.5 860.8L472.3 859.8L472.0 858.8L471.8 857.8L471.6 856.8L471.4 855.8L471.2 854.8L471.0 853.8L470.9 852.8L470.7 851.8L470.6 850.8L470.4 849.8L470.3 848.8L470.1 847.8L470.0 846.8L469.9 845.8L469.7 844.8L469.6 843.8L469.4 842.8L469.3 841.8L469.2 840.8L469.0 839.8L468.9 838.8L468.8 837.8L468.6 836.8L468.4 835.8L468.3 834.8L468.1 833.8L467.9 832.8L467.6 831.8L467.4 830.8L467.1 829.8L466.9 828.8L466.6 827.8L466.4 826.8L466.2 825.8L466.0 824.8L465.8 823.8L465.6 822.8L465.4 821.8L465.3 820.8L465.2 819.8L465.1 818.8L465.1 817.8L465.1 816.8L465.2 815.8L465.3 814.8L465.5 813.8L465.6 812.8L465.8 811.8L466.0 810.8L466.1 809.8L466.3 808.8L466.4 807.8L466.6 806.8L466.7 805.8L466.8 804.8L467.0 803.8L467.1 802.8L467.1 801.8L467.1 800.8L467.1 799.8L467.1 798.8L467.0 797.8L467.0 796.8L466.9 795.8L466.8 794.8L466.8 793.8L466.7 792.8L466.6 791.8L466.5 790.8L466.3 789.8L466.2 788.8L466.1 787.8L465.9 786.8L465.6 785.8L465.4 784.8L465.1 783.8L464.9 782.8L464.6 781.8L464.4 780.8L464.2 779.8L463.9 778.8L463.7 777.8L463.4 776.8L463.2 775.8L463.0 774.8L462.8 773.8L462.6 772.8L462.5 771.8L462.3 770.8L462.2 769.8L462.1 768.8L462.1 767.8L462.1 766.8L462.1 765.8L462.1 764.8L462.1 763.8L462.1 762.8L462.1 761.8L462.1 760.8L462.1 759.8L462.1 758.8L462.1 757.8L462.1 756.8L462.1 755.8Z" fill="#b2b2b4" stroke="#000" stroke-width="2.9" stroke-linejoin="round"/>
<rect x="456.6" y="790.5" width="11" height="11" fill="none" stroke="#55a857" stroke-width="1.1"/>
<rect x="456.6" y="800.5" width="11" height="11" fill="none" stroke="#55a857" stroke-width="1.1"/>
<rect x="443.1" y="837.0" width="11" height="11" fill="none" stroke="#55a857" stroke-width="1.1"/>
<rect x="456.6" y="842.0" width="11" height="11" fill="none" stroke="#55a857" stroke-width="1.1"/>
<rect x="443.1" y="863.5" width="11" height="11" fill="none" stroke="#55a857" stroke-width="1.1"/>
<rect x="469.6" y="867.5" width="11" height="11" fill="none" stroke="#55a857" stroke-width="1.1"/>
<rect x="456.6" y="874.5" width="11" height="11" fill="none" stroke="#55a857" stroke-width="1.1"/>
<rect x="443.6" y="884.0" width="11" height="11" fill="none" stroke="#55a857" stroke-width="1.1"/>
<rect x="469.6" y="884.0" width="11" height="11" fill="none" stroke="#55a857" stroke-width="1.1"/>
<rect x="456.6" y="888.0" width="11" height="11" fill="none" stroke="#55a857" stroke-width="1.1"/>
<rect x="469.6" y="896.0" width="11" height="11" fill="none" stroke="#55a857" stroke-width="1.1"/>
<rect x="443.1" y="900.0" width="11" height="11" fill="none" stroke="#55a857" stroke-width="1.1"/>
<line x1="459.1" y1="845.0" x2="465.1" y2="845.0" stroke="#55a857" stroke-width="1.7" stroke-dasharray="0.1 4.2" stroke-linecap="round"/>
<line x1="450.1" y1="893.5" x2="474.1" y2="893.5" stroke="#55a857" stroke-width="1.7" stroke-dasharray="0.1 4.2" stroke-linecap="round"/>
<path d="M449.6 876.9H464.3M471.8 876.9H474.6" stroke="#000" stroke-width="3.8" stroke-linecap="round" fill="none"/>
<path d="M540.6 856.8L540.6 857.8L540.6 858.8L540.6 859.8L540.6 860.8L540.6 861.8L540.5 862.8L540.1 863.8L539.6 864.8L539.0 865.8L538.2 866.8L537.2 867.8L536.2 868.8L535.3 869.8L534.3 870.8L533.3 871.8L532.4 872.8L531.7 873.8L531.1 874.8L530.6 875.8L530.0 876.8L529.6 877.8L529.2 878.8L529.0 879.8L528.9 880.8L528.9 881.8L528.9 882.8L529.0 883.8L529.2 884.8L529.3 885.8L529.5 886.8L529.7 887.8L529.8 888.8L530.0 889.8L530.2 890.8L530.4 891.8L530.6 892.8L530.8 893.8L530.9 894.8L531.0 895.8L531.1 896.8L530.9 897.8L530.6 898.8L530.2 899.8L529.7 900.8L529.0 901.8L528.1 902.8L527.2 903.8L526.4 904.8L525.8 905.8L525.2 906.8L524.8 907.8L524.5 908.8L524.5 909.8L524.7 910.8L525.2 911.8L525.8 912.8L526.4 913.8L527.1 914.8L527.9 915.8L528.9 916.8L529.9 917.8L530.9 918.8L532.1 919.8L533.3 920.8L534.6 921.8L535.9 922.8L537.3 923.8L538.6 924.8L539.7 925.8L540.6 926.8L540.6 927.8L540.6 928.8L540.6 929.8L540.6 930.8L540.6 931.8L540.6 932.8L540.6 933.8L540.6 934.8L540.6 935.8L540.6 936.8L540.6 936.8L540.6 935.8L540.6 934.8L540.6 933.8L540.6 932.8L540.6 931.8L540.6 930.8L540.6 929.8L540.6 928.8L540.6 927.8L540.6 926.8L541.5 925.8L542.6 924.8L543.9 923.8L545.3 922.8L546.6 921.8L547.9 920.8L549.1 919.8L550.3 918.8L551.3 917.8L552.3 916.8L553.3 915.8L554.1 914.8L554.8 913.8L555.4 912.8L556.0 911.8L556.5 910.8L556.7 909.8L556.7 908.8L556.4 907.8L556.0 906.8L555.4 905.8L554.8 904.8L554.0 903.8L553.1 902.8L552.2 901.8L551.5 900.8L551.0 899.8L550.6 898.8L550.3 897.8L550.1 896.8L550.2 895.8L550.3 894.8L550.4 893.8L550.6 892.8L550.8 891.8L551.0 890.8L551.2 889.8L551.4 888.8L551.5 887.8L551.7 886.8L551.9 885.8L552.0 884.8L552.2 883.8L552.3 882.8L552.3 881.8L552.3 880.8L552.2 879.8L552.0 878.8L551.6 877.8L551.2 876.8L550.6 875.8L550.1 874.8L549.5 873.8L548.8 872.8L547.9 871.8L546.9 870.8L545.9 869.8L545.0 868.8L544.0 867.8L543.0 866.8L542.2 865.8L541.6 864.8L541.1 863.8L540.7 862.8L540.6 861.8L540.6 860.8L540.6 859.8L540.6 858.8L540.6 857.8L540.6 856.8Z" fill="#fff" stroke="#000" stroke-width="2.9" stroke-linejoin="round"/>
<circle cx="535.6" cy="873.0" r="4.8" fill="rgba(255,255,255,0.35)" stroke="#fff" stroke-width="2.8"/>
<circle cx="535.6" cy="873.0" r="4.8" fill="none" stroke="#a0a0a0" stroke-width="1.1"/>
<circle cx="543.6" cy="872.0" r="4.8" fill="rgba(255,255,255,0.35)" stroke="#fff" stroke-width="2.8"/>
<circle cx="543.6" cy="872.0" r="4.8" fill="none" stroke="#a0a0a0" stroke-width="1.1"/>
<circle cx="549.6" cy="871.0" r="4.8" fill="rgba(255,255,255,0.35)" stroke="#fff" stroke-width="2.8"/>
<circle cx="549.6" cy="871.0" r="4.8" fill="none" stroke="#a0a0a0" stroke-width="1.1"/>
<circle cx="532.6" cy="879.0" r="4.8" fill="rgba(255,255,255,0.35)" stroke="#fff" stroke-width="2.8"/>
<circle cx="532.6" cy="879.0" r="4.8" fill="none" stroke="#a0a0a0" stroke-width="1.1"/>
<circle cx="540.6" cy="879.0" r="4.8" fill="rgba(255,255,255,0.35)" stroke="#fff" stroke-width="2.8"/>
<circle cx="540.6" cy="879.0" r="4.8" fill="none" stroke="#a0a0a0" stroke-width="1.1"/>
<circle cx="547.6" cy="880.0" r="4.8" fill="rgba(255,255,255,0.35)" stroke="#fff" stroke-width="2.8"/>
<circle cx="547.6" cy="880.0" r="4.8" fill="none" stroke="#a0a0a0" stroke-width="1.1"/>
<circle cx="537.6" cy="886.0" r="4.8" fill="rgba(255,255,255,0.35)" stroke="#fff" stroke-width="2.8"/>
<circle cx="537.6" cy="886.0" r="4.8" fill="none" stroke="#a0a0a0" stroke-width="1.1"/>
<circle cx="545.6" cy="887.0" r="4.8" fill="rgba(255,255,255,0.35)" stroke="#fff" stroke-width="2.8"/>
<circle cx="545.6" cy="887.0" r="4.8" fill="none" stroke="#a0a0a0" stroke-width="1.1"/>
<circle cx="539.6" cy="893.0" r="4.8" fill="rgba(255,255,255,0.35)" stroke="#fff" stroke-width="2.8"/>
<circle cx="539.6" cy="893.0" r="4.8" fill="none" stroke="#a0a0a0" stroke-width="1.1"/>
<circle cx="529.6" cy="905.0" r="4.8" fill="rgba(255,255,255,0.35)" stroke="#fff" stroke-width="2.8"/>
<circle cx="529.6" cy="905.0" r="4.8" fill="none" stroke="#a0a0a0" stroke-width="1.1"/>
<circle cx="536.6" cy="904.0" r="4.8" fill="rgba(255,255,255,0.35)" stroke="#fff" stroke-width="2.8"/>
<circle cx="536.6" cy="904.0" r="4.8" fill="none" stroke="#a0a0a0" stroke-width="1.1"/>
<circle cx="544.6" cy="905.0" r="4.8" fill="rgba(255,255,255,0.35)" stroke="#fff" stroke-width="2.8"/>
<circle cx="544.6" cy="905.0" r="4.8" fill="none" stroke="#a0a0a0" stroke-width="1.1"/>
<circle cx="552.6" cy="906.0" r="4.8" fill="rgba(255,255,255,0.35)" stroke="#fff" stroke-width="2.8"/>
<circle cx="552.6" cy="906.0" r="4.8" fill="none" stroke="#a0a0a0" stroke-width="1.1"/>
<circle cx="532.6" cy="911.0" r="4.8" fill="rgba(255,255,255,0.35)" stroke="#fff" stroke-width="2.8"/>
<circle cx="532.6" cy="911.0" r="4.8" fill="none" stroke="#a0a0a0" stroke-width="1.1"/>
<circle cx="540.6" cy="911.0" r="4.8" fill="rgba(255,255,255,0.35)" stroke="#fff" stroke-width="2.8"/>
<circle cx="540.6" cy="911.0" r="4.8" fill="none" stroke="#a0a0a0" stroke-width="1.1"/>
<circle cx="548.6" cy="912.0" r="4.8" fill="rgba(255,255,255,0.35)" stroke="#fff" stroke-width="2.8"/>
<circle cx="548.6" cy="912.0" r="4.8" fill="none" stroke="#a0a0a0" stroke-width="1.1"/>
<circle cx="528.6" cy="913.0" r="4.8" fill="rgba(255,255,255,0.35)" stroke="#fff" stroke-width="2.8"/>
<circle cx="528.6" cy="913.0" r="4.8" fill="none" stroke="#a0a0a0" stroke-width="1.1"/>
<circle cx="543.6" cy="917.0" r="4.8" fill="rgba(255,255,255,0.35)" stroke="#fff" stroke-width="2.8"/>
<circle cx="543.6" cy="917.0" r="4.8" fill="none" stroke="#a0a0a0" stroke-width="1.1"/>
<circle cx="550.6" cy="919.0" r="4.8" fill="rgba(255,255,255,0.35)" stroke="#fff" stroke-width="2.8"/>
<circle cx="550.6" cy="919.0" r="4.8" fill="none" stroke="#a0a0a0" stroke-width="1.1"/>
<circle cx="535.6" cy="916.0" r="4.8" fill="rgba(255,255,255,0.35)" stroke="#fff" stroke-width="2.8"/>
<circle cx="535.6" cy="916.0" r="4.8" fill="none" stroke="#a0a0a0" stroke-width="1.1"/>
<path d="M529.6 902.2H542.5M549.2 902.2H551.6" stroke="#000" stroke-width="4" stroke-linecap="round" fill="none"/>
<path d="M581.4 771.6L581.4 772.6L581.4 773.6L581.4 774.6L581.4 775.6L581.4 776.6L581.4 777.6L581.4 778.6L581.4 779.6L581.4 780.6L581.3 781.6L581.0 782.6L580.5 783.6L580.1 784.6L579.5 785.6L578.9 786.6L578.4 787.6L578.0 788.6L577.7 789.6L577.5 790.6L577.4 791.6L577.4 792.6L577.7 793.6L578.0 794.6L578.3 795.6L578.7 796.6L579.3 797.6L579.8 798.6L580.3 799.6L580.8 800.6L581.2 801.6L581.3 802.6L581.1 803.6L580.7 804.6L580.2 805.6L579.6 806.6L579.0 807.6L578.4 808.6L578.0 809.6L577.7 810.6L577.4 811.6L577.4 812.6L577.4 813.6L577.7 814.6L578.0 815.6L578.3 816.6L578.6 817.6L579.1 818.6L579.5 819.6L579.9 820.6L580.2 821.6L580.6 822.6L580.8 823.6L580.8 824.6L580.7 825.6L580.4 826.6L580.1 827.6L579.8 828.6L579.5 829.6L579.1 830.6L578.8 831.6L578.4 832.6L578.0 833.6L577.6 834.6L577.1 835.6L576.6 836.6L576.0 837.6L575.4 838.6L574.8 839.6L574.2 840.6L573.5 841.6L572.9 842.6L572.2 843.6L571.6 844.6L571.0 845.6L570.4 846.6L569.8 847.6L569.2 848.6L568.7 849.6L568.2 850.6L567.7 851.6L567.3 852.6L566.9 853.6L566.5 854.6L566.2 855.6L565.8 856.6L565.6 857.6L565.4 858.6L565.3 859.6L565.3 860.6L565.4 861.6L565.7 862.6L566.0 863.6L566.4 864.6L566.7 865.6L567.0 866.6L567.4 867.6L567.7 868.6L568.1 869.6L568.5 870.6L568.9 871.6L569.4 872.6L569.9 873.6L570.4 874.6L571.0 875.6L571.7 876.6L572.3 877.6L572.9 878.6L573.5 879.6L574.1 880.6L574.7 881.6L575.4 882.6L576.0 883.6L576.5 884.6L577.1 885.6L577.6 886.6L578.1 887.6L578.6 888.6L579.1 889.6L579.5 890.6L579.9 891.6L580.3 892.6L580.7 893.6L581.0 894.6L581.2 895.6L581.3 896.6L581.3 897.6L581.0 898.6L580.5 899.6L580.0 900.6L579.6 901.6L579.0 902.6L578.3 903.6L577.7 904.6L577.3 905.6L577.0 906.6L576.7 907.6L576.5 908.6L576.3 909.6L576.3 910.6L576.3 911.6L576.6 912.6L576.8 913.6L577.2 914.6L577.6 915.6L578.4 916.6L579.2 917.6L579.9 918.6L580.7 919.6L581.3 920.6L581.4 921.6L581.4 922.6L581.4 923.6L581.4 924.6L581.4 925.6L581.4 926.6L581.4 927.6L581.4 928.6L581.4 929.6L581.4 930.6L581.4 931.5L581.4 931.5L581.4 930.6L581.4 929.6L581.4 928.6L581.4 927.6L581.4 926.6L581.4 925.6L581.4 924.6L581.4 923.6L581.4 922.6L581.4 921.6L581.5 920.6L582.1 919.6L582.9 918.6L583.6 917.6L584.4 916.6L585.2 915.6L585.6 914.6L586.0 913.6L586.2 912.6L586.5 911.6L586.5 910.6L586.5 909.6L586.3 908.6L586.1 907.6L585.8 906.6L585.5 905.6L585.1 904.6L584.5 903.6L583.8 902.6L583.2 901.6L582.8 900.6L582.3 899.6L581.8 898.6L581.5 897.6L581.5 896.6L581.6 895.6L581.8 894.6L582.1 893.6L582.5 892.6L582.9 891.6L583.3 890.6L583.7 889.6L584.2 888.6L584.7 887.6L585.2 886.6L585.7 885.6L586.3 884.6L586.8 883.6L587.4 882.6L588.1 881.6L588.7 880.6L589.3 879.6L589.9 878.6L590.5 877.6L591.1 876.6L591.8 875.6L592.4 874.6L592.9 873.6L593.4 872.6L593.9 871.6L594.3 870.6L594.7 869.6L595.1 868.6L595.4 867.6L595.8 866.6L596.1 865.6L596.4 864.6L596.8 863.6L597.1 862.6L597.4 861.6L597.5 860.6L597.5 859.6L597.4 858.6L597.2 857.6L597.0 856.6L596.6 855.6L596.3 854.6L595.9 853.6L595.5 852.6L595.1 851.6L594.6 850.6L594.1 849.6L593.6 848.6L593.0 847.6L592.4 846.6L591.8 845.6L591.2 844.6L590.6 843.6L589.9 842.6L589.3 841.6L588.6 840.6L588.0 839.6L587.4 838.6L586.8 837.6L586.2 836.6L585.7 835.6L585.2 834.6L584.8 833.6L584.4 832.6L584.0 831.6L583.7 830.6L583.3 829.6L583.0 828.6L582.7 827.6L582.4 826.6L582.1 825.6L582.0 824.6L582.0 823.6L582.2 822.6L582.6 821.6L582.9 820.6L583.3 819.6L583.7 818.6L584.2 817.6L584.5 816.6L584.8 815.6L585.1 814.6L585.4 813.6L585.4 812.6L585.4 811.6L585.1 810.6L584.8 809.6L584.4 808.6L583.8 807.6L583.2 806.6L582.6 805.6L582.1 804.6L581.7 803.6L581.5 802.6L581.6 801.6L582.0 800.6L582.5 799.6L583.0 798.6L583.5 797.6L584.1 796.6L584.5 795.6L584.8 794.6L585.1 793.6L585.4 792.6L585.4 791.6L585.3 790.6L585.1 789.6L584.8 788.6L584.4 787.6L583.9 786.6L583.3 785.6L582.7 784.6L582.3 783.6L581.8 782.6L581.5 781.6L581.4 780.6L581.4 779.6L581.4 778.6L581.4 777.6L581.4 776.6L581.4 775.6L581.4 774.6L581.4 773.6L581.4 772.6L581.4 771.6Z" fill="#b2b2b4" stroke="#000" stroke-width="2.9" stroke-linejoin="round"/>
<rect x="576.1" y="786.4" width="10.5" height="10.5" fill="none" stroke="#55a857" stroke-width="1.1"/>
<rect x="576.1" y="807.4" width="10.5" height="10.5" fill="none" stroke="#55a857" stroke-width="1.1"/>
<rect x="583.1" y="831.8" width="10.5" height="10.5" fill="none" stroke="#55a857" stroke-width="1.1"/>
<rect x="589.1" y="842.8" width="10.5" height="10.5" fill="none" stroke="#55a857" stroke-width="1.1"/>
<rect x="563.1" y="851.8" width="10.5" height="10.5" fill="none" stroke="#55a857" stroke-width="1.1"/>
<rect x="570.1" y="851.8" width="10.5" height="10.5" fill="none" stroke="#55a857" stroke-width="1.1"/>
<rect x="579.1" y="848.8" width="10.5" height="10.5" fill="none" stroke="#55a857" stroke-width="1.1"/>
<rect x="586.1" y="850.8" width="10.5" height="10.5" fill="none" stroke="#55a857" stroke-width="1.1"/>
<rect x="563.1" y="863.8" width="10.5" height="10.5" fill="none" stroke="#55a857" stroke-width="1.1"/>
<rect x="571.1" y="860.8" width="10.5" height="10.5" fill="none" stroke="#55a857" stroke-width="1.1"/>
<rect x="580.1" y="861.8" width="10.5" height="10.5" fill="none" stroke="#55a857" stroke-width="1.1"/>
<rect x="589.1" y="858.8" width="10.5" height="10.5" fill="none" stroke="#55a857" stroke-width="1.1"/>
<rect x="573.1" y="868.8" width="10.5" height="10.5" fill="none" stroke="#55a857" stroke-width="1.1"/>
<rect x="582.1" y="870.8" width="10.5" height="10.5" fill="none" stroke="#55a857" stroke-width="1.1"/>
<rect x="576.1" y="876.8" width="10.5" height="10.5" fill="none" stroke="#55a857" stroke-width="1.1"/>
<rect x="572.6" y="905.2" width="10.5" height="10.5" fill="none" stroke="#55a857" stroke-width="1.1"/>
<rect x="579.6" y="905.2" width="10.5" height="10.5" fill="none" stroke="#55a857" stroke-width="1.1"/>
<path d="M566.4 861.2H584.0M592.9 861.2H596.4" stroke="#000" stroke-width="3.8" stroke-linecap="round" fill="none"/>
<path d="M659.3 854.7L659.3 855.7L659.3 856.7L659.3 857.7L659.3 858.7L659.3 859.7L659.2 860.7L658.9 861.7L658.4 862.7L657.9 863.7L657.2 864.7L656.4 865.7L655.6 866.7L654.8 867.7L653.9 868.7L653.0 869.7L652.2 870.7L651.4 871.7L650.6 872.7L649.8 873.7L649.0 874.7L648.2 875.7L647.4 876.7L646.6 877.7L645.8 878.7L645.0 879.7L644.4 880.7L643.9 881.7L643.4 882.7L642.9 883.7L642.7 884.7L642.7 885.7L642.9 886.7L643.3 887.7L643.8 888.7L644.4 889.7L645.1 890.7L646.0 891.7L647.0 892.7L648.0 893.7L648.9 894.7L649.9 895.7L650.9 896.7L651.6 897.7L652.2 898.7L652.6 899.7L652.5 900.7L651.9 901.7L651.1 902.7L650.4 903.7L649.9 904.7L649.3 905.7L648.9 906.7L648.5 907.7L648.5 908.7L648.7 909.7L649.2 910.7L649.7 911.7L650.3 912.7L650.9 913.7L651.6 914.7L652.4 915.7L653.3 916.7L654.4 917.7L655.7 918.7L657.0 919.7L658.3 920.7L659.2 921.7L659.3 922.7L659.3 923.7L659.3 924.7L659.3 925.7L659.3 926.7L659.3 927.7L659.3 928.7L659.3 929.7L659.3 930.4L659.3 930.4L659.3 929.7L659.3 928.7L659.3 927.7L659.3 926.7L659.3 925.7L659.3 924.7L659.3 923.7L659.3 922.7L659.4 921.7L660.3 920.7L661.6 919.7L662.9 918.7L664.2 917.7L665.3 916.7L666.2 915.7L667.0 914.7L667.7 913.7L668.3 912.7L668.9 911.7L669.4 910.7L669.9 909.7L670.1 908.7L670.1 907.7L669.7 906.7L669.3 905.7L668.7 904.7L668.2 903.7L667.5 902.7L666.7 901.7L666.1 900.7L666.0 899.7L666.4 898.7L667.0 897.7L667.7 896.7L668.7 895.7L669.7 894.7L670.6 893.7L671.6 892.7L672.6 891.7L673.5 890.7L674.2 889.7L674.8 888.7L675.3 887.7L675.7 886.7L675.9 885.7L675.9 884.7L675.7 883.7L675.2 882.7L674.7 881.7L674.2 880.7L673.6 879.7L672.8 878.7L672.0 877.7L671.2 876.7L670.4 875.7L669.6 874.7L668.8 873.7L668.0 872.7L667.2 871.7L666.4 870.7L665.6 869.7L664.7 868.7L663.8 867.7L663.0 866.7L662.2 865.7L661.4 864.7L660.7 863.7L660.2 862.7L659.7 861.7L659.4 860.7L659.3 859.7L659.3 858.7L659.3 857.7L659.3 856.7L659.3 855.7L659.3 854.7Z" fill="#fff" stroke="#000" stroke-width="2.9" stroke-linejoin="round"/>
<circle cx="646.3" cy="873.0" r="5.3" fill="rgba(255,255,255,0.35)" stroke="#fff" stroke-width="2.8"/>
<circle cx="646.3" cy="873.0" r="5.3" fill="none" stroke="#999" stroke-width="1.1"/>
<circle cx="659.3" cy="877.5" r="5.3" fill="rgba(255,255,255,0.35)" stroke="#fff" stroke-width="2.8"/>
<circle cx="659.3" cy="877.5" r="5.3" fill="none" stroke="#999" stroke-width="1.1"/>
<circle cx="646.3" cy="888.0" r="5.3" fill="rgba(255,255,255,0.35)" stroke="#fff" stroke-width="2.8"/>
<circle cx="646.3" cy="888.0" r="5.3" fill="none" stroke="#999" stroke-width="1.1"/>
<circle cx="672.3" cy="887.0" r="5.3" fill="rgba(255,255,255,0.35)" stroke="#fff" stroke-width="2.8"/>
<circle cx="672.3" cy="887.0" r="5.3" fill="none" stroke="#999" stroke-width="1.1"/>
<circle cx="659.3" cy="892.0" r="5.3" fill="rgba(255,255,255,0.35)" stroke="#fff" stroke-width="2.8"/>
<circle cx="659.3" cy="892.0" r="5.3" fill="none" stroke="#999" stroke-width="1.1"/>
<circle cx="652.8" cy="911.0" r="5.3" fill="rgba(255,255,255,0.35)" stroke="#fff" stroke-width="2.8"/>
<circle cx="652.8" cy="911.0" r="5.3" fill="none" stroke="#999" stroke-width="1.1"/>
<circle cx="665.3" cy="907.0" r="5.3" fill="rgba(255,255,255,0.35)" stroke="#fff" stroke-width="2.8"/>
<circle cx="665.3" cy="907.0" r="5.3" fill="none" stroke="#999" stroke-width="1.1"/>
<line x1="650.3" y1="878.3" x2="668.3" y2="878.3" stroke="#000" stroke-width="1.7" stroke-dasharray="0.1 4.2" stroke-linecap="round"/>
<line x1="651.3" y1="908.4" x2="667.3" y2="908.4" stroke="#000" stroke-width="1.7" stroke-dasharray="0.1 4.2" stroke-linecap="round"/>
<path d="M643.8 887.4H661.9M671.2 887.4H674.8" stroke="#000" stroke-width="4.2" stroke-linecap="round" fill="none"/>
<path d="M700.3 814.7L700.3 815.7L700.3 816.7L700.3 817.7L700.3 818.7L700.3 819.7L700.2 820.7L699.9 821.7L699.4 822.7L698.8 823.7L698.1 824.7L697.3 825.7L696.7 826.7L696.0 827.7L695.8 828.7L695.8 829.7L695.8 830.7L695.8 831.7L695.8 832.7L695.8 833.7L695.8 834.7L695.8 835.7L695.8 836.7L695.8 837.7L695.8 838.7L695.8 839.7L695.8 840.7L695.8 841.7L695.8 842.7L695.8 843.7L695.8 844.7L695.8 845.7L695.5 846.7L695.0 847.7L694.4 848.7L693.8 849.7L693.0 850.7L692.0 851.7L691.0 852.7L690.0 853.7L688.8 854.7L687.7 855.7L686.5 856.7L685.5 857.7L684.4 858.7L683.6 859.7L683.3 860.7L683.8 861.7L684.8 862.7L685.9 863.7L687.0 864.7L688.1 865.7L689.2 866.7L690.4 867.7L691.6 868.7L692.9 869.7L694.1 870.7L695.4 871.7L696.6 872.7L697.7 873.7L698.8 874.7L699.8 875.7L700.3 876.7L700.3 877.7L700.3 878.7L700.3 879.7L700.3 880.7L700.3 881.7L700.3 882.7L700.3 883.7L700.3 884.1L700.3 884.1L700.3 883.7L700.3 882.7L700.3 881.7L700.3 880.7L700.3 879.7L700.3 878.7L700.3 877.7L700.3 876.7L700.8 875.7L701.8 874.7L702.9 873.7L704.0 872.7L705.2 871.7L706.5 870.7L707.7 869.7L709.0 868.7L710.2 867.7L711.4 866.7L712.5 865.7L713.6 864.7L714.7 863.7L715.8 862.7L716.8 861.7L717.3 860.7L717.0 859.7L716.2 858.7L715.1 857.7L714.1 856.7L712.9 855.7L711.8 854.7L710.6 853.7L709.6 852.7L708.6 851.7L707.6 850.7L706.8 849.7L706.2 848.7L705.6 847.7L705.1 846.7L704.8 845.7L704.8 844.7L704.8 843.7L704.8 842.7L704.8 841.7L704.8 840.7L704.8 839.7L704.8 838.7L704.8 837.7L704.8 836.7L704.8 835.7L704.8 834.7L704.8 833.7L704.8 832.7L704.8 831.7L704.8 830.7L704.8 829.7L704.8 828.7L704.6 827.7L703.9 826.7L703.3 825.7L702.5 824.7L701.8 823.7L701.2 822.7L700.7 821.7L700.4 820.7L700.3 819.7L700.3 818.7L700.3 817.7L700.3 816.7L700.3 815.7L700.3 814.7Z" fill="#b2b2b4" stroke="#000" stroke-width="2.9" stroke-linejoin="round"/>
<rect x="694.8" y="825.5" width="11" height="11" fill="none" stroke="#55a857" stroke-width="1.1"/>
<rect x="694.8" y="836.5" width="11" height="11" fill="none" stroke="#55a857" stroke-width="1.1"/>
<rect x="681.8" y="845.5" width="11" height="11" fill="none" stroke="#55a857" stroke-width="1.1"/>
<rect x="681.8" y="861.5" width="11" height="11" fill="none" stroke="#55a857" stroke-width="1.1"/>
<rect x="690.8" y="852.5" width="11" height="11" fill="none" stroke="#55a857" stroke-width="1.1"/>
<rect x="699.8" y="858.5" width="11" height="11" fill="none" stroke="#55a857" stroke-width="1.1"/>
<rect x="707.8" y="855.5" width="11" height="11" fill="none" stroke="#55a857" stroke-width="1.1"/>
<line x1="697.3" y1="842.5" x2="703.3" y2="842.5" stroke="#55a857" stroke-width="1.7" stroke-dasharray="0.1 4.2" stroke-linecap="round"/>
<line x1="692.3" y1="864.5" x2="708.3" y2="864.5" stroke="#55a857" stroke-width="1.7" stroke-dasharray="0.1 4.2" stroke-linecap="round"/>
<path d="M684.8 859.6H702.9M712.2 859.6H715.8" stroke="#000" stroke-width="3.8" stroke-linecap="round" fill="none"/>
<path d="M778.8 811.1L778.8 812.1L778.8 813.1L778.8 814.1L778.8 815.1L778.8 816.1L778.8 817.1L778.8 818.1L778.6 819.1L778.3 820.1L777.9 821.1L777.4 822.1L776.8 823.1L776.2 824.1L775.8 825.1L775.5 826.1L775.3 827.1L775.1 828.1L775.0 829.1L775.0 830.1L775.1 831.1L775.3 832.1L775.6 833.1L775.9 834.1L776.3 835.1L776.9 836.1L777.6 837.1L778.0 838.1L778.5 839.1L778.8 840.1L778.8 841.1L778.8 842.1L778.8 843.1L778.8 844.1L778.8 845.1L778.8 846.1L778.8 847.1L778.8 848.1L778.6 849.1L778.2 850.1L777.7 851.1L777.0 852.1L776.2 853.1L775.1 854.1L774.1 855.1L773.2 856.1L772.2 857.1L771.2 858.1L770.3 859.1L769.4 860.1L768.7 861.1L768.0 862.1L767.3 863.1L766.7 864.1L766.3 865.1L766.1 866.1L766.1 867.1L766.4 868.1L766.8 869.1L767.2 870.1L767.7 871.1L768.1 872.1L768.5 873.1L769.0 874.1L769.5 875.1L769.9 876.1L770.2 877.1L770.2 878.1L769.7 879.1L768.7 880.1L767.6 881.1L766.3 882.1L764.8 883.1L763.7 884.1L762.9 885.1L762.2 886.1L761.9 887.1L762.1 888.1L762.9 889.1L763.9 890.1L764.8 891.1L766.0 892.1L767.2 893.1L768.6 894.1L770.3 895.1L771.9 896.1L773.4 897.1L774.9 898.1L776.2 899.1L777.4 900.1L778.6 901.1L778.8 902.1L778.8 903.1L778.8 904.1L778.8 905.1L778.8 906.1L778.8 907.1L778.8 908.1L778.8 908.4L778.8 908.4L778.8 908.1L778.8 907.1L778.8 906.1L778.8 905.1L778.8 904.1L778.8 903.1L778.8 902.1L779.0 901.1L780.2 900.1L781.4 899.1L782.7 898.1L784.2 897.1L785.7 896.1L787.3 895.1L789.0 894.1L790.4 893.1L791.6 892.1L792.8 891.1L793.7 890.1L794.7 889.1L795.5 888.1L795.7 887.1L795.4 886.1L794.7 885.1L793.9 884.1L792.8 883.1L791.3 882.1L790.0 881.1L788.9 880.1L787.9 879.1L787.4 878.1L787.4 877.1L787.7 876.1L788.1 875.1L788.6 874.1L789.1 873.1L789.5 872.1L789.9 871.1L790.4 870.1L790.8 869.1L791.2 868.1L791.5 867.1L791.5 866.1L791.3 865.1L790.9 864.1L790.3 863.1L789.6 862.1L788.9 861.1L788.2 860.1L787.3 859.1L786.4 858.1L785.4 857.1L784.4 856.1L783.5 855.1L782.5 854.1L781.4 853.1L780.6 852.1L779.9 851.1L779.4 850.1L779.0 849.1L778.8 848.1L778.8 847.1L778.8 846.1L778.8 845.1L778.8 844.1L778.8 843.1L778.8 842.1L778.8 841.1L778.8 840.1L779.1 839.1L779.6 838.1L780.0 837.1L780.7 836.1L781.3 835.1L781.7 834.1L782.0 833.1L782.3 832.1L782.5 831.1L782.6 830.1L782.6 829.1L782.5 828.1L782.3 827.1L782.1 826.1L781.8 825.1L781.4 824.1L780.8 823.1L780.2 822.1L779.7 821.1L779.3 820.1L779.0 819.1L778.8 818.1L778.8 817.1L778.8 816.1L778.8 815.1L778.8 814.1L778.8 813.1L778.8 812.1L778.8 811.1Z" fill="#fff" stroke="#000" stroke-width="2.9" stroke-linejoin="round"/>
<circle cx="778.8" cy="829.4" r="5" fill="rgba(255,255,255,0.35)" stroke="#fff" stroke-width="2.8"/>
<circle cx="778.8" cy="829.4" r="5" fill="none" stroke="#999" stroke-width="1.1"/>
<circle cx="764.8" cy="867.0" r="5" fill="rgba(255,255,255,0.35)" stroke="#fff" stroke-width="2.8"/>
<circle cx="764.8" cy="867.0" r="5" fill="none" stroke="#999" stroke-width="1.1"/>
<circle cx="771.8" cy="866.0" r="5" fill="rgba(255,255,255,0.35)" stroke="#fff" stroke-width="2.8"/>
<circle cx="771.8" cy="866.0" r="5" fill="none" stroke="#999" stroke-width="1.1"/>
<circle cx="784.8" cy="862.0" r="5" fill="rgba(255,255,255,0.35)" stroke="#fff" stroke-width="2.8"/>
<circle cx="784.8" cy="862.0" r="5" fill="none" stroke="#999" stroke-width="1.1"/>
<circle cx="778.8" cy="871.0" r="5" fill="rgba(255,255,255,0.35)" stroke="#fff" stroke-width="2.8"/>
<circle cx="778.8" cy="871.0" r="5" fill="none" stroke="#999" stroke-width="1.1"/>
<circle cx="771.8" cy="881.0" r="5" fill="rgba(255,255,255,0.35)" stroke="#fff" stroke-width="2.8"/>
<circle cx="771.8" cy="881.0" r="5" fill="none" stroke="#999" stroke-width="1.1"/>
<circle cx="765.8" cy="887.0" r="5" fill="rgba(255,255,255,0.35)" stroke="#fff" stroke-width="2.8"/>
<circle cx="765.8" cy="887.0" r="5" fill="none" stroke="#999" stroke-width="1.1"/>
<circle cx="778.8" cy="886.5" r="5" fill="rgba(255,255,255,0.35)" stroke="#fff" stroke-width="2.8"/>
<circle cx="778.8" cy="886.5" r="5" fill="none" stroke="#999" stroke-width="1.1"/>
<circle cx="791.8" cy="888.0" r="5" fill="rgba(255,255,255,0.35)" stroke="#fff" stroke-width="2.8"/>
<circle cx="791.8" cy="888.0" r="5" fill="none" stroke="#999" stroke-width="1.1"/>
<line x1="768.8" y1="867.0" x2="788.8" y2="867.0" stroke="#000" stroke-width="1.7" stroke-dasharray="0.1 4.2" stroke-linecap="round"/>
<line x1="764.8" y1="885.8" x2="792.8" y2="885.8" stroke="#000" stroke-width="1.7" stroke-dasharray="0.1 4.2" stroke-linecap="round"/>
<path d="M775.8 876.0H779.4M781.7 876.0H781.8" stroke="#000" stroke-width="3" stroke-linecap="round" fill="none"/>
<path d="M819.7 832.6L819.7 833.6L819.7 834.6L819.7 835.6L819.7 836.6L819.7 837.6L819.7 838.6L819.6 839.6L819.3 840.6L818.8 841.6L818.1 842.6L817.3 843.6L816.5 844.6L816.1 845.6L815.8 846.6L815.5 847.6L815.4 848.6L815.4 849.6L815.6 850.6L815.9 851.6L816.2 852.6L816.5 853.6L817.0 854.6L817.3 855.6L817.5 856.6L817.3 857.6L816.5 858.6L815.5 859.6L814.1 860.6L812.6 861.6L811.5 862.6L810.6 863.6L809.7 864.6L808.9 865.6L808.2 866.6L807.5 867.6L806.9 868.6L806.3 869.6L805.8 870.6L805.3 871.6L804.7 872.6L804.2 873.6L803.7 874.6L803.4 875.6L803.3 876.6L803.3 877.6L803.7 878.6L804.2 879.6L804.8 880.6L805.4 881.6L806.0 882.6L806.6 883.6L807.3 884.6L808.0 885.6L808.6 886.6L809.2 887.6L809.8 888.6L810.3 889.6L810.8 890.6L811.3 891.6L811.8 892.6L812.3 893.6L812.7 894.6L813.2 895.6L813.7 896.6L814.2 897.6L814.9 898.6L815.8 899.6L816.6 900.6L817.4 901.6L818.2 902.6L818.9 903.6L819.4 904.6L819.7 905.6L819.7 906.6L819.7 907.6L819.7 908.6L819.7 909.6L819.7 910.6L819.7 911.6L819.7 912.6L819.7 912.6L819.7 911.6L819.7 910.6L819.7 909.6L819.7 908.6L819.7 907.6L819.7 906.6L819.7 905.6L820.0 904.6L820.5 903.6L821.2 902.6L822.0 901.6L822.8 900.6L823.6 899.6L824.5 898.6L825.2 897.6L825.7 896.6L826.2 895.6L826.7 894.6L827.1 893.6L827.6 892.6L828.1 891.6L828.6 890.6L829.1 889.6L829.6 888.6L830.2 887.6L830.8 886.6L831.4 885.6L832.1 884.6L832.8 883.6L833.4 882.6L834.0 881.6L834.6 880.6L835.2 879.6L835.7 878.6L836.1 877.6L836.1 876.6L836.0 875.6L835.7 874.6L835.2 873.6L834.7 872.6L834.1 871.6L833.6 870.6L833.1 869.6L832.5 868.6L831.9 867.6L831.2 866.6L830.5 865.6L829.7 864.6L828.8 863.6L827.9 862.6L826.8 861.6L825.3 860.6L823.9 859.6L822.9 858.6L822.1 857.6L821.9 856.6L822.1 855.6L822.4 854.6L822.9 853.6L823.2 852.6L823.5 851.6L823.8 850.6L824.0 849.6L824.0 848.6L823.9 847.6L823.6 846.6L823.3 845.6L822.9 844.6L822.1 843.6L821.3 842.6L820.6 841.6L820.1 840.6L819.8 839.6L819.7 838.6L819.7 837.6L819.7 836.6L819.7 835.6L819.7 834.6L819.7 833.6L819.7 832.6Z" fill="#b2b2b4" stroke="#000" stroke-width="2.9" stroke-linejoin="round"/>
<rect x="814.5" y="843.8" width="10.5" height="10.5" fill="none" stroke="#55a857" stroke-width="1.1"/>
<rect x="827.5" y="861.8" width="10.5" height="10.5" fill="none" stroke="#55a857" stroke-width="1.1"/>
<rect x="809.5" y="862.8" width="10.5" height="10.5" fill="none" stroke="#55a857" stroke-width="1.1"/>
<rect x="818.5" y="864.8" width="10.5" height="10.5" fill="none" stroke="#55a857" stroke-width="1.1"/>
<rect x="801.5" y="870.8" width="10.5" height="10.5" fill="none" stroke="#55a857" stroke-width="1.1"/>
<rect x="809.5" y="871.8" width="10.5" height="10.5" fill="none" stroke="#55a857" stroke-width="1.1"/>
<rect x="818.5" y="872.8" width="10.5" height="10.5" fill="none" stroke="#55a857" stroke-width="1.1"/>
<rect x="826.5" y="872.8" width="10.5" height="10.5" fill="none" stroke="#55a857" stroke-width="1.1"/>
<rect x="811.5" y="880.8" width="10.5" height="10.5" fill="none" stroke="#55a857" stroke-width="1.1"/>
<rect x="820.5" y="881.8" width="10.5" height="10.5" fill="none" stroke="#55a857" stroke-width="1.1"/>
<rect x="819.5" y="889.8" width="10.5" height="10.5" fill="none" stroke="#55a857" stroke-width="1.1"/>
<rect x="807.5" y="892.8" width="10.5" height="10.5" fill="none" stroke="#55a857" stroke-width="1.1"/>
<path d="M804.7 876.9H822.3M831.2 876.9H834.7" stroke="#000" stroke-width="3.8" stroke-linecap="round" fill="none"/>
<text x="994.50" y="695.50" font-size="35.50" font-weight="bold" stroke="#000" stroke-width="0.3" stroke-linejoin="round">f</text>
<line x1="1061.20" y1="781.70" x2="1061.20" y2="1069.70" stroke="#000" stroke-width="2.6"/>
<line x1="1054.40" y1="783.00" x2="1061.20" y2="783.00" stroke="#000" stroke-width="2.6"/>
<text x="1051.00" y="790.30" font-size="18.50" text-anchor="end" textLength="25.7" lengthAdjust="spacing" stroke="#000" stroke-width="0.3" stroke-linejoin="round">1.5</text>
<line x1="1054.40" y1="854.20" x2="1061.20" y2="854.20" stroke="#000" stroke-width="2.6"/>
<text x="1051.00" y="861.50" font-size="18.50" text-anchor="end" textLength="25.7" lengthAdjust="spacing" stroke="#000" stroke-width="0.3" stroke-linejoin="round">1.0</text>
<line x1="1054.40" y1="924.80" x2="1061.20" y2="924.80" stroke="#000" stroke-width="2.6"/>
<text x="1051.00" y="932.10" font-size="18.50" text-anchor="end" textLength="25.7" lengthAdjust="spacing" stroke="#000" stroke-width="0.3" stroke-linejoin="round">0.5</text>
<line x1="1054.40" y1="996.60" x2="1061.20" y2="996.60" stroke="#000" stroke-width="2.6"/>
<text x="1051.00" y="1003.90" font-size="18.50" text-anchor="end" textLength="25.7" lengthAdjust="spacing" stroke="#000" stroke-width="0.3" stroke-linejoin="round">0.0</text>
<line x1="1054.40" y1="1068.40" x2="1061.20" y2="1068.40" stroke="#000" stroke-width="2.6"/>
<text x="1051.00" y="1075.70" font-size="18.50" text-anchor="end" textLength="31.9" lengthAdjust="spacing" stroke="#000" stroke-width="0.3" stroke-linejoin="round">-0.5</text>
<line x1="1054.70" y1="1068.40" x2="1264.60" y2="1068.40" stroke="#000" stroke-width="2.6"/>
<line x1="1110.50" y1="1068.40" x2="1110.50" y2="1075.60" stroke="#000" stroke-width="2.6"/>
<line x1="1213.80" y1="1068.40" x2="1213.80" y2="1075.60" stroke="#000" stroke-width="2.6"/>
<text transform="translate(1009.20 929.00) rotate(-90)" font-size="22.66" text-anchor="middle" textLength="148.5" lengthAdjust="spacing" stroke="#000" stroke-width="0.3" stroke-linejoin="round">Sociability Index</text>
<text x="1107.00" y="1100.80" font-size="21.80" text-anchor="middle" textLength="32.7" lengthAdjust="spacing" stroke="#000" stroke-width="0.3" stroke-linejoin="round">GH</text>
<text x="1210.00" y="1100.80" font-size="21.80" text-anchor="middle" textLength="35.1" lengthAdjust="spacing" stroke="#000" stroke-width="0.3" stroke-linejoin="round">SIS</text>
<line x1="1071.80" y1="924.80" x2="1264.00" y2="924.80" stroke="#000" stroke-width="6.0" stroke-linecap="round" stroke-dasharray="0 10.55"/>
<rect x="1258.60" y="711.60" width="17.60" height="17.60" fill="#fff" stroke="#000" stroke-width="2.6"/>
<rect x="1258.60" y="736.80" width="17.60" height="17.60" fill="#b1b1b3" stroke="#e0392b" stroke-width="2.6"/>
<text x="1284.00" y="727.20" font-size="17.40" textLength="42.2" lengthAdjust="spacing" stroke="#000" stroke-width="0.3" stroke-linejoin="round">WT F</text>
<text x="1284.00" y="749.60" font-size="17.40" textLength="58.7" lengthAdjust="spacing" stroke="#000" stroke-width="0.3" stroke-linejoin="round">cHET F</text>
<path d="M1093.00 799.00V764.60H1128.60V797.00" fill="none" stroke="#000" stroke-width="2.6" stroke-linecap="round" stroke-linejoin="miter"/>
<path d="M1196.00 819.00V764.60H1232.00V849.50" fill="none" stroke="#000" stroke-width="2.6" stroke-linecap="round" stroke-linejoin="miter"/>
<text x="1108.00" y="749.20" font-size="21.00" text-anchor="middle" textLength="22.2" lengthAdjust="spacing" stroke="#000" stroke-width="0.3" stroke-linejoin="round">ns</text>
<text transform="translate(1211.20 737.60) scale(1 1.1)" x="0" y="14.94" font-family="DejaVu Sans, sans-serif" font-weight="bold" font-size="29" text-anchor="middle" letter-spacing="0.1" stroke="#000" stroke-width="0.8">*</text>
<path d="M1092.8 830.0L1092.8 831.0L1092.8 832.0L1092.8 833.0L1092.8 834.0L1092.8 835.0L1092.8 836.0L1092.8 837.0L1092.8 838.0L1092.8 839.0L1092.8 840.0L1092.7 841.0L1092.3 842.0L1091.9 843.0L1091.4 844.0L1090.8 845.0L1090.0 846.0L1089.2 847.0L1088.5 848.0L1087.7 849.0L1086.9 850.0L1086.2 851.0L1085.6 852.0L1085.0 853.0L1084.4 854.0L1083.9 855.0L1083.4 856.0L1082.9 857.0L1082.4 858.0L1082.0 859.0L1081.6 860.0L1081.2 861.0L1080.8 862.0L1080.5 863.0L1080.2 864.0L1079.9 865.0L1079.7 866.0L1079.4 867.0L1079.2 868.0L1079.1 869.0L1078.9 870.0L1078.7 871.0L1078.6 872.0L1078.5 873.0L1078.5 874.0L1078.5 875.0L1078.5 876.0L1078.6 877.0L1078.8 878.0L1078.9 879.0L1079.1 880.0L1079.2 881.0L1079.5 882.0L1079.8 883.0L1080.2 884.0L1080.6 885.0L1081.1 886.0L1081.5 887.0L1082.0 888.0L1082.5 889.0L1083.0 890.0L1083.6 891.0L1084.2 892.0L1084.7 893.0L1085.2 894.0L1085.8 895.0L1086.3 896.0L1086.8 897.0L1087.3 898.0L1087.8 899.0L1088.1 900.0L1088.4 901.0L1088.6 902.0L1088.7 903.0L1088.9 904.0L1089.0 905.0L1089.0 906.0L1089.1 907.0L1089.2 908.0L1089.2 909.0L1089.2 910.0L1089.2 911.0L1089.2 912.0L1089.2 913.0L1089.2 914.0L1089.2 915.0L1089.2 916.0L1089.2 917.0L1089.2 918.0L1089.2 919.0L1089.2 920.0L1089.2 921.0L1089.2 922.0L1089.2 923.0L1089.2 924.0L1089.2 925.0L1089.2 926.0L1089.2 927.0L1089.2 928.0L1089.2 929.0L1089.2 930.0L1089.2 931.0L1089.2 932.0L1089.2 933.0L1089.2 934.0L1089.2 935.0L1089.2 936.0L1089.3 937.0L1089.3 938.0L1089.3 939.0L1089.3 940.0L1089.4 941.0L1089.5 942.0L1089.5 943.0L1089.6 944.0L1089.6 945.0L1089.7 946.0L1089.8 947.0L1089.8 948.0L1089.8 949.0L1089.9 950.0L1089.9 951.0L1090.0 952.0L1090.0 953.0L1090.1 954.0L1090.1 955.0L1090.2 956.0L1090.2 957.0L1090.3 958.0L1090.4 959.0L1090.5 960.0L1090.6 961.0L1090.7 962.0L1090.8 963.0L1090.9 964.0L1091.0 965.0L1091.0 966.0L1091.1 967.0L1091.2 968.0L1091.3 969.0L1091.4 970.0L1091.5 971.0L1091.6 972.0L1091.6 973.0L1091.8 974.0L1091.9 975.0L1092.0 976.0L1092.2 977.0L1092.3 978.0L1092.5 979.0L1092.6 980.0L1092.6 981.0L1092.7 982.0L1092.8 983.0L1092.8 984.0L1092.8 985.0L1092.8 986.0L1092.8 987.0L1092.8 988.0L1092.8 989.0L1092.8 990.0L1092.8 991.0L1092.8 992.0L1092.8 993.0L1092.8 994.0L1092.8 995.0L1092.8 996.0L1092.8 997.0L1092.8 998.0L1092.8 999.0L1092.8 1000.0L1092.8 1001.0L1092.8 1002.0L1092.8 1003.0L1092.8 1004.0L1092.8 1004.7L1092.8 1004.7L1092.8 1004.0L1092.8 1003.0L1092.8 1002.0L1092.8 1001.0L1092.8 1000.0L1092.8 999.0L1092.8 998.0L1092.8 997.0L1092.8 996.0L1092.8 995.0L1092.8 994.0L1092.8 993.0L1092.8 992.0L1092.8 991.0L1092.8 990.0L1092.8 989.0L1092.8 988.0L1092.8 987.0L1092.8 986.0L1092.8 985.0L1092.8 984.0L1092.8 983.0L1092.9 982.0L1093.0 981.0L1093.0 980.0L1093.1 979.0L1093.3 978.0L1093.4 977.0L1093.6 976.0L1093.7 975.0L1093.8 974.0L1094.0 973.0L1094.0 972.0L1094.1 971.0L1094.2 970.0L1094.3 969.0L1094.4 968.0L1094.5 967.0L1094.5 966.0L1094.6 965.0L1094.7 964.0L1094.8 963.0L1094.9 962.0L1095.0 961.0L1095.1 960.0L1095.2 959.0L1095.3 958.0L1095.4 957.0L1095.4 956.0L1095.5 955.0L1095.5 954.0L1095.6 953.0L1095.6 952.0L1095.7 951.0L1095.7 950.0L1095.8 949.0L1095.8 948.0L1095.8 947.0L1095.9 946.0L1096.0 945.0L1096.0 944.0L1096.1 943.0L1096.1 942.0L1096.2 941.0L1096.3 940.0L1096.3 939.0L1096.3 938.0L1096.3 937.0L1096.3 936.0L1096.3 935.0L1096.3 934.0L1096.3 933.0L1096.3 932.0L1096.3 931.0L1096.3 930.0L1096.3 929.0L1096.3 928.0L1096.3 927.0L1096.3 926.0L1096.3 925.0L1096.3 924.0L1096.3 923.0L1096.3 922.0L1096.3 921.0L1096.3 920.0L1096.3 919.0L1096.3 918.0L1096.3 917.0L1096.3 916.0L1096.3 915.0L1096.3 914.0L1096.3 913.0L1096.3 912.0L1096.3 911.0L1096.4 910.0L1096.4 909.0L1096.4 908.0L1096.5 907.0L1096.5 906.0L1096.6 905.0L1096.7 904.0L1096.9 903.0L1097.0 902.0L1097.2 901.0L1097.5 900.0L1097.8 899.0L1098.3 898.0L1098.8 897.0L1099.3 896.0L1099.8 895.0L1100.3 894.0L1100.9 893.0L1101.4 892.0L1102.0 891.0L1102.6 890.0L1103.1 889.0L1103.6 888.0L1104.1 887.0L1104.5 886.0L1105.0 885.0L1105.4 884.0L1105.8 883.0L1106.1 882.0L1106.3 881.0L1106.5 880.0L1106.7 879.0L1106.8 878.0L1107.0 877.0L1107.1 876.0L1107.1 875.0L1107.1 874.0L1107.1 873.0L1107.0 872.0L1106.9 871.0L1106.7 870.0L1106.5 869.0L1106.3 868.0L1106.2 867.0L1105.9 866.0L1105.7 865.0L1105.4 864.0L1105.1 863.0L1104.8 862.0L1104.4 861.0L1104.0 860.0L1103.6 859.0L1103.2 858.0L1102.7 857.0L1102.2 856.0L1101.7 855.0L1101.2 854.0L1100.6 853.0L1100.0 852.0L1099.3 851.0L1098.7 850.0L1097.9 849.0L1097.1 848.0L1096.3 847.0L1095.6 846.0L1094.8 845.0L1094.2 844.0L1093.7 843.0L1093.3 842.0L1092.9 841.0L1092.8 840.0L1092.8 839.0L1092.8 838.0L1092.8 837.0L1092.8 836.0L1092.8 835.0L1092.8 834.0L1092.8 833.0L1092.8 832.0L1092.8 831.0L1092.8 830.0Z" fill="#fff" stroke="#000" stroke-width="2.9" stroke-linejoin="round"/>
<circle cx="1087.8" cy="866.0" r="5.2" fill="rgba(255,255,255,0.35)" stroke="#fff" stroke-width="2.8"/>
<circle cx="1087.8" cy="866.0" r="5.2" fill="none" stroke="#999" stroke-width="1.1"/>
<circle cx="1093.8" cy="868.0" r="5.2" fill="rgba(255,255,255,0.35)" stroke="#fff" stroke-width="2.8"/>
<circle cx="1093.8" cy="868.0" r="5.2" fill="none" stroke="#999" stroke-width="1.1"/>
<circle cx="1081.8" cy="874.0" r="5.2" fill="rgba(255,255,255,0.35)" stroke="#fff" stroke-width="2.8"/>
<circle cx="1081.8" cy="874.0" r="5.2" fill="none" stroke="#999" stroke-width="1.1"/>
<circle cx="1089.8" cy="876.0" r="5.2" fill="rgba(255,255,255,0.35)" stroke="#fff" stroke-width="2.8"/>
<circle cx="1089.8" cy="876.0" r="5.2" fill="none" stroke="#999" stroke-width="1.1"/>
<circle cx="1097.8" cy="873.0" r="5.2" fill="rgba(255,255,255,0.35)" stroke="#fff" stroke-width="2.8"/>
<circle cx="1097.8" cy="873.0" r="5.2" fill="none" stroke="#999" stroke-width="1.1"/>
<circle cx="1104.8" cy="875.0" r="5.2" fill="rgba(255,255,255,0.35)" stroke="#fff" stroke-width="2.8"/>
<circle cx="1104.8" cy="875.0" r="5.2" fill="none" stroke="#999" stroke-width="1.1"/>
<circle cx="1100.8" cy="880.0" r="5.2" fill="rgba(255,255,255,0.35)" stroke="#fff" stroke-width="2.8"/>
<circle cx="1100.8" cy="880.0" r="5.2" fill="none" stroke="#999" stroke-width="1.1"/>
<circle cx="1086.8" cy="881.0" r="5.2" fill="rgba(255,255,255,0.35)" stroke="#fff" stroke-width="2.8"/>
<circle cx="1086.8" cy="881.0" r="5.2" fill="none" stroke="#999" stroke-width="1.1"/>
<circle cx="1097.8" cy="892.0" r="5.2" fill="rgba(255,255,255,0.35)" stroke="#fff" stroke-width="2.8"/>
<circle cx="1097.8" cy="892.0" r="5.2" fill="none" stroke="#999" stroke-width="1.1"/>
<circle cx="1092.8" cy="913.0" r="5.2" fill="none" stroke="#8a8a8a" stroke-width="1.1"/>
<circle cx="1092.8" cy="934.0" r="5.2" fill="none" stroke="#8a8a8a" stroke-width="1.1"/>
<circle cx="1097.8" cy="935.0" r="5.2" fill="none" stroke="#8a8a8a" stroke-width="1.1"/>
<circle cx="1092.8" cy="941.0" r="5.2" fill="none" stroke="#8a8a8a" stroke-width="1.1"/>
<circle cx="1092.8" cy="967.0" r="5.2" fill="none" stroke="#8a8a8a" stroke-width="1.1"/>
<path d="M1080.3 884.1H1095.0M1102.5 884.1H1105.3" stroke="#000" stroke-width="5" stroke-linecap="round" fill="none"/>
<path d="M1128.4 827.9L1128.4 828.9L1128.4 829.9L1128.4 830.9L1128.4 831.9L1128.4 832.9L1128.4 833.9L1128.4 834.9L1128.4 835.9L1128.4 836.9L1128.4 837.9L1128.2 838.9L1128.1 839.9L1127.9 840.9L1127.6 841.9L1127.4 842.9L1127.0 843.9L1126.7 844.9L1126.4 845.9L1126.1 846.9L1125.8 847.9L1125.5 848.9L1125.2 849.9L1124.9 850.9L1124.6 851.9L1124.2 852.9L1123.8 853.9L1123.4 854.9L1122.9 855.9L1122.4 856.9L1121.9 857.9L1121.4 858.9L1120.8 859.9L1120.1 860.9L1119.5 861.9L1118.9 862.9L1118.4 863.9L1117.9 864.9L1117.4 865.9L1116.9 866.9L1116.5 867.9L1116.1 868.9L1115.9 869.9L1115.8 870.9L1115.8 871.9L1115.9 872.9L1116.1 873.9L1116.3 874.9L1116.5 875.9L1116.8 876.9L1117.0 877.9L1117.2 878.9L1117.5 879.9L1117.7 880.9L1118.0 881.9L1118.4 882.9L1118.7 883.9L1118.9 884.9L1119.2 885.9L1119.3 886.9L1119.4 887.9L1119.3 888.9L1119.1 889.9L1118.8 890.9L1118.5 891.9L1118.1 892.9L1117.8 893.9L1117.5 894.9L1117.2 895.9L1116.9 896.9L1116.6 897.9L1116.3 898.9L1116.1 899.9L1115.9 900.9L1115.8 901.9L1115.8 902.9L1115.9 903.9L1116.1 904.9L1116.5 905.9L1116.9 906.9L1117.4 907.9L1117.8 908.9L1118.3 909.9L1118.8 910.9L1119.4 911.9L1120.0 912.9L1120.6 913.9L1121.3 914.9L1121.9 915.9L1122.6 916.9L1123.3 917.9L1124.0 918.9L1124.6 919.9L1125.3 920.9L1125.9 921.9L1126.5 922.9L1127.0 923.9L1127.6 924.9L1128.1 925.9L1128.4 926.9L1128.4 927.9L1128.4 928.9L1128.4 929.9L1128.4 930.9L1128.4 931.9L1128.4 932.9L1128.4 933.9L1128.4 934.9L1128.4 935.9L1128.4 936.9L1128.4 937.9L1128.4 938.9L1128.4 939.9L1128.4 940.9L1128.4 941.9L1128.4 942.9L1128.4 943.9L1128.4 944.9L1128.4 945.9L1128.4 946.9L1128.4 947.9L1128.4 948.9L1128.3 949.9L1128.2 950.9L1128.1 951.9L1127.9 952.9L1127.7 953.9L1127.5 954.9L1127.3 955.9L1127.1 956.9L1126.8 957.9L1126.7 958.9L1126.5 959.9L1126.3 960.9L1126.2 961.9L1126.1 962.9L1125.9 963.9L1125.9 964.9L1125.9 965.9L1125.9 966.9L1126.0 967.9L1126.1 968.9L1126.3 969.9L1126.5 970.9L1126.6 971.9L1126.9 972.9L1127.2 973.9L1127.5 974.9L1127.8 975.9L1128.0 976.9L1128.2 977.9L1128.3 978.9L1128.4 979.9L1128.4 980.9L1128.4 981.9L1128.4 982.9L1128.4 983.9L1128.4 984.9L1128.4 985.9L1128.4 986.9L1128.4 987.9L1128.4 988.9L1128.4 989.9L1128.4 990.9L1128.4 991.9L1128.4 992.7L1128.4 992.7L1128.4 991.9L1128.4 990.9L1128.4 989.9L1128.4 988.9L1128.4 987.9L1128.4 986.9L1128.4 985.9L1128.4 984.9L1128.4 983.9L1128.4 982.9L1128.4 981.9L1128.4 980.9L1128.4 979.9L1128.5 978.9L1128.6 977.9L1128.8 976.9L1129.0 975.9L1129.3 974.9L1129.6 973.9L1129.9 972.9L1130.2 971.9L1130.3 970.9L1130.5 969.9L1130.7 968.9L1130.8 967.9L1130.9 966.9L1130.9 965.9L1130.9 964.9L1130.9 963.9L1130.7 962.9L1130.6 961.9L1130.5 960.9L1130.3 959.9L1130.1 958.9L1130.0 957.9L1129.7 956.9L1129.5 955.9L1129.3 954.9L1129.1 953.9L1128.9 952.9L1128.7 951.9L1128.6 950.9L1128.5 949.9L1128.4 948.9L1128.4 947.9L1128.4 946.9L1128.4 945.9L1128.4 944.9L1128.4 943.9L1128.4 942.9L1128.4 941.9L1128.4 940.9L1128.4 939.9L1128.4 938.9L1128.4 937.9L1128.4 936.9L1128.4 935.9L1128.4 934.9L1128.4 933.9L1128.4 932.9L1128.4 931.9L1128.4 930.9L1128.4 929.9L1128.4 928.9L1128.4 927.9L1128.4 926.9L1128.7 925.9L1129.2 924.9L1129.8 923.9L1130.3 922.9L1130.9 921.9L1131.5 920.9L1132.2 919.9L1132.8 918.9L1133.5 917.9L1134.2 916.9L1134.9 915.9L1135.5 914.9L1136.2 913.9L1136.8 912.9L1137.4 911.9L1138.0 910.9L1138.5 909.9L1139.0 908.9L1139.4 907.9L1139.9 906.9L1140.3 905.9L1140.7 904.9L1140.9 903.9L1141.0 902.9L1141.0 901.9L1140.9 900.9L1140.7 899.9L1140.5 898.9L1140.2 897.9L1139.9 896.9L1139.6 895.9L1139.3 894.9L1139.0 893.9L1138.7 892.9L1138.3 891.9L1138.0 890.9L1137.7 889.9L1137.5 888.9L1137.5 887.9L1137.5 886.9L1137.6 885.9L1137.9 884.9L1138.1 883.9L1138.4 882.9L1138.8 881.9L1139.1 880.9L1139.3 879.9L1139.6 878.9L1139.8 877.9L1140.0 876.9L1140.3 875.9L1140.5 874.9L1140.7 873.9L1140.9 872.9L1141.0 871.9L1141.0 870.9L1140.9 869.9L1140.7 868.9L1140.3 867.9L1139.9 866.9L1139.4 865.9L1138.9 864.9L1138.4 863.9L1137.9 862.9L1137.3 861.9L1136.7 860.9L1136.0 859.9L1135.4 858.9L1134.9 857.9L1134.4 856.9L1133.9 855.9L1133.4 854.9L1133.0 853.9L1132.6 852.9L1132.2 851.9L1131.9 850.9L1131.6 849.9L1131.3 848.9L1131.0 847.9L1130.7 846.9L1130.4 845.9L1130.1 844.9L1129.8 843.9L1129.4 842.9L1129.2 841.9L1128.9 840.9L1128.7 839.9L1128.6 838.9L1128.4 837.9L1128.4 836.9L1128.4 835.9L1128.4 834.9L1128.4 833.9L1128.4 832.9L1128.4 831.9L1128.4 830.9L1128.4 829.9L1128.4 828.9L1128.4 827.9Z" fill="#b2b2b4" stroke="#e0382a" stroke-width="2.9" stroke-linejoin="round"/>
<rect x="1126.4" y="848.0" width="10" height="10" fill="none" stroke="#e2553f" stroke-width="1.2"/>
<rect x="1116.4" y="859.0" width="10" height="10" fill="none" stroke="#e2553f" stroke-width="1.2"/>
<rect x="1127.4" y="861.0" width="10" height="10" fill="none" stroke="#e2553f" stroke-width="1.2"/>
<rect x="1112.4" y="867.0" width="10" height="10" fill="none" stroke="#e2553f" stroke-width="1.2"/>
<rect x="1120.4" y="867.0" width="10" height="10" fill="none" stroke="#e2553f" stroke-width="1.2"/>
<rect x="1128.4" y="867.0" width="10" height="10" fill="none" stroke="#e2553f" stroke-width="1.2"/>
<rect x="1135.4" y="867.0" width="10" height="10" fill="none" stroke="#e2553f" stroke-width="1.2"/>
<rect x="1115.4" y="874.0" width="10" height="10" fill="none" stroke="#e2553f" stroke-width="1.2"/>
<rect x="1126.4" y="875.0" width="10" height="10" fill="none" stroke="#e2553f" stroke-width="1.2"/>
<rect x="1116.4" y="882.0" width="10" height="10" fill="none" stroke="#e2553f" stroke-width="1.2"/>
<rect x="1132.4" y="890.0" width="10" height="10" fill="none" stroke="#e2553f" stroke-width="1.2"/>
<rect x="1112.4" y="895.0" width="10" height="10" fill="none" stroke="#e2553f" stroke-width="1.2"/>
<rect x="1120.4" y="896.0" width="10" height="10" fill="none" stroke="#e2553f" stroke-width="1.2"/>
<rect x="1129.4" y="897.0" width="10" height="10" fill="none" stroke="#e2553f" stroke-width="1.2"/>
<rect x="1135.4" y="901.0" width="10" height="10" fill="none" stroke="#e2553f" stroke-width="1.2"/>
<rect x="1116.4" y="903.0" width="10" height="10" fill="none" stroke="#e2553f" stroke-width="1.2"/>
<rect x="1126.4" y="905.0" width="10" height="10" fill="none" stroke="#e2553f" stroke-width="1.2"/>
<rect x="1133.4" y="908.0" width="10" height="10" fill="none" stroke="#e2553f" stroke-width="1.2"/>
<rect x="1121.4" y="911.0" width="10" height="10" fill="none" stroke="#e2553f" stroke-width="1.2"/>
<rect x="1123.4" y="960.7" width="10" height="10" fill="none" stroke="#e2553f" stroke-width="1.2"/>
<path d="M1117.4 893.2h9.0M1130.4 893.2h9.0" stroke="#000" stroke-width="2.8" fill="none"/>
<path d="M1196.4 849.6L1196.4 850.6L1196.4 851.6L1196.4 852.6L1196.4 853.6L1196.4 854.6L1196.4 855.6L1196.4 856.6L1196.4 857.6L1196.4 858.6L1196.2 859.6L1196.0 860.6L1195.7 861.6L1195.4 862.6L1195.0 863.6L1194.6 864.6L1194.2 865.6L1193.7 866.6L1193.3 867.6L1192.9 868.6L1192.5 869.6L1192.0 870.6L1191.6 871.6L1191.2 872.6L1190.8 873.6L1190.4 874.6L1190.0 875.6L1189.6 876.6L1189.2 877.6L1188.8 878.6L1188.4 879.6L1188.1 880.6L1187.7 881.6L1187.3 882.6L1186.9 883.6L1186.4 884.6L1185.9 885.6L1185.4 886.6L1184.9 887.6L1184.4 888.6L1184.0 889.6L1183.5 890.6L1183.0 891.6L1182.6 892.6L1182.4 893.6L1182.4 894.6L1182.6 895.6L1182.9 896.6L1183.4 897.6L1183.9 898.6L1184.4 899.6L1184.9 900.6L1185.4 901.6L1186.0 902.6L1186.5 903.6L1187.1 904.6L1187.6 905.6L1188.2 906.6L1188.8 907.6L1189.3 908.6L1189.9 909.6L1190.3 910.6L1190.8 911.6L1191.3 912.6L1191.8 913.6L1192.1 914.6L1192.3 915.6L1192.5 916.6L1192.7 917.6L1192.8 918.6L1192.9 919.6L1193.0 920.6L1193.0 921.6L1193.0 922.6L1193.0 923.6L1193.0 924.6L1193.0 925.6L1192.9 926.6L1192.9 927.6L1192.9 928.6L1192.9 929.6L1192.9 930.6L1193.1 931.6L1193.4 932.6L1193.7 933.6L1194.1 934.6L1194.5 935.6L1195.1 936.6L1195.6 937.6L1195.9 938.6L1196.2 939.6L1196.4 940.6L1196.4 941.6L1196.4 942.6L1196.4 943.6L1196.4 944.6L1196.4 945.6L1196.4 946.6L1196.4 947.6L1196.4 948.6L1196.4 949.6L1196.4 950.6L1196.4 951.6L1196.4 952.6L1196.4 953.6L1196.4 954.2L1196.4 954.2L1196.4 953.6L1196.4 952.6L1196.4 951.6L1196.4 950.6L1196.4 949.6L1196.4 948.6L1196.4 947.6L1196.4 946.6L1196.4 945.6L1196.4 944.6L1196.4 943.6L1196.4 942.6L1196.4 941.6L1196.4 940.6L1196.6 939.6L1196.9 938.6L1197.2 937.6L1197.7 936.6L1198.3 935.6L1198.7 934.6L1199.1 933.6L1199.4 932.6L1199.7 931.6L1199.9 930.6L1199.9 929.6L1199.9 928.6L1199.9 927.6L1199.9 926.6L1199.8 925.6L1199.8 924.6L1199.8 923.6L1199.8 922.6L1199.8 921.6L1199.8 920.6L1199.9 919.6L1200.0 918.6L1200.1 917.6L1200.3 916.6L1200.5 915.6L1200.7 914.6L1201.0 913.6L1201.5 912.6L1202.0 911.6L1202.5 910.6L1202.9 909.6L1203.5 908.6L1204.0 907.6L1204.6 906.6L1205.2 905.6L1205.7 904.6L1206.3 903.6L1206.8 902.6L1207.4 901.6L1207.9 900.6L1208.4 899.6L1208.9 898.6L1209.4 897.6L1209.9 896.6L1210.2 895.6L1210.4 894.6L1210.4 893.6L1210.2 892.6L1209.8 891.6L1209.3 890.6L1208.8 889.6L1208.4 888.6L1207.9 887.6L1207.4 886.6L1206.9 885.6L1206.4 884.6L1205.9 883.6L1205.5 882.6L1205.1 881.6L1204.7 880.6L1204.4 879.6L1204.0 878.6L1203.6 877.6L1203.2 876.6L1202.8 875.6L1202.4 874.6L1202.0 873.6L1201.6 872.6L1201.2 871.6L1200.8 870.6L1200.3 869.6L1199.9 868.6L1199.5 867.6L1199.1 866.6L1198.6 865.6L1198.2 864.6L1197.8 863.6L1197.4 862.6L1197.1 861.6L1196.8 860.6L1196.6 859.6L1196.4 858.6L1196.4 857.6L1196.4 856.6L1196.4 855.6L1196.4 854.6L1196.4 853.6L1196.4 852.6L1196.4 851.6L1196.4 850.6L1196.4 849.6Z" fill="#fff" stroke="#000" stroke-width="2.9" stroke-linejoin="round"/>
<circle cx="1207.4" cy="873.0" r="5.3" fill="rgba(255,255,255,0.35)" stroke="#fff" stroke-width="2.8"/>
<circle cx="1207.4" cy="873.0" r="5.3" fill="none" stroke="#999" stroke-width="1.1"/>
<circle cx="1196.4" cy="883.0" r="5.3" fill="rgba(255,255,255,0.35)" stroke="#fff" stroke-width="2.8"/>
<circle cx="1196.4" cy="883.0" r="5.3" fill="none" stroke="#999" stroke-width="1.1"/>
<circle cx="1187.4" cy="894.0" r="5.3" fill="rgba(255,255,255,0.35)" stroke="#fff" stroke-width="2.8"/>
<circle cx="1187.4" cy="894.0" r="5.3" fill="none" stroke="#999" stroke-width="1.1"/>
<circle cx="1197.4" cy="895.0" r="5.3" fill="rgba(255,255,255,0.35)" stroke="#fff" stroke-width="2.8"/>
<circle cx="1197.4" cy="895.0" r="5.3" fill="none" stroke="#999" stroke-width="1.1"/>
<circle cx="1206.4" cy="896.5" r="5.3" fill="rgba(255,255,255,0.35)" stroke="#fff" stroke-width="2.8"/>
<circle cx="1206.4" cy="896.5" r="5.3" fill="none" stroke="#999" stroke-width="1.1"/>
<circle cx="1196.4" cy="908.0" r="5.3" fill="rgba(255,255,255,0.35)" stroke="#fff" stroke-width="2.8"/>
<circle cx="1196.4" cy="908.0" r="5.3" fill="none" stroke="#999" stroke-width="1.1"/>
<circle cx="1196.4" cy="930.0" r="5.3" fill="rgba(255,255,255,0.35)" stroke="#fff" stroke-width="2.8"/>
<circle cx="1196.4" cy="930.0" r="5.3" fill="none" stroke="#999" stroke-width="1.1"/>
<line x1="1193.4" y1="883.5" x2="1199.4" y2="883.5" stroke="#000" stroke-width="1.7" stroke-dasharray="0.1 4.2" stroke-linecap="round"/>
<line x1="1194.4" y1="908.0" x2="1198.4" y2="908.0" stroke="#000" stroke-width="1.7" stroke-dasharray="0.1 4.2" stroke-linecap="round"/>
<path d="M1182.9 894.7H1198.7M1206.8 894.7H1209.9" stroke="#000" stroke-width="5" stroke-linecap="round" fill="none"/>
<path d="M1232.1 880.5L1232.1 881.5L1232.1 882.5L1232.1 883.5L1232.1 884.5L1232.1 885.5L1232.1 886.5L1232.1 887.5L1232.1 888.5L1231.9 889.5L1231.7 890.5L1231.4 891.5L1231.1 892.5L1230.7 893.5L1230.3 894.5L1230.0 895.5L1229.6 896.5L1229.2 897.5L1228.8 898.5L1228.3 899.5L1227.8 900.5L1227.2 901.5L1226.5 902.5L1225.9 903.5L1225.2 904.5L1224.4 905.5L1223.7 906.5L1223.1 907.5L1222.5 908.5L1221.8 909.5L1221.3 910.5L1220.8 911.5L1220.3 912.5L1219.9 913.5L1219.5 914.5L1219.1 915.5L1218.9 916.5L1218.9 917.5L1218.9 918.5L1219.1 919.5L1219.3 920.5L1219.4 921.5L1219.6 922.5L1219.7 923.5L1219.8 924.5L1219.8 925.5L1219.8 926.5L1219.8 927.5L1219.7 928.5L1219.6 929.5L1219.5 930.5L1219.5 931.5L1219.4 932.5L1219.4 933.5L1219.4 934.5L1219.6 935.5L1219.9 936.5L1220.4 937.5L1221.0 938.5L1221.5 939.5L1222.1 940.5L1222.8 941.5L1223.5 942.5L1224.3 943.5L1225.0 944.5L1225.7 945.5L1226.5 946.5L1227.3 947.5L1228.0 948.5L1228.7 949.5L1229.3 950.5L1229.9 951.5L1230.4 952.5L1230.7 953.5L1230.9 954.5L1230.9 955.5L1230.7 956.5L1230.5 957.5L1230.1 958.5L1229.6 959.5L1229.1 960.5L1228.8 961.5L1228.4 962.5L1228.1 963.5L1227.9 964.5L1227.8 965.5L1227.8 966.5L1228.0 967.5L1228.3 968.5L1228.6 969.5L1228.9 970.5L1229.3 971.5L1229.8 972.5L1230.3 973.5L1230.8 974.5L1231.5 975.5L1232.0 976.5L1232.1 977.5L1232.1 978.5L1232.1 979.5L1232.1 980.5L1232.1 981.5L1232.1 982.5L1232.1 983.5L1232.1 984.5L1232.1 985.5L1232.1 986.3L1232.1 986.3L1232.1 985.5L1232.1 984.5L1232.1 983.5L1232.1 982.5L1232.1 981.5L1232.1 980.5L1232.1 979.5L1232.1 978.5L1232.1 977.5L1232.2 976.5L1232.7 975.5L1233.4 974.5L1233.9 973.5L1234.4 972.5L1234.9 971.5L1235.3 970.5L1235.6 969.5L1235.9 968.5L1236.2 967.5L1236.4 966.5L1236.4 965.5L1236.3 964.5L1236.1 963.5L1235.8 962.5L1235.4 961.5L1235.1 960.5L1234.6 959.5L1234.1 958.5L1233.7 957.5L1233.5 956.5L1233.3 955.5L1233.3 954.5L1233.5 953.5L1233.8 952.5L1234.3 951.5L1234.9 950.5L1235.5 949.5L1236.2 948.5L1236.9 947.5L1237.7 946.5L1238.5 945.5L1239.2 944.5L1239.9 943.5L1240.7 942.5L1241.4 941.5L1242.1 940.5L1242.6 939.5L1243.2 938.5L1243.8 937.5L1244.3 936.5L1244.6 935.5L1244.8 934.5L1244.8 933.5L1244.8 932.5L1244.7 931.5L1244.7 930.5L1244.6 929.5L1244.5 928.5L1244.4 927.5L1244.4 926.5L1244.4 925.5L1244.4 924.5L1244.5 923.5L1244.6 922.5L1244.8 921.5L1244.9 920.5L1245.1 919.5L1245.3 918.5L1245.3 917.5L1245.3 916.5L1245.1 915.5L1244.7 914.5L1244.3 913.5L1243.9 912.5L1243.4 911.5L1242.9 910.5L1242.4 909.5L1241.7 908.5L1241.1 907.5L1240.5 906.5L1239.8 905.5L1239.0 904.5L1238.3 903.5L1237.6 902.5L1237.0 901.5L1236.4 900.5L1235.9 899.5L1235.4 898.5L1235.0 897.5L1234.6 896.5L1234.2 895.5L1233.8 894.5L1233.5 893.5L1233.1 892.5L1232.8 891.5L1232.5 890.5L1232.3 889.5L1232.1 888.5L1232.1 887.5L1232.1 886.5L1232.1 885.5L1232.1 884.5L1232.1 883.5L1232.1 882.5L1232.1 881.5L1232.1 880.5Z" fill="#b2b2b4" stroke="#e0382a" stroke-width="2.9" stroke-linejoin="round"/>
<rect x="1237.8" y="882.1" width="10.5" height="10.5" fill="none" stroke="#e2553f" stroke-width="1.2"/>
<rect x="1237.8" y="902.0" width="10.5" height="10.5" fill="none" stroke="#e2553f" stroke-width="1.2"/>
<rect x="1220.8" y="901.8" width="10.5" height="10.5" fill="none" stroke="#e2553f" stroke-width="1.2"/>
<rect x="1216.8" y="911.8" width="10.5" height="10.5" fill="none" stroke="#e2553f" stroke-width="1.2"/>
<rect x="1224.8" y="909.8" width="10.5" height="10.5" fill="none" stroke="#e2553f" stroke-width="1.2"/>
<rect x="1232.8" y="910.8" width="10.5" height="10.5" fill="none" stroke="#e2553f" stroke-width="1.2"/>
<rect x="1219.8" y="917.8" width="10.5" height="10.5" fill="none" stroke="#e2553f" stroke-width="1.2"/>
<rect x="1229.8" y="916.8" width="10.5" height="10.5" fill="none" stroke="#e2553f" stroke-width="1.2"/>
<rect x="1236.8" y="918.8" width="10.5" height="10.5" fill="none" stroke="#e2553f" stroke-width="1.2"/>
<rect x="1222.8" y="924.8" width="10.5" height="10.5" fill="none" stroke="#e2553f" stroke-width="1.2"/>
<rect x="1231.8" y="926.8" width="10.5" height="10.5" fill="none" stroke="#e2553f" stroke-width="1.2"/>
<rect x="1218.8" y="930.8" width="10.5" height="10.5" fill="none" stroke="#e2553f" stroke-width="1.2"/>
<rect x="1234.8" y="932.8" width="10.5" height="10.5" fill="none" stroke="#e2553f" stroke-width="1.2"/>
<rect x="1226.8" y="935.8" width="10.5" height="10.5" fill="none" stroke="#e2553f" stroke-width="1.2"/>
<rect x="1226.8" y="941.8" width="10.5" height="10.5" fill="none" stroke="#e2553f" stroke-width="1.2"/>
<rect x="1226.8" y="960.5" width="10.5" height="10.5" fill="none" stroke="#e2553f" stroke-width="1.2"/>
<path d="M1220.6 925.4h9.4M1234.2 925.4h9.4" stroke="#000" stroke-width="2.8" fill="none"/>
<path d="M443.3 519.0L445.6 563.6Q446.2 569.7 452.4 569.7H546.4Q552.4 569.7 552.9 563.6L555.6 519.0Z" fill="#fafafb" stroke="#c3cedd" stroke-width="1"/>
<path d="M452.4 520.0L455.7 528.7Q456.4 530.8 458.9 530.8H468.9Q471.0 530.8 471.6 528.7L474.2 520.0Z" fill="#e7eaef" stroke="#c6cdd9" stroke-width="0.9"/>
<path d="M447.9 562.8Q470.4 561.4 500.4 562.6T550.9 562.0L550.4 566.1Q549.4 567.7 545.4 567.7H453.4Q449.4 567.7 448.6 565.6Z" fill="#c8ae82"/>
<rect x="443.0" y="508.8" width="113.4" height="4.5" rx="0.8" fill="#4ea8d2"/>
<rect x="443.0" y="511.4" width="113.4" height="1.6" fill="#4a90ba"/>
<rect x="440.4" y="512.6" width="117.7" height="7.5" rx="1.6" fill="#53b0d8"/>
<rect x="440.8" y="516.5" width="116.9" height="3.2" rx="1.2" fill="#4a94c4"/>
<g transform="translate(472.9 563.8) scale(0.9946999999999999 0.9946999999999999)"><path d="M-11 -3c-5 0 -7 3.200 -4.500 4.800c2.500 1.200 8 0.400 10 0.800" fill="none" stroke="#c98d8f" stroke-width="1" stroke-linecap="round"/><path d="M-12 0c-2 -4 0 -9 6 -11c5 -1.600 10 -1.600 14 -0.500c1.500 -1.800 3.500 -2.400 5.500 -1.500c3 1.200 6 3.500 8.500 6c0.800 0.800 0.300 1.800 -1 2.200c-3 1 -6 1.800 -8.500 2.300c-1 1.500 -2.500 2.500 -4 2.500z" fill="#8b6b57"/><ellipse cx="11.6" cy="-10.6" rx="1.5" ry="1.900" fill="#c98d8f"/><circle cx="16.6" cy="-7.8" r="0.6" fill="#2a1a14"/><path d="M7 0l2 1.500M-6 0l-2 1.500" stroke="#c98d8f" stroke-width="1" stroke-linecap="round"/></g>
<g transform="translate(496.9 564.2) scale(1.0352999999999999 1.0352999999999999)"><path d="M-11 -3c-5 0 -7 3.200 -4.500 4.800c2.500 1.200 8 0.400 10 0.800" fill="none" stroke="#c98d8f" stroke-width="1" stroke-linecap="round"/><path d="M-6 0c-4 -3 -4 -10 1 -13c3 -2 6 -2 8 -1c1 -2 3 -3 5 -2.600c2.500 0.500 4.500 3 5.500 5.600c0.500 1.200 -0.500 2 -2 2.200l-2.500 0.800c0 3 -1 6 -3 8z" fill="#8b6b57"/><ellipse cx="6.4" cy="-14.2" rx="1.5" ry="1.8" fill="#c98d8f"/><circle cx="10.2" cy="-11.6" r="0.6" fill="#2a1a14"/><path d="M7 -6.500l2.200 0.600" stroke="#c98d8f" stroke-width="1" stroke-linecap="round"/></g>
<g transform="translate(529.4 564.4) scale(-0.9946999999999999 0.9946999999999999)"><path d="M-11 -3c-5 0 -7 3.200 -4.500 4.800c2.500 1.200 8 0.400 10 0.800" fill="none" stroke="#c98d8f" stroke-width="1" stroke-linecap="round"/><path d="M-12 0c-2 -4 0 -9 6 -11c5 -1.600 10 -1.600 14 -0.500c1.500 -1.800 3.500 -2.400 5.500 -1.500c3 1.200 6 3.500 8.500 6c0.800 0.800 0.300 1.800 -1 2.200c-3 1 -6 1.800 -8.500 2.300c-1 1.500 -2.500 2.500 -4 2.500z" fill="#8b6b57"/><ellipse cx="11.6" cy="-10.6" rx="1.5" ry="1.900" fill="#c98d8f"/><circle cx="16.6" cy="-7.8" r="0.6" fill="#2a1a14"/><path d="M7 0l2 1.500M-6 0l-2 1.500" stroke="#c98d8f" stroke-width="1" stroke-linecap="round"/></g>
<path d="M668.1 518.6L670.5 563.3Q671.1 569.4 677.6 569.4H776.5Q782.8 569.4 783.3 563.3L786.2 518.6Z" fill="#fafafb" stroke="#c3cedd" stroke-width="1"/>
<path d="M677.6 519.7L681.1 528.4Q681.8 530.5 684.5 530.5H695.0Q697.2 530.5 697.8 528.4L700.6 519.7Z" fill="#e7eaef" stroke="#c6cdd9" stroke-width="0.9"/>
<path d="M672.9 562.5Q696.6 561.1 728.1 562.3T781.2 561.7L780.7 565.8Q779.6 567.4 775.4 567.4H678.7Q674.5 567.4 673.6 565.3Z" fill="#c8ae82"/>
<rect x="667.7" y="508.5" width="119.3" height="4.5" rx="0.8" fill="#4ea8d2"/>
<rect x="667.7" y="511.1" width="119.3" height="1.6" fill="#4a90ba"/>
<rect x="665.0" y="512.3" width="123.8" height="7.5" rx="1.6" fill="#53b0d8"/>
<rect x="665.4" y="516.2" width="123.0" height="3.2" rx="1.2" fill="#4a94c4"/>
<g transform="translate(761.2 564.3) scale(-0.9946999999999999 0.9946999999999999)"><path d="M-11 -3c-5 0 -7 3.200 -4.500 4.800c2.500 1.200 8 0.400 10 0.800" fill="none" stroke="#c98d8f" stroke-width="1" stroke-linecap="round"/><path d="M-12 0c-2 -4 0 -9 6 -11c5 -1.600 10 -1.600 14 -0.500c1.500 -1.800 3.500 -2.400 5.500 -1.500c3 1.200 6 3.500 8.500 6c0.800 0.800 0.300 1.800 -1 2.200c-3 1 -6 1.800 -8.500 2.300c-1 1.500 -2.500 2.500 -4 2.500z" fill="#8b6b57"/><ellipse cx="11.6" cy="-10.6" rx="1.5" ry="1.900" fill="#c98d8f"/><circle cx="16.6" cy="-7.8" r="0.6" fill="#2a1a14"/><path d="M7 0l2 1.500M-6 0l-2 1.500" stroke="#c98d8f" stroke-width="1" stroke-linecap="round"/></g>
<path d="M453.4 1109.4L455.7 1154.0Q456.3 1160.1 462.5 1160.1H556.5Q562.5 1160.1 563.0 1154.0L565.7 1109.4Z" fill="#fafafb" stroke="#c3cedd" stroke-width="1"/>
<path d="M462.5 1110.4L465.8 1119.1Q466.5 1121.2 469.0 1121.2H479.0Q481.1 1121.2 481.7 1119.1L484.3 1110.4Z" fill="#e7eaef" stroke="#c6cdd9" stroke-width="0.9"/>
<path d="M458.0 1153.2Q480.5 1151.8 510.5 1153.0T561.0 1152.4L560.5 1156.5Q559.5 1158.1 555.5 1158.1H463.5Q459.5 1158.1 458.7 1156.0Z" fill="#c8ae82"/>
<rect x="453.1" y="1099.2" width="113.4" height="4.5" rx="0.8" fill="#4ea8d2"/>
<rect x="453.1" y="1101.8" width="113.4" height="1.6" fill="#4a90ba"/>
<rect x="450.5" y="1103.0" width="117.7" height="7.5" rx="1.6" fill="#53b0d8"/>
<rect x="450.9" y="1106.9" width="116.9" height="3.2" rx="1.2" fill="#4a94c4"/>
<g transform="translate(483.0 1154.2) scale(0.9946999999999999 0.9946999999999999)"><path d="M-11 -3c-5 0 -7 3.200 -4.500 4.800c2.500 1.200 8 0.400 10 0.800" fill="none" stroke="#c98d8f" stroke-width="1" stroke-linecap="round"/><path d="M-12 0c-2 -4 0 -9 6 -11c5 -1.600 10 -1.600 14 -0.500c1.500 -1.800 3.500 -2.400 5.500 -1.500c3 1.200 6 3.500 8.500 6c0.800 0.800 0.300 1.800 -1 2.200c-3 1 -6 1.800 -8.500 2.300c-1 1.500 -2.500 2.500 -4 2.500z" fill="#8b6b57"/><ellipse cx="11.6" cy="-10.6" rx="1.5" ry="1.900" fill="#c98d8f"/><circle cx="16.6" cy="-7.8" r="0.6" fill="#2a1a14"/><path d="M7 0l2 1.500M-6 0l-2 1.500" stroke="#c98d8f" stroke-width="1" stroke-linecap="round"/></g>
<g transform="translate(507.0 1154.6) scale(1.0352999999999999 1.0352999999999999)"><path d="M-11 -3c-5 0 -7 3.200 -4.500 4.800c2.500 1.200 8 0.400 10 0.800" fill="none" stroke="#c98d8f" stroke-width="1" stroke-linecap="round"/><path d="M-6 0c-4 -3 -4 -10 1 -13c3 -2 6 -2 8 -1c1 -2 3 -3 5 -2.600c2.500 0.500 4.500 3 5.500 5.600c0.500 1.200 -0.500 2 -2 2.200l-2.500 0.800c0 3 -1 6 -3 8z" fill="#8b6b57"/><ellipse cx="6.4" cy="-14.2" rx="1.5" ry="1.8" fill="#c98d8f"/><circle cx="10.2" cy="-11.6" r="0.6" fill="#2a1a14"/><path d="M7 -6.500l2.200 0.600" stroke="#c98d8f" stroke-width="1" stroke-linecap="round"/></g>
<g transform="translate(539.5 1154.8) scale(-0.9946999999999999 0.9946999999999999)"><path d="M-11 -3c-5 0 -7 3.200 -4.500 4.800c2.500 1.200 8 0.400 10 0.800" fill="none" stroke="#c98d8f" stroke-width="1" stroke-linecap="round"/><path d="M-12 0c-2 -4 0 -9 6 -11c5 -1.600 10 -1.600 14 -0.500c1.500 -1.800 3.500 -2.400 5.500 -1.500c3 1.200 6 3.500 8.500 6c0.800 0.800 0.300 1.800 -1 2.200c-3 1 -6 1.800 -8.500 2.300c-1 1.500 -2.500 2.500 -4 2.500z" fill="#8b6b57"/><ellipse cx="11.6" cy="-10.6" rx="1.5" ry="1.900" fill="#c98d8f"/><circle cx="16.6" cy="-7.8" r="0.6" fill="#2a1a14"/><path d="M7 0l2 1.500M-6 0l-2 1.500" stroke="#c98d8f" stroke-width="1" stroke-linecap="round"/></g>
<path d="M678.5 1109.0L681.0 1153.6Q681.6 1159.7 688.1 1159.7H786.8Q793.1 1159.7 793.6 1153.6L796.5 1109.0Z" fill="#fafafb" stroke="#c3cedd" stroke-width="1"/>
<path d="M688.1 1110.0L691.6 1118.7Q692.3 1120.8 694.9 1120.8H705.4Q707.6 1120.8 708.3 1118.7L711.0 1110.0Z" fill="#e7eaef" stroke="#c6cdd9" stroke-width="0.9"/>
<path d="M683.4 1152.8Q707.0 1151.4 738.5 1152.6T791.5 1152.0L791.0 1156.1Q790.0 1157.7 785.8 1157.7H689.2Q685.0 1157.7 684.1 1155.6Z" fill="#c8ae82"/>
<rect x="678.2" y="1098.8" width="119.1" height="4.5" rx="0.8" fill="#4ea8d2"/>
<rect x="678.2" y="1101.4" width="119.1" height="1.6" fill="#4a90ba"/>
<rect x="675.5" y="1102.6" width="123.6" height="7.5" rx="1.6" fill="#53b0d8"/>
<rect x="675.9" y="1106.5" width="122.8" height="3.2" rx="1.2" fill="#4a94c4"/>
<g transform="translate(771.6 1154.6) scale(-0.9946999999999999 0.9946999999999999)"><path d="M-11 -3c-5 0 -7 3.200 -4.500 4.800c2.500 1.200 8 0.400 10 0.800" fill="none" stroke="#c98d8f" stroke-width="1" stroke-linecap="round"/><path d="M-12 0c-2 -4 0 -9 6 -11c5 -1.600 10 -1.600 14 -0.500c1.500 -1.800 3.500 -2.400 5.500 -1.500c3 1.200 6 3.500 8.500 6c0.800 0.800 0.300 1.800 -1 2.200c-3 1 -6 1.800 -8.500 2.300c-1 1.500 -2.500 2.500 -4 2.500z" fill="#8b6b57"/><ellipse cx="11.6" cy="-10.6" rx="1.5" ry="1.900" fill="#c98d8f"/><circle cx="16.6" cy="-7.8" r="0.6" fill="#2a1a14"/><path d="M7 0l2 1.500M-6 0l-2 1.500" stroke="#c98d8f" stroke-width="1" stroke-linecap="round"/></g>
<g><path d="M1526.9 124.3C1544.8 125.2 1562.6 122.2 1573.1 128.5C1577.9 132.2 1577.3 135.4 1576.1 137.5" fill="none" stroke="#b98482" stroke-width="3.1" stroke-linecap="round"/><path d="M1489.7 126.7L1512.2 126.0" fill="none" stroke="#b98482" stroke-width="2.4" stroke-linecap="round"/><path d="M1607.8 118.0C1627.7 119.6 1643.5 115.9 1654.0 120.1C1662.4 123.8 1665.0 128.5 1662.6 133.0" fill="none" stroke="#b98482" stroke-width="3.2" stroke-linecap="round"/><path d="M1542.7 128.0L1554.2 127.5M1586.8 129.1L1600.4 127.5" fill="none" stroke="#c48e8b" stroke-width="2.600" stroke-linecap="round"/><ellipse cx="1489.4" cy="86.3" rx="3" ry="3.6" transform="rotate(25 1489.4 86.3)" fill="#3d3a38"/><ellipse cx="1552.7" cy="95.2" rx="3.2" ry="2.6" fill="#3d3a38"/><path d="M1475.5 103.9C1476.5 99.1 1482.8 91.8 1486.5 87.6C1487.6 85.0 1489.7 83.9 1491.2 85.0C1495.4 86.0 1499.6 88.1 1501.2 90.7C1509.1 88.1 1517.5 89.7 1523.3 96.0C1529.0 102.3 1530.6 109.6 1529.3 117.0C1528.5 121.2 1528.0 124.3 1526.4 126.7C1521.7 127.5 1516.4 127.5 1512.8 126.7C1511.2 125.4 1510.1 124.3 1509.1 124.3C1505.9 125.2 1501.7 124.9 1499.6 123.8C1496.5 121.2 1495.4 118.0 1492.8 117.0C1490.2 115.4 1488.1 113.8 1486.5 111.2C1487.6 109.6 1487.6 108.6 1486.0 108.1C1481.8 107.5 1477.1 107.0 1475.5 103.9Z" fill="#4a4745"/><ellipse cx="1495.7" cy="90.7" rx="3.6" ry="4.6" transform="rotate(15 1495.7 90.7)" fill="#c48e8b"/><circle cx="1483.9" cy="97.8" r="1.1" fill="#151212"/><ellipse cx="1483.1" cy="110.9" rx="3.4" ry="2" fill="#c48e8b"/><path d="M1531.7 106.5C1534.3 103.3 1542.7 98.6 1549.0 96.5C1550.0 93.9 1553.2 92.8 1555.8 94.1C1556.3 96.0 1559.5 97.6 1562.6 99.7C1570.0 97.6 1580.5 97.0 1587.8 98.9C1597.3 101.8 1604.6 108.6 1608.3 114.9C1609.4 119.1 1606.7 122.8 1602.5 124.9C1596.2 127.0 1588.9 127.0 1582.6 126.2C1576.3 124.3 1570.0 125.4 1563.7 124.1C1559.5 123.5 1555.8 122.8 1553.7 121.2C1551.1 118.0 1547.9 115.4 1543.7 114.4C1538.5 112.8 1533.2 110.7 1531.7 106.5Z" fill="#4a4745"/><path d="M1608.3 114.9C1609.4 119.1 1606.7 122.8 1602.5 124.9C1596.2 127.0 1588.9 127.0 1582.6 126.2C1591.0 124.3 1601.5 121.2 1608.3 114.9Z" fill="#3d3a38"/><ellipse cx="1556.1" cy="102.5" rx="3.4" ry="4.2" transform="rotate(15 1556.1 102.5)" fill="#c48e8b"/><circle cx="1542.5" cy="104.1" r="1.1" fill="#151212"/></g>
<g><path d="M1527.9 706.7C1545.8 707.6 1563.6 704.6 1574.1 710.9C1578.9 714.6 1578.3 717.8 1577.1 719.9" fill="none" stroke="#b98482" stroke-width="3.1" stroke-linecap="round"/><path d="M1490.7 709.1L1513.2 708.4" fill="none" stroke="#b98482" stroke-width="2.4" stroke-linecap="round"/><path d="M1608.8 700.4C1628.7 702.0 1644.5 698.3 1655.0 702.5C1663.4 706.2 1666.0 710.9 1663.6 715.4" fill="none" stroke="#b98482" stroke-width="3.2" stroke-linecap="round"/><path d="M1543.7 710.4L1555.2 709.9M1587.8 711.5L1601.4 709.9" fill="none" stroke="#c48e8b" stroke-width="2.600" stroke-linecap="round"/><ellipse cx="1490.4" cy="668.7" rx="3" ry="3.6" transform="rotate(25 1490.4 668.7)" fill="#3d3a38"/><ellipse cx="1553.7" cy="677.6" rx="3.2" ry="2.6" fill="#3d3a38"/><path d="M1476.5 686.3C1477.5 681.5 1483.8 674.2 1487.5 670.0C1488.6 667.4 1490.7 666.3 1492.2 667.4C1496.4 668.4 1500.6 670.5 1502.2 673.1C1510.1 670.5 1518.5 672.1 1524.3 678.4C1530.0 684.7 1531.6 692.0 1530.3 699.4C1529.5 703.6 1529.0 706.7 1527.4 709.1C1522.7 709.9 1517.4 709.9 1513.8 709.1C1512.2 707.8 1511.1 706.7 1510.1 706.7C1506.9 707.6 1502.7 707.3 1500.6 706.2C1497.5 703.6 1496.4 700.4 1493.8 699.4C1491.2 697.8 1489.1 696.2 1487.5 693.6C1488.6 692.0 1488.6 691.0 1487.0 690.5C1482.8 689.9 1478.1 689.4 1476.5 686.3Z" fill="#4a4745"/><ellipse cx="1496.7" cy="673.1" rx="3.6" ry="4.6" transform="rotate(15 1496.7 673.1)" fill="#c48e8b"/><circle cx="1484.9" cy="680.2" r="1.1" fill="#151212"/><ellipse cx="1484.1" cy="693.3" rx="3.4" ry="2" fill="#c48e8b"/><path d="M1532.7 688.9C1535.3 685.7 1543.7 681.0 1550.0 678.9C1551.0 676.3 1554.2 675.2 1556.8 676.5C1557.3 678.4 1560.5 680.0 1563.6 682.1C1571.0 680.0 1581.5 679.4 1588.8 681.3C1598.3 684.2 1605.6 691.0 1609.3 697.3C1610.4 701.5 1607.7 705.2 1603.5 707.3C1597.2 709.4 1589.9 709.4 1583.6 708.6C1577.3 706.7 1571.0 707.8 1564.7 706.5C1560.5 705.9 1556.8 705.2 1554.7 703.6C1552.1 700.4 1548.9 697.8 1544.7 696.8C1539.5 695.2 1534.2 693.1 1532.7 688.9Z" fill="#4a4745"/><path d="M1609.3 697.3C1610.4 701.5 1607.7 705.2 1603.5 707.3C1597.2 709.4 1589.9 709.4 1583.6 708.6C1592.0 706.7 1602.5 703.6 1609.3 697.3Z" fill="#3d3a38"/><ellipse cx="1557.1" cy="684.9" rx="3.4" ry="4.2" transform="rotate(15 1557.1 684.9)" fill="#c48e8b"/><circle cx="1543.5" cy="686.5" r="1.1" fill="#151212"/></g>
</svg>
</body>
</html>
